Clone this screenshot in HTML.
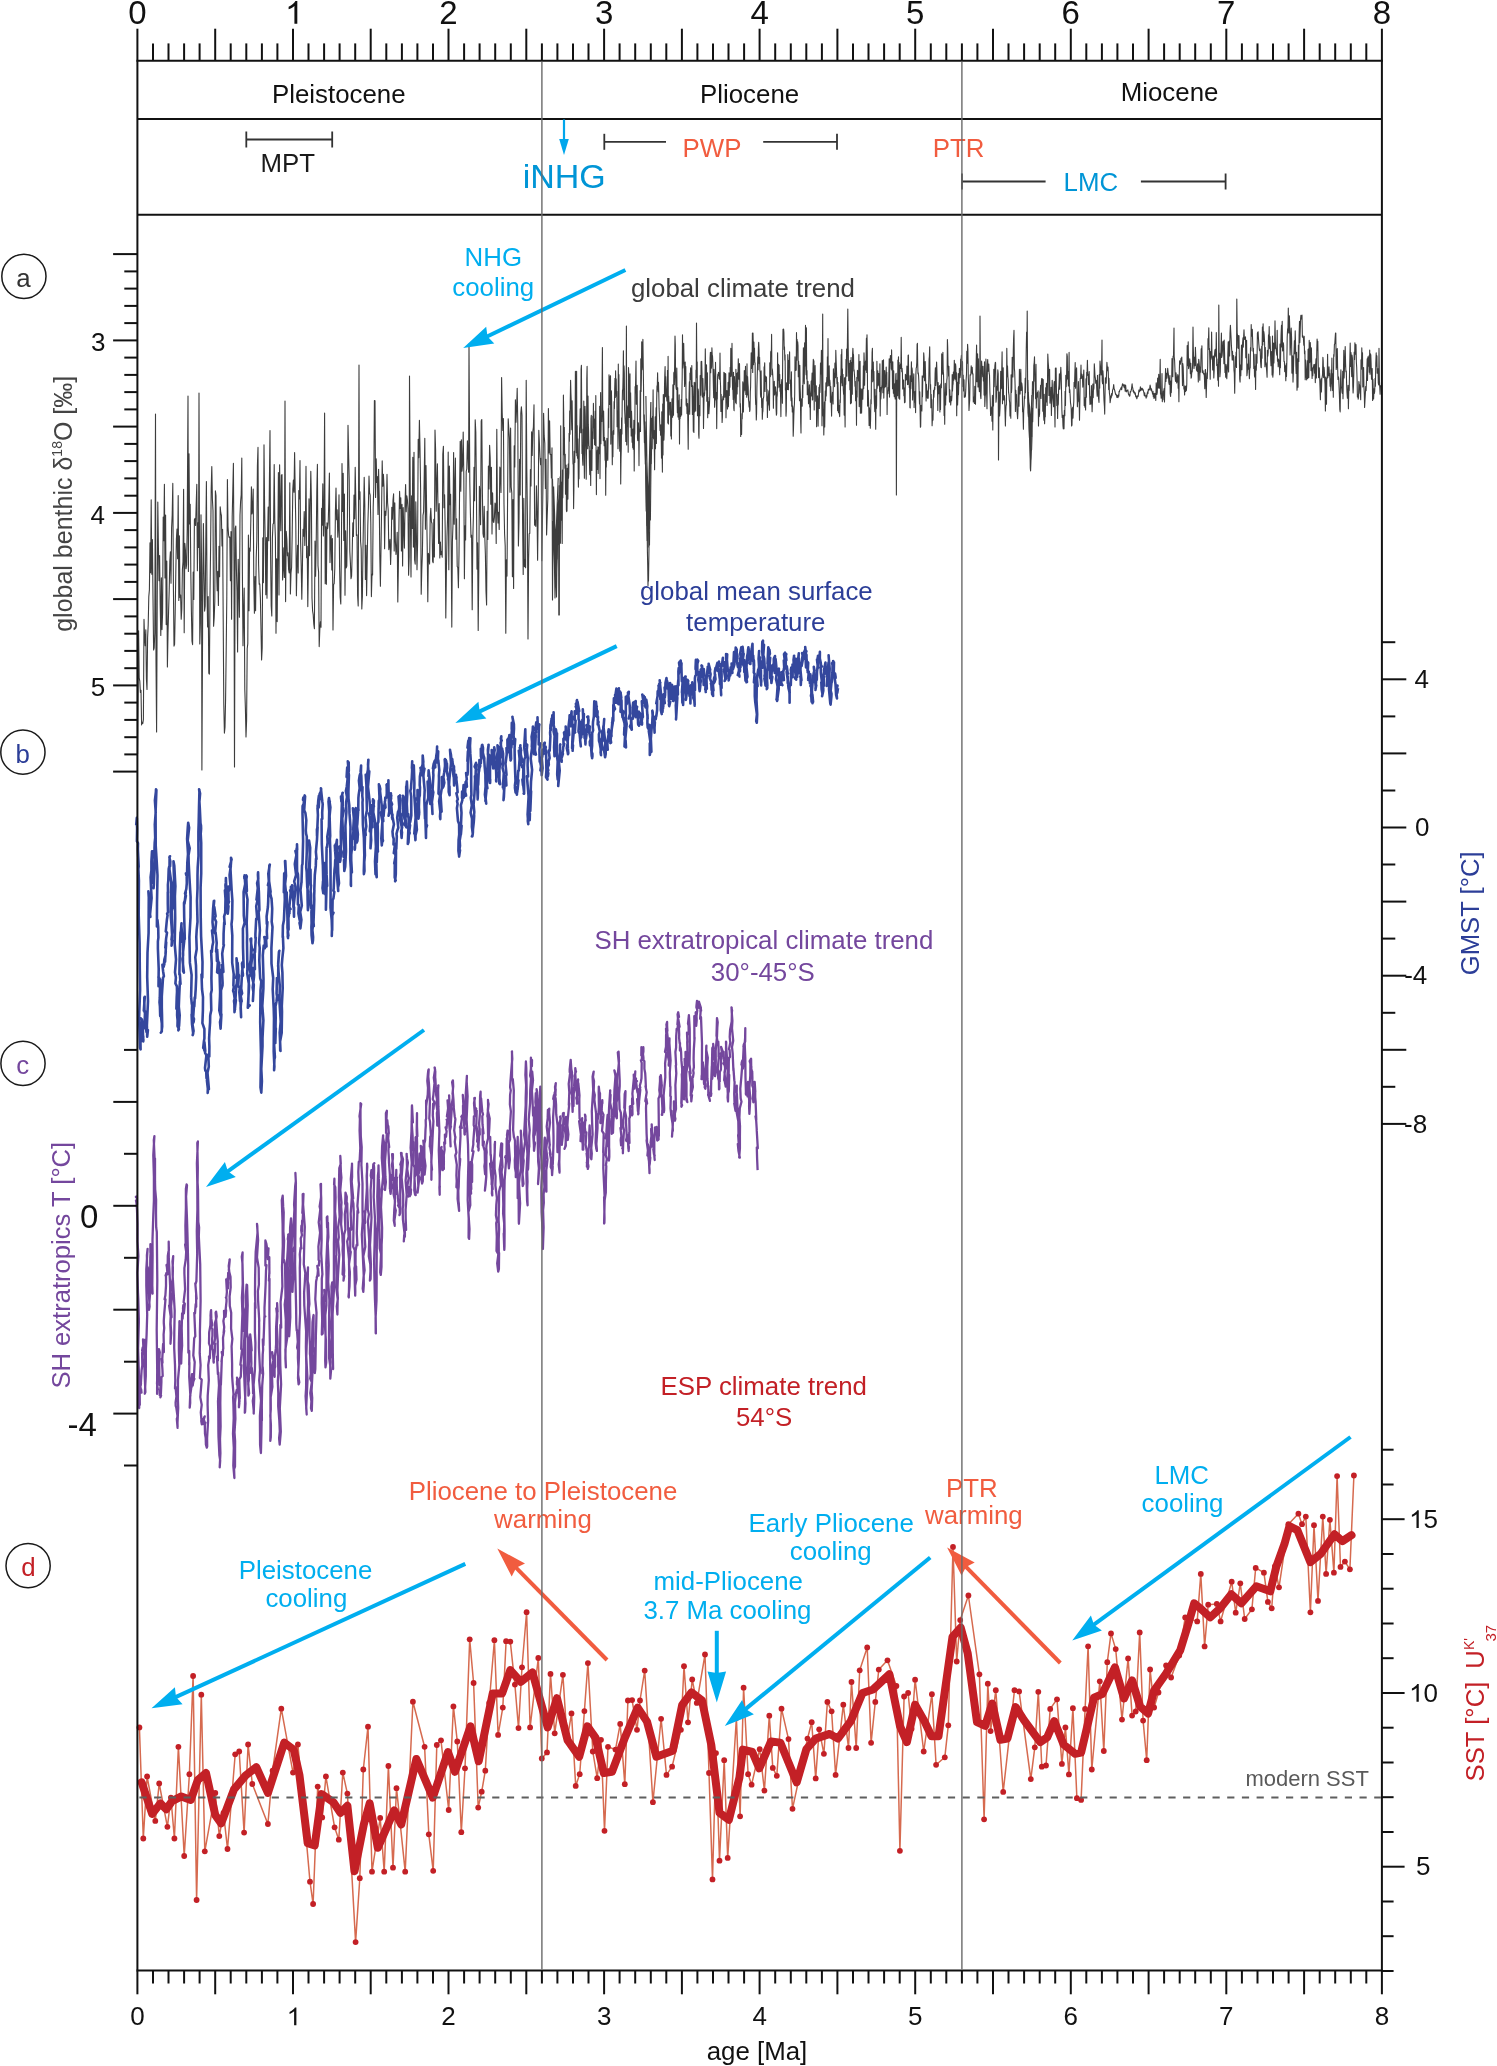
<!DOCTYPE html>
<html><head><meta charset="utf-8"><title>Climate trends</title>
<style>html,body{margin:0;padding:0;background:#fff;}svg{display:block;will-change:transform;}text{font-family:"Liberation Sans",sans-serif;}</style>
</head><body>
<svg xmlns="http://www.w3.org/2000/svg" width="1497" height="2066" viewBox="0 0 1497 2066">
<rect width="1497" height="2066" fill="#fff"/>
<polyline points="137.6,754 138,701.1 138.6,630.7 139.2,677.8 139.8,681.2 140.4,692.5 141,690.3 141.6,724.9 142.2,722.4 142.8,723.5 143.4,719.3 144,619.4 144.6,637.3 145.2,645.7 145.8,629.7 146.4,678.5 147,689.5 147.6,638 148.2,625.1 148.8,596.6 149.4,589.9 150,542.8 150.6,572.8 151.2,499.8 151.8,574.3 152.4,539.5 153,598.4 153.6,650 154.2,647.8 154.8,632.8 155.5,414 156,661.1 156.6,732 157.2,604.5 157.8,502 158.4,546.3 159,580.6 159.6,555.6 160.2,605.2 160.8,635.5 161.4,577.9 162,629.6 162.6,612.8 163.2,517 163.8,540.6 164.4,484.2 165,578 165.6,515.1 166.2,624.6 166.8,561.1 167.4,666.9 168,633.4 168.6,610.7 169.2,590.7 169.8,561.4 170.4,551.9 171,583.3 171.6,528 172.2,515.1 172.8,483.4 173.4,585.2 174,646.1 174.6,644.4 175.2,612.1 175.8,572.5 176.4,539.1 177,529.1 177.6,558.8 178.2,495.6 178.8,600.4 179.4,535.9 180,597.6 180.6,595 181.2,619.3 181.8,609.3 182.4,569.7 183,561.9 183.6,489.4 184.2,632.8 184.8,543.3 185.4,549.7 186,568.8 186.6,565 187.2,529.5 188,396 188.4,571.4 189,453.7 189.6,523.9 190.2,504.2 190.8,572.2 191.4,611.6 192,641.2 192.6,644.7 193.2,572 193.8,599.5 194.4,519.8 195,518.4 195.6,525.5 196.2,504.4 196.8,484.3 197.4,570.7 198,522.8 198.6,547.4 199,393 199.8,644 200.4,622.9 201,514.8 201.6,567.8 201.9,770 202.8,587.3 203.4,523.6 204,571.3 204.6,611.1 205.2,605.9 205.8,541.3 206.4,481.6 207,591 207.6,627 208.2,596.5 208.8,673.1 209.4,674.1 210,595.8 210.6,546.9 211.2,488.5 211.8,466.6 212.4,499.2 213,510.7 213.6,626.2 214.2,617.8 214.8,601.6 215.4,490.9 216,495.9 216.6,570.6 217.2,590.8 217.8,571.3 218.4,605.4 219,546.3 219.6,576.7 220.2,506.8 220.8,513 221.4,515.3 222,545.9 222.6,529.4 223.2,619.1 223.8,704.3 224.4,733.1 225,727.3 225.6,698.8 226.2,650 226.8,597.5 227.4,479.5 228,526.5 228.6,535.4 229.2,537.5 229.8,537 230.4,580.8 231,531.6 231.6,619.2 232.2,516.8 232.8,490.9 233.4,463.3 234,562.7 234.5,767 235.2,528.4 235.8,526 236.4,568.8 237,591.5 237.6,651.9 238.2,559.3 238.8,583.9 239.4,617.3 240,515.2 240.6,501.5 241.2,494.7 241.8,458 242.4,574 243,645.7 243.6,612.1 244.2,588 244.8,689.6 245.4,708.5 246,736.9 246.6,720.4 247.2,648.7 247.8,643.6 248.4,535.1 249,610.7 249.6,548.1 250.2,551.2 250.8,521.2 251.4,486.9 252,513.9 252.6,509.9 253.2,489.1 253.8,580.9 254.4,613.2 255,576.5 255.6,610.8 256.2,558.3 256.8,540.6 257.4,466.1 258,447.4 258.6,564.6 259.2,584.2 259.8,583.9 260.4,598.4 261,629.2 261.6,659.9 262.2,647.7 262.8,537.9 263.4,582.6 264,444.9 264.6,506.9 265.2,541.1 265.8,594.7 266.4,537.6 267,598.3 267.6,538 268.2,507.1 268.8,540.8 269.4,482.5 270,430.5 270.6,554.7 271.2,605.6 271.8,616 272.4,538.3 273,524.1 273.6,523.4 274.2,464.5 274.8,521.1 275.4,538.1 276,633.3 276.6,558.8 277.2,621.6 277.8,549.5 278.4,472.6 279,595 279.6,464.7 280.2,504.8 280.8,530.7 281.4,475.2 282,474.7 282.6,580 283.2,569.5 283.8,547.8 284.4,577.4 285,401 285.6,601.6 286.2,531.3 286.8,539 287.4,555.8 288,552.9 288.6,569.5 289.2,572.9 289.8,482.8 290.4,593.9 291,572.9 291.6,567.5 292.2,533.6 292.8,489.4 293.4,480 294,492.2 294.6,452.6 295.2,491.3 295.8,524.3 296.4,595.7 297,564.2 297.6,545.2 298.2,573 298.8,490.6 299.4,498.9 300,460.5 300.6,541.2 301.2,565.6 301.8,599.3 302.4,567.9 303,529.3 303.6,536.3 304.2,511.6 304.8,545.5 305.4,522.4 306,466.2 306.6,557.7 307.2,546.4 307.8,606.6 308.4,562.7 309,498.7 309.6,555.8 310.2,506.7 310.8,471.2 311.4,499.5 312,598 312.6,611 313.2,614.7 313.8,624.1 314.4,628.8 315,541.1 315.6,576.2 316.2,544.2 316.8,492 317.4,464.4 318,565.7 318.6,572.1 319.2,646.6 319.8,629.7 320.4,621.7 321,627.2 321.6,508.3 322.2,525.3 322.8,483.9 323.4,536 324,516.1 324.6,413 325.2,583.8 325.8,526.7 326.4,584.2 327,522.9 327.6,528.8 328.2,523.3 328.8,501.5 329.4,473 330,562.6 330.6,539.1 331.2,535.4 331.8,570 332.4,538.5 333,630 333.6,584.5 334.2,583.6 334.8,568.2 335.4,511.5 336,488.1 336.6,519.8 337.2,509.7 337.8,537.1 338.4,526.6 339,494.8 339.6,567.8 340.2,597.2 340.8,604 341.4,548.4 342,463.6 342.6,511.4 343.2,473.2 343.8,540.5 344.4,494.1 345,595.3 345.6,530.9 346.2,567.9 346.8,566 347.4,522.2 348,425.3 348.6,454.6 349.2,479.1 349.8,551.1 350.4,562.8 351,578.7 351.6,576.2 352.2,552.8 352.8,522.9 353.4,536.5 354,495.1 354.6,518.7 355.2,467.3 355.8,499.8 356.4,535.4 357,534.8 357.6,595.5 358.2,605.9 359,365 359.4,499.3 360,491.8 360.6,541.5 361.2,548.8 361.8,609 362.4,596.1 363,548.1 363.6,512.2 364.2,477.2 364.8,504.3 365.4,579.4 366,545.2 366.6,595.6 367.2,560.7 367.8,525.5 368.4,506.6 369,476.1 369.6,493 370.2,495.2 370.8,522.8 371.4,596.6 372,574.4 372.6,574.9 373.2,507.6 373.8,486.7 374.4,400.5 375,400.8 375.6,497.4 376.2,458.7 376.8,482.5 377.4,476.5 378,514.4 378.6,469.3 379.2,497.4 379.8,555.7 380.4,586.2 381,548.8 381.6,508.8 382.2,460.9 382.8,486.1 383.4,474.4 384,487 384.6,548.8 385.2,511.2 385.8,515.4 386.4,505.9 387,474.4 387.6,502.8 388.2,510 388.8,549.6 389.4,544.7 390,539.4 390.6,564.5 391.2,546.3 391.8,507.3 392.4,519.2 393,500.2 393.6,493.8 394.2,550.9 394.8,502.9 395.4,541.2 396,554.4 396.6,547.5 397.2,532.3 397.8,602 398.4,565.1 399,519.1 399.6,491.4 400.2,508.5 400.8,497.8 401.4,551 402,504.4 402.6,566 403.2,507.6 403.8,529 404.4,548.1 405,504.8 405.6,484.6 406.2,511.7 406.8,495.9 407.4,499.8 408,508.5 408.6,575.2 409.2,557.4 409.5,376 410.4,516.8 411,576.9 411.6,495.9 412.2,528.5 412.8,457.2 413.4,547.1 414,452.3 414.6,559.6 415.2,564.1 415.8,501.8 416.4,534.6 417,569.7 417.6,543.1 418.2,439.3 418.8,457.6 419.4,420.2 420,447.9 420.6,488.3 421.2,594.2 421.8,569.4 422.4,553.5 423,515.4 423.6,511.9 424.2,478 424.8,438.3 425.4,529.3 426,465.5 426.6,507 427.2,546 427.8,601.8 428.4,553.3 429,557 429.6,563.9 430.2,517.4 430.8,508.2 431.4,521.8 432,523.5 432.6,561.4 433.2,562.8 433.8,519.3 434.4,557 435,430 435.6,450 436.2,511.2 436.8,485.5 437.4,463.8 438,508.6 438.6,543.4 439.2,503.5 439.8,558 440.4,542 441,554.6 441.6,551.5 442.2,557.2 442.8,454.3 443.4,446.3 444,507.7 444.6,494.8 445.2,530.2 445.8,617.9 446.4,570.7 447,536.8 447.6,516.9 448.2,452.1 448.8,569.8 449.4,466.1 450,504.8 450.6,494.2 451.2,547.5 451.8,627.1 452.4,542 453,523.9 453.6,452.6 454.2,524.2 454.8,487.3 455.4,458 456,539.2 456.6,518.7 457.2,566.4 457.8,567.5 458.4,587.7 459,554.4 459.6,490.6 460.2,441.2 460.8,491.2 461.4,439.8 462,471.3 462.6,464.8 463.2,432.1 463.8,474.1 464.4,578.7 465,525.7 465.6,540 466.2,471.5 466.8,468.9 467.4,440.8 468,454.5 468.6,472.3 469,344 469.8,482 470.4,513.3 471,537.3 471.6,535.2 472.2,609.8 472.8,539.1 473.4,515.9 474,467.3 474.6,500.7 475.2,419.7 475.8,432 476.4,484.9 477,569.1 477.6,542.9 478.2,630.5 478.8,570.6 479.4,486.2 480,493.5 480.6,524.8 481.2,420.9 481.8,419.6 482.4,493.4 483,533.3 483.6,537.3 484.2,506.3 484.8,537 485.4,555.1 486,591.2 486.6,605 487.2,511.2 487.8,539.4 488.4,466 489,488.9 489.6,445.2 490.2,457.8 490.8,504.2 491.4,467.3 492,534 492.6,492.9 493.2,520.9 493.8,522.5 494.4,517.5 495,503 495.6,504.8 496.2,543.5 496.8,429.2 497.4,509.1 498,523 498.6,512.2 499.2,529.5 499.8,467.1 500.4,471 501,492.4 501.6,377.5 502.2,412.8 502.8,430.4 503.4,418.5 504,504.3 504.6,534 505.2,545.9 505.8,633.3 506.4,559.7 507,576.1 507.6,496.6 508.2,418.8 508.8,429.1 509.4,437.9 510,492.3 510.6,428.1 511.2,487.1 511.8,492.8 512.4,576.7 513,499.5 513.6,588.5 514.2,445.9 514.8,467 515.4,399.8 516,422.3 516.6,408.2 517.2,388.2 517.8,424.9 518.4,545.9 519,521.2 519.6,459.2 520.2,494.9 520.8,413.4 521.4,406.8 522,415.3 522.6,522.6 523.2,574.5 523.8,498.4 524.4,566.6 525,559.7 525.6,567.7 526.2,380.3 526.8,468.4 527.4,514.9 528,639 528.6,559.5 529.2,533.7 529.8,533.5 530.4,469.6 531,485.9 531.6,431.9 532.2,455.5 532.8,431.8 533.4,427 534,404.7 534.6,525.3 535.2,520.4 535.8,526.4 536.4,485.7 537,507.7 537.6,560.2 538.2,507.5 538.8,430.2 539.4,443 540,456.5 540.6,464.8 541.2,458.2 541.8,560.8 542.4,524 543,479.9 543.6,413.2 544.2,435.9 544.8,443.4 545.4,488.5 546,459.2 546.6,535 547.2,515.8 547.8,499.5 548.4,408.6 549,452.9 549.6,420.9 550.2,454.5 550.8,454.4 551.4,477.9 552,447.9 552.5,600 553.2,521.4 553.8,539.4 554.4,562.6 555,598 555.3,558.4 555.6,572.4 555.9,583.3 556.2,586.4 556.5,596.9 556.8,572.4 557.1,560.8 557.4,546.1 557.7,543.5 558,537 558.3,531.9 558.6,510.7 558.8,615 559.3,615 559.5,498 559.8,489.3 560.1,476.9 560.4,543.3 560.7,425.8 561,479.6 561.3,520.3 561.6,482.2 561.9,522 562.2,543.4 562.5,470.1 562.8,497.8 563.1,474.5 563.4,395.1 563.7,414.3 564,454.7 564.3,427.2 564.6,453.7 564.9,468.2 565.2,454.2 565.5,494.3 565.8,488.4 566.1,465 566.4,510 566.7,511.7 567,510.5 567.3,468.2 567.6,485.9 567.9,499.1 568.2,464.1 568.5,478.2 568.8,472.6 569.1,433.2 569.4,441.2 569.7,410.9 570,434.2 570.3,399.1 570.6,380.3 570.9,392.8 571.2,400.3 571.5,419.3 571.8,429.7 572.1,400.7 572.4,421 572.7,452.8 573,464.1 573.3,463.5 573.6,508.6 573.9,489 574.2,451.2 574.5,459 574.8,462.4 575.1,429.7 575.4,371.3 575.7,402.6 576,397.4 576.3,452.7 576.6,371.2 576.9,455.7 577.2,425.5 577.5,458.2 577.8,438.8 578.1,457.5 578.4,487.1 578.7,465.7 579,478.7 579.3,444.6 579.6,428.5 579.9,424 580.2,409 580.5,408.7 580.8,432.8 581.1,369 581.4,365.4 581.7,408.8 582,453.5 582.3,446.6 582.6,459.7 582.9,465.3 583.2,429 583.5,454.7 583.8,401.1 584.1,453.1 584.4,478.2 584.7,424.1 585,406.3 585.3,415.9 585.6,441.9 585.9,455.6 586.2,479.3 586.5,447.3 586.8,378.8 587.1,366.4 587.4,424.4 587.7,448.7 588,396.1 588.3,424.4 588.6,430.8 588.9,446 589.2,446.2 589.5,465.9 589.8,474.6 590.1,450.7 590.4,462.1 590.7,485.5 591,418.7 591.3,415.2 591.6,445.1 591.9,470.4 592.2,431.9 592.5,448.4 592.8,416 593.1,438.6 593.4,403.4 593.7,427.6 594,418.8 594.3,420.8 594.6,444.8 594.9,442 595.2,411 595.5,445.4 595.8,395.6 596.1,454.7 596.4,494.6 596.7,452.5 597,455.6 597.3,450.1 597.6,469.5 597.9,446.9 598.2,473.4 598.5,455.3 598.8,447.4 599.1,453.7 599.4,445.1 599.7,406.2 600,478.6 600.3,434.5 600.6,392.5 600.9,443.7 601.2,416.4 601.5,416.2 601.8,421.5 602.1,384.3 602.4,347.5 602.7,406.9 603,419.5 603.3,440.6 603.6,411 603.9,426.6 604.2,445.8 604.5,437.2 604.8,444.3 605.1,460.2 605.4,440.9 605.7,495.3 606,454 606.3,467.1 606.6,452.8 606.9,438.3 607.2,456.1 607.5,458.6 607.8,460.4 608.1,436 608.4,408.5 608.7,427.6 609,374.8 609.3,397.4 609.6,399.8 609.9,404.4 610.2,376.4 610.5,375.7 610.8,444.1 611.1,407.2 611.4,390.9 611.7,405 612,435.7 612.3,464.7 612.6,439.2 612.9,456.8 613.2,431.6 613.5,430.3 613.8,434.3 614.1,401.5 614.4,408.6 614.7,389.2 615,378.2 615.3,397.4 615.6,370.7 615.9,392.1 616.2,378.8 616.5,396.2 616.8,391.4 617.1,426.8 617.4,410.7 617.7,414.4 618,448.7 618.3,364.1 618.6,402.3 618.9,374.5 619.2,431.3 619.5,443.6 619.8,451.3 620.1,447.8 620.4,429.4 620.7,483.9 621,459.6 621.3,447.7 621.6,417.7 621.9,433.9 622.2,402.9 622.5,390.2 622.8,389.3 623.1,376.1 623.4,350.8 623.7,399.8 624,365.8 624.3,372.9 624.6,409.5 624.9,415.2 625.2,423.4 625.5,423.5 625.8,441.4 626.1,432.5 626.4,326 626.7,445 627,405.5 627.3,414.3 627.6,426.4 627.9,406.8 628.2,452.3 628.5,367.5 628.8,373.7 629.1,388.9 629.4,417.5 629.7,391.7 630,373.9 630.3,427.2 630.6,392.8 630.9,411 631.2,435.9 631.5,411.3 631.8,420 632.1,442.2 632.4,433.8 632.7,447.6 633,429 633.3,449.2 633.6,435.5 633.9,420.2 634.2,471 634.5,435.5 634.8,433 635.1,386.6 635.4,392.9 635.7,378.5 636,361 636.3,404.2 636.6,387.1 636.9,403.3 637.2,385.4 637.5,438.5 637.8,440.6 638.1,440.3 638.4,422.7 638.7,436.1 639,465.6 639.3,430 639.6,432 639.9,421.8 640.2,390.6 640.5,431.4 640.8,358.8 641.1,391.5 641.4,377.8 641.7,341.8 642,369.6 642.3,365.2 642.6,348.6 642.9,339.4 643.2,362.8 643.5,384.1 643.8,415.5 644.1,426.3 644.4,442.6 644.7,430.4 645,445.3 645.3,464 645.6,454.8 645.9,485.1 646.2,511.1 646.5,501 646.8,525.6 647.1,524 647.4,551.2 647.7,565.3 648,585.5 648.3,572.4 648.5,581 648.9,554.5 649.2,532.5 649.5,545 649.8,509.5 650.1,507.2 650.4,520 650.7,491.9 651,464.2 651.3,463.7 651.6,445 651.9,437.5 652.2,448.7 652.5,416.4 652.8,419.4 653.1,389.8 653.4,437.6 653.7,439 654,430.6 654.3,446.5 654.6,469.7 654.9,434 655.2,416.8 655.5,448.7 655.8,422.7 656.1,407.7 656.4,443.5 656.7,398.9 657,385.7 657.3,386 657.6,372.7 657.9,388.1 658.2,391.6 658.5,382.4 658.8,393.9 659.1,408.4 659.4,414.3 659.7,422.4 660,430.5 660.3,426 660.6,435.3 660.9,424.7 661.2,431.4 661.5,458.1 661.8,411.7 662.1,452.7 662.4,472.1 662.7,404.1 663,455 663.3,394.6 663.6,424.6 663.9,440.1 664.2,432.1 664.5,386.5 664.8,374.4 665.1,366.5 665.4,396.8 665.7,376.5 666,385.3 666.3,391.8 666.6,396.6 666.9,400.9 667.2,396.4 667.5,370.3 667.8,422.9 668.1,356.4 668.4,423.9 668.7,396.1 669,405.1 669.3,402.1 669.6,406.9 669.9,414.9 670.2,413.1 670.5,402.2 670.8,436 671.1,411.5 671.4,438.9 671.7,411.3 672,398.9 672.3,413.6 672.6,417.3 672.9,384.9 673.2,391.5 673.5,415.2 673.8,373.2 674.1,372 674.4,384.6 674.7,359.2 675,336 675.3,345.1 675.6,377.9 675.9,386 676.2,388.8 676.5,389.5 676.8,368 677.1,401.5 677.4,412.7 677.7,387.7 678,417 678.3,400.5 678.6,412.9 678.9,419.4 679.2,394.7 679.5,443.9 679.8,412.1 680.1,418.6 680.4,407.3 680.7,416.5 681,410.8 681.3,399.2 681.6,415 681.9,392.5 682.2,376.9 682.5,334.8 682.8,368 683.1,362.6 683.4,348.6 683.7,343.4 684,359.8 684.3,366.7 684.6,386.4 684.9,382.3 685.2,362 685.5,383.4 685.8,366.5 686.1,404.6 686.4,406.2 686.7,399 687,413.6 687.3,413.4 687.6,403.5 687.9,427.7 688.2,449.3 688.5,411.8 688.8,410.9 689.1,393.5 689.4,381.8 689.7,414.2 690,373 690.3,379.6 690.6,367.9 690.9,375.2 691.2,371.7 691.5,386.5 691.8,365.6 692.1,387.9 692.4,414.4 692.7,385.9 693,396.8 693.3,431.2 693.6,423.2 693.9,432.5 694.2,382.3 694.5,411.9 694.8,388.3 695.1,382.9 695.4,404.2 695.7,411.1 696,370.1 696.3,371.7 696.5,323 696.9,377.6 697.2,361.9 697.5,415.8 697.8,397.4 698.1,389 698.4,391.4 698.7,434.8 699,438.2 699.3,405.6 699.6,410.7 699.9,415.8 700.2,375.5 700.5,376.4 700.8,395.3 701.1,361.6 701.4,369.3 701.7,361.2 702,373.3 702.3,397 702.6,380.9 702.9,378.5 703.2,391.9 703.5,428.4 703.8,409.9 704.1,393.1 704.4,395.9 704.7,392.9 705,381.7 705.3,348.9 705.6,374.1 705.9,371.5 706.2,390 706.5,364.7 706.8,401.2 707.1,384.8 707.4,372.8 707.7,417.8 708,397.3 708.3,413.5 708.6,401.6 708.9,413.6 709.2,408.9 709.5,404.3 709.8,394.1 710.1,358.1 710.4,352.4 710.7,372.8 711,352.6 711.3,368.4 711.6,366.6 711.9,347.8 712.2,355 712.5,356 712.8,361.5 713.1,372.7 713.4,386.8 713.7,397.8 714,369.3 714.3,376.9 714.6,407.3 714.9,400.7 715.2,394.2 715.5,362.2 715.8,382.2 716.1,399.9 716.4,392.2 716.7,428.6 717,399.9 717.3,398.9 717.6,376.9 717.9,374.1 718.2,375.5 718.5,372.4 718.8,374 719.1,378.4 719.4,372.9 719.7,379.4 720,353 720.3,380.2 720.6,387.2 720.9,411.5 721.2,394.3 721.5,408.1 721.8,399.7 722.1,422.4 722.4,417.1 722.7,398.7 723,396.3 723.3,396.7 723.6,399.8 723.9,372.2 724.2,393.9 724.5,373 724.8,397.3 725.1,394.4 725.4,373.5 725.7,374 726,417.7 726.3,397.3 726.6,399.9 726.9,390.5 727.2,397.8 727.5,408.9 727.8,403.8 728.1,382.4 728.4,406.6 728.7,391.8 729,372.8 729.3,395.4 729.6,377.6 729.9,387.3 730.2,367.3 730.5,376.5 730.8,348.2 731.1,374.9 731.4,352.4 731.7,376.2 732,343.4 732.3,377.3 732.6,389.4 732.9,388.3 733.2,399.5 733.5,372.3 733.8,408.2 734.1,410.7 734.4,376.6 734.7,383.8 735,388.7 735.3,397.8 735.6,402.4 735.9,369.4 736.2,403.8 736.5,388.2 736.8,373.6 737.1,394 737.4,372.7 737.7,386.8 738,374.4 738.3,358.7 738.6,376.4 738.9,379.2 739.2,370 739.5,363.5 739.8,384.5 740.1,406.9 740.4,403.5 740.7,436.4 741,424.9 741.3,431.5 741.6,434.4 741.9,413.6 742.2,418.8 742.5,407.6 742.8,381.8 743.1,384.6 743.4,411.9 743.7,392.5 744,392.1 744.3,370.6 744.6,377.4 744.9,390.2 745.2,377.1 745.5,366.2 745.8,394.5 746.1,377 746.4,375.9 746.7,397.2 747,363.7 747.3,394.9 747.6,376.5 747.9,383.2 748.2,387 748.5,399.7 748.8,402 749.1,407 749.4,402 749.7,411.4 750,409.6 750.3,391.8 750.6,387 750.9,367.4 751.2,352.9 751.5,368.5 751.8,356.1 752.1,360.8 752.4,333 752.7,372.5 753,333 753.3,345.8 753.6,364.6 753.9,342.1 754.2,359.3 754.5,348.1 754.8,362.3 755.1,363 755.4,395.2 755.7,404.4 756,403.8 756.3,420 756.6,413.1 756.9,387.5 757.2,376.4 757.5,367.3 757.8,356.7 758.1,369.8 758.4,348.3 758.7,342.3 759,348.9 759.3,363.6 759.6,357.2 759.9,371.2 760.2,372.1 760.5,394.4 760.8,397.3 761.1,370.9 761.4,391.6 761.7,407.5 762,398.5 762.3,419.2 762.6,412.6 762.9,411.1 763.2,398.3 763.5,398.1 763.8,396 764.1,366.8 764.4,368.9 764.7,362.9 765,391.4 765.3,375.7 765.6,380.3 765.9,381.5 766.2,376.7 766.5,377.6 766.8,401 767.1,389.6 767.4,417.4 767.7,404.1 768,405.2 768.3,396.9 768.6,394.1 768.9,390.9 769.2,404.7 769.5,410.2 769.8,362.7 770.1,375.6 770.4,376.6 770.7,352.2 771,351 771.3,355.8 771.6,334.4 771.9,374.7 772.2,368.7 772.5,370.8 772.8,375.5 773.1,380.2 773.4,408.3 773.7,384.6 774,395.3 774.3,381.2 774.6,394.6 774.9,388.9 775.2,393.6 775.5,386.9 775.8,390.6 776.1,408.9 776.4,415.1 776.7,413.7 777,391.7 777.3,395.9 777.6,352.7 777.9,387.7 778.2,367.6 778.5,364.4 778.8,380.2 779.1,365.2 779.4,387 779.7,374.4 780,391.3 780.3,384.2 780.6,397.7 780.9,416.6 781.2,389.9 781.5,383.2 781.8,379.5 782.1,380 782.4,403.2 782.7,354.7 783,329.3 783.3,339.3 783.6,329.1 783.9,332.6 784.2,349.4 784.5,346.9 784.8,360 785.1,354.8 785.4,390 785.7,388 786,416.1 786.3,411.1 786.6,382.7 786.9,384.4 787.2,385.2 787.5,389.4 787.8,354.6 788.1,370.1 788.4,389.7 788.7,360.8 789,360.2 789.3,362 789.6,351.9 789.9,383.4 790.2,379.7 790.5,383.2 790.8,395 791.1,400.6 791.4,371.8 791.7,406.3 792,397.8 792.3,411.9 792.6,405.8 792.9,408.6 793.2,436.2 793.5,428.5 793.8,416.6 794.1,408.1 794.4,404.3 794.7,394.6 795,356.8 795.3,367.1 795.6,366.6 795.9,370.5 796.2,369.8 796.5,332.6 796.8,360.2 797.1,339.4 797.4,349.5 797.7,341.7 798,345.9 798.3,376.7 798.6,361 798.9,367.6 799.2,388.5 799.5,400.7 799.8,365.3 800.1,386.8 800.4,394.2 800.7,422.2 801,433 801.3,398.8 801.6,401.6 801.9,405.2 802.2,406.3 802.5,385.2 802.8,397.5 803.1,375.3 803.4,347.8 803.7,361.6 804,379.2 804.3,383.8 804.6,342.9 804.9,346 805.2,365.9 805.5,325.4 805.8,368.3 806.1,374.8 806.4,327.8 806.7,379 807,370.6 807.3,394.7 807.6,384.1 807.9,381.3 808.2,389.6 808.5,403.8 808.8,398 809.1,399.9 809.4,384.9 809.7,407.1 810,399 810.3,419.5 810.6,393.7 810.9,390.3 811.2,381.1 811.5,395.9 811.8,381.7 812.1,373 812.4,399.9 812.7,399.8 813,369 813.3,359.3 813.6,384.3 813.9,360.7 814.2,409.9 814.5,374.9 814.8,391.6 815.1,365.5 815.4,384.3 815.7,401.3 816,395.7 816.3,385.9 816.6,426.8 816.9,407.6 817.2,397.9 817.5,395.8 817.8,402.7 818.1,426.1 818.4,398.8 818.7,403.7 819,387.3 819.3,408.4 819.6,384.8 819.9,392.4 820.2,383.2 820.5,363 820.8,374 821.1,371.6 821.4,350.4 821.7,381.6 822,425.8 822.3,383.8 822.7,314 822.9,385.4 823.2,415.9 823.5,409.9 823.8,434.9 824.1,420.9 824.4,402 824.7,427 825,405.6 825.3,390.9 825.6,400.5 825.9,382.7 826.2,395.9 826.5,385.6 826.8,377.2 827.1,386.2 827.4,356.7 827.7,381.4 828,338.5 828.3,385.8 828.6,370.8 828.9,368.4 829.2,365.7 829.5,385.8 829.8,380 830.1,383.2 830.4,402.3 830.7,386.6 831,392.6 831.3,404.7 831.6,416.1 831.9,396.7 832.2,397.2 832.5,392.2 832.8,397.8 833.1,404 833.4,368.9 833.7,375.8 834,373.4 834.3,378.2 834.6,386.6 834.9,363.3 835.2,362.8 835.5,377.8 835.8,350.3 836.1,360.1 836.4,367.8 836.7,377.1 837,383.8 837.3,377.6 837.6,410.8 837.9,382.2 838.2,392.4 838.5,412.8 838.8,412.3 839.1,405.5 839.4,414.2 839.7,416.6 840,399.7 840.3,402.5 840.6,376 840.9,383 841.2,354.6 841.5,358.5 841.8,349.3 842.1,385.8 842.4,368.9 842.7,384.6 843,374.2 843.3,389.4 843.6,394.1 843.9,392.2 844.2,415.1 844.5,377.9 844.8,404.1 845.1,426.9 845.4,377.1 845.7,384.3 846,359.4 846.3,375.6 846.6,349 846.9,376.3 847.2,357.5 847.5,335.6 847.8,309 848.1,339.1 848.4,361 848.7,380.8 849,368.9 849.3,363.2 849.6,372.4 849.9,389.7 850.2,360.5 850.5,403.7 850.8,398.4 851.1,357.5 851.4,402.9 851.7,362.6 852,378.6 852.3,394.2 852.6,354 852.9,348.3 853.2,355.1 853.5,354.5 853.8,371 854.1,369.8 854.4,374.1 854.7,378.2 855,386.2 855.3,381.2 855.6,400.8 855.9,400.4 856.2,390.9 856.5,425.2 856.8,377.4 857.1,396.9 857.4,370.4 857.7,378.1 858,373.3 858.3,370.8 858.6,381 858.9,354.5 859.2,406.6 859.5,377.6 859.8,365 860.1,361.2 860.4,413.2 860.7,407.4 861,388.9 861.3,402.5 861.6,413.1 861.9,399 862.2,389 862.5,390.9 862.8,399.2 863.1,385.3 863.4,365.7 863.7,388.6 864,352.9 864.3,362.5 864.6,385.3 864.9,369.1 865.2,365.8 865.5,361 865.8,369.9 866.1,357.9 866.4,338.4 866.7,372.5 867,334.7 867.3,353.3 867.6,406.1 867.9,404.4 868.2,390.2 868.5,400.6 868.8,408.1 869.1,425.4 869.4,407.7 869.7,411.7 870,420.4 870.3,428.3 870.6,419 870.9,399.6 871.2,403.8 871.5,369.7 871.8,371.2 872.1,352.3 872.4,348.2 872.7,381.8 873,366.3 873.3,362.1 873.6,380.3 873.9,371.4 874.2,396.8 874.5,404.7 874.8,411.6 875.1,389.3 875.4,405.7 875.7,429.3 876,396.1 876.3,408.6 876.6,405.4 876.9,361.3 877.2,388.2 877.5,375.7 877.8,370.9 878.1,385.7 878.4,374.1 878.7,373.5 879,384.6 879.3,376.6 879.6,391.6 879.9,363.7 880.2,416 880.5,387.4 880.8,399 881.1,394 881.4,389.2 881.7,387.2 882,384.5 882.3,360.6 882.6,372.5 882.9,392.7 883.2,362.2 883.5,359.7 883.8,398.1 884.1,384.4 884.4,387.7 884.7,370.6 885,377.1 885.3,386.4 885.6,386.8 885.9,381.5 886.2,367 886.5,379.3 886.8,372.4 887.1,414.5 887.4,391.3 887.7,391 888,393.8 888.3,387.4 888.6,390.8 888.9,373.1 889.2,358.7 889.5,397.1 889.8,362.8 890.1,362.7 890.4,355.6 890.7,355.7 891,359.8 891.3,369.1 891.6,349.9 891.9,370.3 892.2,361.7 892.5,388.8 892.8,361.8 893.1,382 893.4,393.2 893.7,370.7 894,392.7 894.3,396.6 894.6,383.7 894.9,387.4 895.2,399 895.5,386.1 895.8,374.3 896.1,373.3 896.4,495 896.7,384.6 897,380.3 897.3,382.4 897.6,395.7 897.9,360 898.2,364.2 898.5,356.8 898.8,398.2 899.1,362.5 899.4,393.2 899.7,399.3 900,365.1 900.3,366.6 900.6,363.8 900.9,368.4 901.2,337.4 901.5,363.6 901.8,371.7 902.1,368.4 902.4,372.1 902.7,389 903,379.9 903.3,380.4 903.6,380.1 903.9,395.7 904.2,387.7 904.5,402.7 904.8,394.2 905.1,402.3 905.4,374.3 905.7,380.3 906,379.2 906.3,375.4 906.6,379.6 906.9,366.1 907.2,367.8 907.5,384.6 907.8,374.8 908.1,355.6 908.4,355 908.7,384.4 909,375.5 909.3,387.5 909.6,385.8 909.9,407.6 910.2,407.9 910.5,375.8 910.8,388.7 911.1,377.9 911.4,361.7 911.7,381.4 912,367.9 912.3,371 912.6,400 912.9,390.7 913.2,392.4 913.5,378.7 913.8,373.9 914.1,407.6 914.4,393.5 914.7,402.1 915,391.7 915.3,391.2 915.6,412.6 915.9,373.7 916.2,367.9 916.5,367.5 916.8,362.2 917.1,344.3 917.4,343.3 917.7,363.4 918,373.7 918.3,372.7 918.6,376 918.9,382.6 919.2,394.9 919.5,404 919.8,391.9 920.1,410.6 920.4,427.2 920.7,426.6 921,405.3 921.3,410.6 921.6,408.1 921.9,410.9 922.2,375.9 922.5,396.7 922.8,376.5 923.1,377.9 923.4,377 923.7,352.9 924,356.7 924.3,367.9 924.6,380.8 924.9,368.8 925.2,361.6 925.5,373 925.8,388.8 926.1,400.9 926.4,384.3 926.7,389.4 927,394.1 927.3,397.6 927.6,391.1 927.9,398.4 928.2,398 928.5,388.5 928.8,379.4 929.1,359.1 929.4,356.3 929.7,346.8 930,375.9 930.3,389.1 930.6,384.6 930.9,407.7 931.2,394.2 931.5,402.7 931.8,399.5 932.1,425.8 932.4,419.5 932.7,420.5 933,419.7 933.3,405.8 933.6,390.2 933.9,397.3 934.2,391.6 934.5,387.4 934.8,389.5 935.1,373.8 935.4,367.8 935.7,385.5 936,380.3 936.3,369.3 936.6,362.1 936.9,370.2 937.2,382.2 937.5,390 937.8,410.5 938.1,382.5 938.4,389.5 938.7,386.2 939,393.7 939.3,390.9 939.6,385.5 939.9,411.9 940.2,401 940.5,409.4 940.8,384 941.1,388 941.4,387.6 941.7,353.8 942,355.3 942.3,374.1 942.6,368.1 942.9,352.2 943.2,370.9 943.5,373.6 943.8,386.3 944.1,415.6 944.4,397.7 944.7,424.2 945,393.6 945.3,383.4 945.6,404.9 945.9,393.2 946.2,393.4 946.5,395.1 946.8,380.4 947.1,377.6 947.4,339.6 947.7,347.3 948,365.4 948.3,366.5 948.6,376.1 948.9,366.4 949.2,388.1 949.5,402.1 949.8,389.7 950.1,396.4 950.4,396.4 950.7,405 951,400.7 951.3,396.2 951.6,400.7 951.9,396.4 952.2,374.6 952.5,391 952.8,385.3 953.1,384 953.4,372.1 953.7,380.3 954,378.5 954.3,360.2 954.6,368.4 954.9,376.2 955.2,379.2 955.5,363.9 955.8,366.2 956.1,381.3 956.4,372.6 956.7,415.7 957,382 957.3,385.5 957.6,405 957.9,395.9 958.2,373.5 958.5,394.7 958.8,381.9 959.1,383.7 959.4,368.2 959.7,372.8 960,377.6 960.4,374.6 960.7,359 961.1,359.3 961.4,355.2 961.8,369.9 962.2,370.3 962.5,361.5 962.9,386.5 963.2,375 963.6,390.9 964,379.8 964.3,397.2 964.7,396.1 965,397.1 965.4,396.2 965.8,389.4 966.1,380.2 966.5,374.1 966.8,351.4 967.2,363.1 967.6,344.3 967.9,349.5 968.3,377.7 968.6,384.6 969,410.5 969.4,403.7 969.7,400.2 970.1,374.9 970.4,375.1 970.8,375 971.2,365.8 971.5,370 971.9,373.3 972.2,367.4 972.6,373.9 973,373.7 973.3,401.9 973.7,400 974,397 974.4,403.4 974.8,386.2 975.1,399.8 975.5,404.3 975.8,380.7 976.2,360.9 976.6,345.1 976.9,381.8 977.3,368.2 977.6,353.9 978,387 978.4,358.9 978.7,379.5 979.1,387.5 979.4,391.6 979.8,387.5 980,316 980.5,395.4 980.9,398.7 981.2,388 981.6,361.1 982,367.8 982.3,370.9 982.7,376.8 983,366.3 983.4,381 983.8,377.7 984.1,395.1 984.5,361.8 984.8,406.5 985.2,396.6 985.6,393.5 985.9,359 986.3,376.3 986.6,392.4 987,408.7 987.4,364.4 987.7,359.5 988.1,369.8 988.4,371.3 988.8,364.1 989.2,373.7 989.5,375 989.9,392.2 990.2,398.7 990.6,415.5 991,408.6 991.3,409.5 991.7,406.9 992,421.3 992.4,395.4 992.8,430 993.1,398 993.5,406 993.8,369.4 994.2,386.7 994.6,371.2 994.9,365.6 995.3,362.4 995.6,362.9 996,402.2 996.4,397.7 996.7,386.2 997.1,390.6 997.4,381.5 997.8,369.9 998.2,373.8 998.5,460 998.9,402.4 999.2,392 999.6,416 1000,408.8 1000.3,400.6 1000.7,371.3 1001,388.7 1001.4,387.7 1001.8,367.7 1002.1,351.9 1002.5,403.7 1002.8,382.8 1003.2,367.7 1003.6,400 1003.9,399 1004.3,395.6 1004.6,398.2 1005,411.2 1005.4,425.9 1005.7,412.7 1006.1,404.9 1006.4,405 1006.8,348.4 1007.2,376.8 1007.5,365.9 1007.9,376.7 1008.2,379.9 1008.6,392.4 1009,394.8 1009.3,399.8 1009.7,402.6 1010,416 1010.4,405.9 1010.8,418.3 1011.1,374.7 1011.5,392.5 1011.8,388.2 1012.2,357.3 1012.6,361 1012.9,377 1013.3,349.7 1013.6,338.7 1014,330.4 1014.4,368.5 1014.7,371.9 1015.1,385.4 1015.4,411.5 1015.8,390.4 1016.2,398.9 1016.5,394.5 1016.9,409.6 1017.2,413.3 1017.6,418.7 1018,410.8 1018.3,387.8 1018.7,386.4 1019,406.2 1019.4,369.4 1019.8,387.3 1020.1,393.9 1020.5,375.6 1020.8,369.3 1021.2,390.4 1021.6,382.8 1021.9,384 1022.3,387.5 1022.6,411.8 1023,411.7 1023.4,429.3 1023.7,409.9 1024.1,405.1 1024.4,396.2 1024.8,398.6 1025.2,378.2 1025.5,392.8 1025.9,377.7 1026.2,352.6 1026.6,332 1027,345.5 1027.2,311 1027.7,398 1028,412.6 1028.4,416.6 1028.8,409.6 1029.1,413.9 1029.5,438.1 1029.8,432.7 1030.3,468 1030.6,471 1030.9,462.6 1031.3,450.8 1031.6,449.9 1032,436.7 1032.4,408.3 1032.7,421.8 1033.1,403.9 1033.4,396.1 1033.8,365.5 1034.2,362.6 1034.5,356.7 1034.9,381.2 1035.2,379.1 1035.6,398.7 1036,364.4 1036.3,408 1036.7,395 1037,397.4 1037.4,392.5 1037.8,396.1 1038.1,390.8 1038.5,425.9 1038.8,409.1 1039.2,416.8 1039.6,413.8 1039.9,392.1 1040.3,391.1 1040.6,385.3 1041,398.4 1041.4,382.5 1041.7,378.5 1042.1,383 1042.4,378.7 1042.8,411.2 1043.2,379.5 1043.5,412.7 1043.9,420.3 1044.2,394.3 1044.6,423.8 1045,413 1045.3,416.7 1045.7,387.7 1046,401.9 1046.4,383.4 1046.8,387.8 1047.1,405.5 1047.5,383.1 1047.8,354 1048.2,362.2 1048.6,367.5 1048.9,395.5 1049.3,377.3 1049.6,369.3 1050,403.1 1050.4,395.1 1050.7,398.4 1051.1,387.2 1051.4,415.4 1051.8,399.5 1052.2,380.3 1052.5,392.2 1052.9,397.8 1053.2,400.9 1053.6,406.7 1054,384.9 1054.3,381.6 1054.7,408.5 1055,427 1055.4,368.1 1055.8,376 1056.1,368 1056.5,394.3 1056.8,405.5 1057.2,394.4 1057.6,418.5 1057.9,402.2 1058.3,404.9 1058.6,389.7 1059,385.3 1059.4,373.8 1059.7,389.2 1060.1,379.9 1060.4,376.5 1060.8,367.2 1061.2,375.4 1061.5,389.9 1061.9,410.7 1062.2,417.5 1062.6,415.3 1063,426 1063.3,429 1063.7,415.3 1064,428.7 1064.4,410.3 1064.8,415.8 1065.1,391.2 1065.5,405.5 1065.8,375.4 1066.2,386.7 1066.6,376.1 1066.9,353.7 1067.3,356.3 1067.6,379.1 1068,371.3 1068.4,386 1068.7,380 1069.1,352.4 1069.4,392.4 1069.8,389.5 1070.2,396.2 1070.5,402.7 1070.9,405.3 1071.2,409.1 1071.6,426 1072,425 1072.3,409 1072.7,407.4 1073,418.1 1073.4,407.7 1073.8,401.5 1074.1,382.3 1074.5,386.5 1074.8,375 1075.2,362.5 1075.6,388.2 1075.9,371.1 1076.3,370.4 1076.6,367.9 1077,389.4 1077.4,406.8 1077.7,394.2 1078.1,401.2 1078.4,381.6 1078.8,399.9 1079.2,403.7 1079.5,420.3 1079.9,397.8 1080.2,378.4 1080.6,378.2 1081,365 1081.3,378.5 1081.7,374.1 1082,374.5 1082.4,376.5 1082.8,387.1 1083.1,377 1083.5,376.2 1083.8,370 1084.2,405.4 1084.6,402.1 1084.9,407.2 1085.3,397.3 1085.6,410 1086,378.8 1086.4,397.2 1086.7,372.2 1087.1,372.1 1087.4,360.3 1087.8,375.4 1088.2,374.4 1088.5,384.6 1088.9,377 1089.2,371.6 1089.6,394.4 1090,404.5 1090.3,401.7 1090.7,396.5 1091,404 1091.4,385.5 1091.8,400.4 1092.1,411.8 1092.5,401 1092.8,384.1 1093.2,397.6 1093.6,383.9 1093.9,388.9 1094.3,363.8 1094.6,368.9 1095,376.1 1095.4,378.3 1095.7,383.3 1096.1,380.2 1096.4,380.8 1096.8,389.9 1097.2,396.3 1097.5,375.2 1097.9,389.5 1098.2,393.1 1098.6,398.7 1099,402.4 1099.3,374.5 1099.7,388.1 1100,361 1100.4,365.9 1100.8,370.2 1101.1,374.9 1101.5,373.8 1102,340 1102.2,380.9 1102.6,383.8 1102.9,370.8 1103.3,377.3 1103.6,388.9 1104,400.4 1104.4,406.1 1104.7,414.1 1105.1,389.9 1105.4,377.9 1105.8,382.8 1106.2,383.1 1106.5,374.8 1106.9,362.4 1107.2,366 1107.6,370.7 1108,367.1 1108.3,373.1 1108.7,389.6 1109,378.3 1109.4,393 1109.8,395.8 1110.1,402.7 1110.5,400 1110.8,396.1 1111.2,397.9 1111.6,393.6 1111.9,396 1112.3,394 1112.6,389.7 1113,389.5 1113.4,387.1 1113.7,384.6 1114.1,388.9 1114.4,389.1 1114.8,391 1115.2,392.5 1115.5,394.2 1115.9,394.8 1116.2,394.3 1116.6,395.8 1117,397.5 1117.3,396.2 1117.7,395.2 1118,397.7 1118.4,394.8 1118.8,396.2 1119.1,391.3 1119.5,391.6 1119.8,390.2 1120.2,389.5 1120.6,388.9 1120.9,388.4 1121.3,387.1 1121.6,389.8 1122,387.3 1122.4,384.3 1122.7,383.8 1123.1,385.5 1123.4,385.8 1123.8,384.7 1124.2,387.8 1124.5,384.8 1124.9,386.9 1125.2,391.1 1125.6,385 1126,389.4 1126.3,391.9 1126.7,390.8 1127,390.5 1127.4,391 1127.8,389.8 1128.1,391.7 1128.5,394.5 1128.8,394.2 1129.2,395.7 1129.6,396.2 1129.9,395.9 1130.3,391.5 1130.6,392.2 1131,390.8 1131.4,389.5 1131.7,387.2 1132.1,383.8 1132.4,386.8 1132.8,388.1 1133.2,391.7 1133.5,390.3 1133.9,392.9 1134.2,392.4 1134.6,392 1135,394.5 1135.3,393.1 1135.7,396.4 1136,397 1136.4,396 1136.8,398.8 1137.1,397.8 1137.5,396 1137.8,395.8 1138.2,396.3 1138.6,392.8 1138.9,390.1 1139.3,390 1139.6,391.8 1140,390.3 1140.4,386.8 1140.7,390.4 1141.1,388 1141.4,390 1141.8,390 1142.2,388.3 1142.5,389.9 1142.9,389.3 1143.2,389.9 1143.6,391.5 1144,393.5 1144.3,395.6 1144.7,392.8 1145,396 1145.4,395.7 1145.8,396.1 1146.1,398.1 1146.5,395 1146.8,397 1147.2,393.5 1147.6,391.9 1147.9,393.8 1148.3,389.6 1148.6,389.2 1149,390.1 1149.4,389.6 1149.7,388.4 1150.1,385 1150.4,386.3 1150.8,389.9 1151.2,390.5 1151.5,388.8 1151.9,391.4 1152.2,392 1152.6,394.1 1153,391.4 1153.3,396.7 1153.7,393.5 1154,398.4 1154.4,397.9 1154.8,393.2 1155.1,394.6 1155.5,396.9 1155.8,400.4 1156.2,382.9 1156.6,387.5 1156.9,394.4 1157.3,392.1 1157.6,378.4 1158,378 1158.4,388 1158.7,374.2 1159.1,383.6 1159.4,388.1 1159.8,381.5 1160.2,359.4 1160.5,393.8 1160.9,394.7 1161.2,398.2 1161.6,394.5 1162,373.5 1162.3,401.6 1162.7,393.4 1163,399.7 1163.4,391.3 1163.8,391.1 1164.1,388.5 1164.5,401.9 1164.8,387.7 1165.2,380.8 1165.6,368.6 1165.9,381.5 1166.3,374.8 1166.6,373.4 1167,378.2 1167.4,373.2 1167.7,368.2 1168.1,372.6 1168.4,374 1168.8,382.2 1169.2,384.4 1169.5,382 1169.9,375.5 1170.2,393.4 1170.6,396.4 1171,381 1171.3,392.6 1171.7,380.3 1172,358.6 1172.4,372.8 1172.8,376.7 1173.1,356 1173.5,356.1 1174,328 1174.2,356.8 1174.6,360.4 1174.9,368.3 1175.3,379.2 1175.6,381.5 1176,372.9 1176.4,377.1 1176.7,383 1177.1,380.7 1177.4,378.4 1177.8,374.6 1178.2,388.2 1178.5,376 1178.9,401.7 1179.2,377.1 1179.6,360.7 1180,364.4 1180.3,364.2 1180.7,361.3 1181,358.4 1181.4,359.7 1181.8,357.1 1182.1,367.8 1182.5,385.6 1182.8,363.5 1183.2,367.2 1183.6,380.8 1183.9,389.1 1184.3,388.1 1184.6,395 1185,385.9 1185.4,387.2 1185.7,391.4 1186.1,386.2 1186.4,390.5 1186.8,384 1187.2,345.5 1187.5,365.7 1187.9,353.8 1188.2,341.8 1188.6,368.6 1189,365.3 1189.3,365.8 1189.7,358.8 1190,363.6 1190.4,373.8 1190.8,363.3 1191.1,378.2 1191.5,377 1191.8,370.8 1192.2,371.9 1192.6,364.7 1193,327 1193.3,348.1 1193.6,358.4 1194,368.5 1194.4,362 1194.7,357.1 1195.1,365.6 1195.4,347.3 1195.8,357.3 1196.2,365.3 1196.5,370.2 1196.9,369.2 1197.2,371.5 1197.6,363.8 1198,371.8 1198.3,382 1198.7,359.2 1199,361.3 1199.4,365.7 1199.8,380.2 1200.1,367.4 1200.5,372.2 1200.8,365.5 1201.2,348.7 1201.6,354.9 1201.9,345.7 1202.3,372.5 1202.6,370.1 1203,370.9 1203.4,373.9 1203.7,374.1 1204.1,373.7 1204.4,376.7 1204.8,388.8 1205.2,370 1205.5,369.5 1205.9,382.9 1206.2,397.5 1206.6,382.8 1207,372.7 1207.3,378.5 1207.7,365.5 1208,338.6 1208.4,342.9 1208.8,327.9 1209.1,349.5 1209.5,348.6 1209.8,359.6 1210.2,379.2 1210.6,351.5 1210.9,359.5 1211.3,356.8 1211.6,332 1212,355.7 1212.4,357.7 1212.7,370 1213.1,359.4 1213.4,356 1213.8,378 1214.2,370.1 1214.5,354.9 1214.9,350.3 1215.2,349.3 1215.6,355.5 1216,357 1216.3,332.5 1216.7,365.4 1217,358.8 1217.4,367.8 1217.8,380.2 1218.1,364.4 1218.5,386.3 1218.8,305 1219.2,362.1 1219.6,353.1 1219.9,376.8 1220.3,371.6 1220.6,357 1221,349.5 1221.4,333.1 1221.7,357.5 1222.1,355.4 1222.4,351.7 1222.8,342.2 1223.2,341.3 1223.5,346.1 1223.9,363.7 1224.2,340.1 1224.6,353.8 1225,372.5 1225.3,366 1225.7,377.3 1226,364.3 1226.4,366.3 1226.8,378.7 1227.1,372.4 1227.5,368.2 1227.8,355.7 1228.2,341.9 1228.6,371.9 1228.9,347.7 1229.3,341 1229.6,355.9 1230,333.4 1230.4,325.2 1230.7,330.9 1231.1,338.3 1231.4,345.4 1231.8,351.4 1232.2,359.9 1232.5,351.2 1232.9,359.9 1233.2,358 1233.6,355.6 1234,370.5 1234.3,373.3 1234.7,393.3 1235,376 1235.4,356.8 1235.8,366.3 1236.1,352.1 1236.5,367.4 1236.8,299 1237.2,333 1237.6,335.9 1237.9,347.8 1238.3,348.3 1238.6,335.5 1239,335.7 1239.4,361.6 1239.7,379 1240.1,382.1 1240.4,365 1240.8,375.7 1241.2,356.3 1241.5,345.1 1241.9,369.7 1242.2,358.8 1242.6,342.9 1243,337.7 1243.3,347.1 1243.7,335.7 1244,329.8 1244.4,339.4 1244.8,339 1245.1,337.5 1245.5,336.9 1245.8,357.7 1246.2,345.2 1246.6,340.3 1246.9,375.8 1247.3,372.4 1247.6,367.3 1248,363.7 1248.4,369.3 1248.7,354.1 1249.1,372.6 1249.4,378.6 1249.8,368.2 1250.2,368 1250.5,347.6 1250.9,350.8 1251.2,324.5 1251.6,336.2 1252,333.5 1252.3,329.3 1252.7,343.1 1253,351.3 1253.4,348.3 1253.8,368.5 1254.1,354.4 1254.5,375.8 1254.8,377.2 1255.2,366.4 1255.6,389.4 1255.9,354.3 1256.3,370.2 1256.6,360.4 1257,363.2 1257.4,333.2 1257.7,332.6 1258.1,331.7 1258.4,337.6 1258.8,343.6 1259.2,348.1 1259.5,350.4 1259.9,350.9 1260.2,349 1260.6,362.1 1261,367.4 1261.3,367.7 1261.7,346.2 1262,358.3 1262.4,327.1 1262.8,345 1263.1,323.8 1263.5,341.4 1263.8,331.6 1264.2,334.7 1264.6,342.5 1264.9,366.8 1265.3,347.6 1265.6,364.6 1266,362.8 1266.4,367.6 1266.7,370.9 1267.1,377.2 1267.4,350.2 1267.8,356.2 1268.2,352.1 1268.5,334.8 1268.9,337.9 1269.2,326.5 1269.6,348.6 1270,336.6 1270.3,344.5 1270.7,359.4 1271,365.8 1271.4,351.5 1271.8,354.1 1272.1,374.9 1272.5,336.1 1272.8,377.1 1273.2,372.4 1273.6,343 1273.9,363 1274.3,350 1274.6,348 1275,320.9 1275.4,342.9 1275.7,348.7 1276.1,348.9 1276.4,351.7 1276.8,355.3 1277.2,330.3 1277.5,361.3 1277.9,358.6 1278.2,366.8 1278.6,359.5 1279,361.7 1279.3,361.8 1279.7,374.7 1280,344 1280.4,367.8 1280.8,344.2 1281.1,334.2 1281.5,325.3 1281.8,347 1282.2,321.3 1282.6,350.9 1282.9,348.7 1283.3,342.7 1283.6,345.4 1284,361.4 1284.4,361.6 1284.7,371.6 1285.1,367.5 1285.4,365.8 1285.8,380.7 1286.2,363.8 1286.5,376.5 1286.9,358.9 1287.2,337.3 1287.6,329.3 1288,327.6 1288.3,308 1288.7,332.9 1289,333 1289.4,315.8 1289.8,330.9 1290.1,354.9 1290.5,345.9 1290.8,335.5 1291.2,328 1291.6,338.2 1291.9,373.1 1292.3,368.5 1292.6,355.8 1293,382.1 1293.4,371.4 1293.7,358.2 1294.1,349.9 1294.4,340.7 1294.8,353.6 1295.2,330.8 1295.5,342.1 1295.9,366.1 1296.2,373.4 1296.6,352.3 1297,390.3 1297.3,385.5 1297.7,358.9 1298,387.2 1298.4,345.2 1298.8,361.4 1299.1,334.9 1299.5,321.3 1299.8,342.6 1300.2,331.1 1300.6,318.9 1300.9,315.3 1301.3,316.6 1301.6,319.3 1302,315 1302.4,337.1 1302.7,335.4 1303.1,337 1303.4,337.9 1303.8,345.3 1304.2,336.4 1304.5,353.8 1304.9,350.9 1305.2,379.8 1305.6,360 1306,369.8 1306.3,377 1306.7,380 1307,371 1307.4,360.7 1307.8,378.5 1308.1,349.4 1308.5,349 1308.8,377.5 1309.2,340.4 1309.6,362.8 1309.9,359.5 1310.3,342.6 1310.6,352.4 1311,370.6 1311.4,347.9 1311.7,364 1312.1,378.5 1312.4,368 1312.8,375.8 1313.2,367.9 1313.5,367.1 1313.9,364.6 1314.2,364.9 1314.6,373.1 1315,364.4 1315.3,382.6 1315.7,364.4 1316,358.8 1316.4,377.9 1316.8,349.4 1317.1,339.1 1317.5,350.1 1317.8,341.2 1318.2,363.7 1318.6,377.8 1318.9,374.6 1319.3,367.7 1319.6,375.4 1320,387.2 1320.4,399.7 1320.7,382.5 1321.1,378.9 1321.4,392 1321.8,378.9 1322.2,376.8 1322.5,374.8 1322.9,357.3 1323.2,360.8 1323.6,377.6 1324,367.4 1324.3,370.3 1324.7,379.2 1325,383.6 1325.4,411 1325.8,377 1326.1,387 1326.5,404.2 1326.8,378.3 1327.2,378.4 1327.6,354.2 1327.9,377.5 1328.3,373.4 1328.6,375.5 1329,366.9 1329.4,375.7 1329.7,373.4 1330.1,386.3 1330.4,379.3 1330.8,390.8 1331.2,369.8 1331.5,383.6 1331.9,358.1 1332.2,385.7 1332.6,390.5 1333,373.6 1333.3,397.3 1333.7,354.6 1334,356.5 1334.4,344.5 1334.8,343.8 1335.1,338.7 1335.5,333 1335.8,333 1336.2,369.5 1336.6,349.2 1336.9,367.6 1337.3,348.6 1337.6,366.8 1338,379.5 1338.4,376.9 1338.7,378.4 1339.1,387.4 1339.4,395.2 1339.8,409.5 1340.2,411.9 1340.5,380.9 1340.9,369.8 1341.2,387.8 1341.6,387.2 1342,392.3 1342.3,393.4 1342.7,371.2 1343,398.8 1343.4,375.8 1343.8,350.4 1344.1,378 1344.5,367.6 1344.8,364.8 1345.2,346.5 1345.6,363.7 1345.9,371.7 1346.3,371 1346.6,383.2 1347,392.4 1347.4,398.2 1347.7,398 1348.1,385.2 1348.4,408.7 1348.8,388.2 1349.2,390.6 1349.5,374.2 1349.9,357.1 1350.2,343.1 1350.6,366.4 1351,352.5 1351.3,361 1351.7,376.6 1352,355.1 1352.4,358.1 1352.8,386.3 1353.1,393 1353.5,385.6 1353.8,373.4 1354.2,352.1 1354.6,359.5 1354.9,342.8 1355.3,346.6 1355.6,354.1 1356,344.5 1356.4,362.7 1356.7,367.4 1357.1,380.4 1357.4,397 1357.8,394.5 1358.2,399.1 1358.5,397.7 1358.9,381.6 1359.2,383.9 1359.6,385.5 1360,393.1 1360.3,391.3 1360.7,399.8 1361,359.8 1361.4,369.2 1361.8,347.9 1362.1,362.3 1362.5,352.8 1362.8,387 1363.2,385.2 1363.6,367.5 1363.9,386.1 1364.3,393.4 1364.6,407.4 1365,400 1365.4,392.7 1365.7,386.5 1366.1,390.7 1366.4,383.4 1366.8,370.9 1367.2,358.8 1367.5,380.5 1367.9,356.9 1368.2,358.1 1368.6,366.3 1369,355.9 1369.3,372.3 1369.7,350.1 1370,374.2 1370.4,353.9 1370.8,355 1371.1,363.2 1371.5,379.2 1371.8,373.4 1372.2,368.6 1372.6,400.5 1372.9,379.3 1373.3,391.9 1373.6,399 1374,388.9 1374.4,393.4 1374.7,391.3 1375.1,378.4 1375.4,386.2 1375.8,363.1 1376.2,352.9 1376.5,366.3 1376.9,355.7 1377.2,373.2 1377.6,370.3 1378,368.7 1378.3,382.9 1378.7,384.9 1379,348.2 1379.4,380.3 1379.8,387.9 1380.1,394.3 1380.5,385.2" fill="none" stroke="#3d3d3d" stroke-width="1.1" stroke-linejoin="round"/>
<path d="M645.9 395.9L647.2 482.1L648.3 540.2L649.1 470.6L650.8 402.6M644.2 414.6L646.3 486.4L648.1 547.6L649.7 479.5L651.9 417.8M644.9 421.5L645.8 475.2L647.2 541.0L649.0 480.1L651.7 421.9M644.8 421.9L646.9 461.7L649.2 528.9L650.5 462.4L650.9 402.0M552.5 478.7L554.2 537.1L555.8 587.7L557.2 537.1L558.9 495.3M553.0 494.0L555.2 530.6L557.0 559.5L557.8 529.4L559.3 485.2M553.0 493.8L553.9 539.7L555.3 576.5L556.8 521.6L559.3 492.2M553.6 486.6L554.7 516.8L555.2 568.6L556.2 530.2L558.2 478.1M1028.0 397.4L1029.6 406.4L1031.7 437.1L1031.6 409.7L1032.5 391.7M1028.4 406.3L1028.8 414.8L1029.7 440.1L1031.2 416.5L1031.8 395.0M1028.3 392.4L1030.0 424.5L1030.7 445.8L1031.6 414.9L1032.5 388.5M1027.8 380.0L1029.1 429.4L1030.6 459.7L1031.6 429.7L1032.5 381.2" fill="none" stroke="#3d3d3d" stroke-width="1.1"/>
<polyline points="136.2,825.4 136.8,817.9 137.1,828.8 136.9,841.3 138,843.1 137.9,849.3 138.2,856 138.7,866.3 138.4,869 138.9,880.5 138.7,915 139.6,942.7 139.8,968.7 140.1,989.6 139.1,1017.6 140,1047.8 140.6,1049.4 140.4,1038.4 140.5,1043.5 141.3,1030.9 141.7,1031 141.9,1019.5 140.7,1018.3 141.6,1019.1 142.5,1022.3 141.5,1029.1 142.4,1037.1 143.3,1037.3 142.3,1030.8 143.4,1039.8 143.2,1041.5 143,1037.5 142.9,1029 144.4,1027.7 144.6,1025.4 145,1011.1 143.8,1010.8 144.8,996.7 144.3,1004.4 144.3,997.5 144.5,1011.8 145.5,1014.3 146.4,1012.9 146.6,1023.1 145.4,1021.7 146.2,1029.8 146.5,1032 147.9,1030 147.2,1036.7 146.9,1025.5 148,1001.1 147.2,977.1 147.5,952.8 148.6,932.7 148.7,909.2 148.8,893 148.9,899.6 148.4,891.3 149.9,903.2 150.2,904.2 149.3,905.4 150.2,916.9 150,913.7 150.4,916.9 150,914.8 151.6,898.1 151.1,889.1 150.6,877.1 151.4,870.4 151.4,861.7 152,851.4 152.9,851.4 151.9,859 152.5,871.6 152.5,867.8 152.3,882.8 154,879.5 153.9,884.2 153.6,888.2 154.5,870 154.7,862.6 154.5,848.3 154.7,842.6 155.2,837.6 154.8,824.5 155.7,812.2 154.9,800.5 155.9,792 156,789.2 156.4,790.1 155.6,811.8 155.7,845.7 156.6,859.6 157.5,875.5 157,902.5 156.9,926.4 157.5,920.1 158.2,927.1 158.4,937.6 157.9,941.4 157.9,948.5 158.7,968.8 158.5,986.3 159.1,977.6 158.4,977.1 160.1,979.5 159.8,997.7 159.5,1002.3 159.9,1006 160.2,1016 160.7,1014.8 161.8,1023.3 161.8,1031.2 160.8,1032.7 161.5,1031.9 162.2,1026.7 162,1014.6 161.8,1007.5 161.8,996.4 163,977.9 163.9,976.2 163.1,971.2 162.4,964.8 164.3,964.7 164.4,959.1 163.7,966.7 164.7,959.8 164.9,957.3 165.1,961.7 165.3,957.4 165.8,951.5 165.5,953.6 166.2,942.4 165.3,947.8 166.1,938.6 167,932.7 165.8,931.4 166.9,919.5 167.6,915.3 167.1,913.7 168,912.3 167.8,903.9 167.8,892 168,893.1 167.9,884.8 168.3,880.6 168.7,869 169.1,866.9 169.7,865.4 170.1,866.2 170.3,861.2 169.4,857.5 170,856.2 169.6,856.5 169.5,869.8 171.3,882.4 170.9,896.5 170.7,914.9 171.6,926.4 172.1,936.3 171.6,945.6 172.2,940.3 171.5,939.7 172.4,931.3 171.7,910.8 172.4,908.3 173.2,907.7 173.5,897 173,889 174.1,880.1 173.8,872.9 173.5,861.3 174.3,865.8 175.4,886.3 174.9,896.1 175.2,918.4 174.7,943.9 176,959.4 175,972.3 175.9,977.6 175.4,983.4 176.9,986.4 177,991.8 176.7,997.6 176.4,1008.6 177.3,1006.3 177.1,1015.2 177.6,1020.4 177.5,1026.1 179,1029.1 178.3,1030.3 179.1,1025.6 179.7,1015.1 178.8,1006.6 179.2,996.1 179.9,981.3 180.5,983.9 179.9,974.4 179.4,974.5 179.6,960.4 179.8,952.6 180,945.4 180.5,932.5 180.9,931.4 181.5,923.3 181.4,925.9 182.1,934.1 182.5,942 183,938.3 183.1,955.4 182.4,959.1 183.9,972.7 183.1,971.2 183,965.6 182.9,953.4 184.5,938.7 184.8,939 184.2,917.2 184,903 184.7,900.9 184.5,903.9 185.8,892.1 184.6,902.8 185.9,895.7 185,893.6 186.3,889 186.8,883.1 186.7,873.4 185.9,873.4 186.3,875.2 187.1,872.2 187.3,862.8 188,854 187.1,838.8 187.8,827.3 188.2,822.7 189.1,827.8 187.7,840.5 189.7,848.4 188.5,855.3 188.7,863.4 189.5,878.6 190.2,890.5 190.6,897 190.5,917.3 189.4,937.2 189.9,962.9 191.6,975 191.1,997.9 191.1,996.7 191.8,1004.2 192.1,1003.7 191.9,1014.1 191.6,1014.4 192,1024.2 193.2,1033.5 192.7,1035.1 193.6,1030.9 192.5,1024.1 193.6,1022 194,1018.9 193.2,1016.9 194.2,1002.5 194.6,1000.7 194.3,1006.5 194.6,1000.5 194.7,997.5 195.1,998.3 195.7,988.8 196.2,977 196,965.5 195.3,957.3 196.7,949 196.3,937 196.7,929.7 197.5,921.9 197,900.7 197.5,888.8 197.5,875.4 197.7,867.3 198.5,855.8 198.4,845.6 198.4,832 198.7,822.2 199,807.5 199.4,792.2 199.1,789.2 200.1,793.5 199.4,801.6 199.8,808.1 200.5,823.3 201,825.6 201.1,828.6 200.7,833.9 201.2,842.9 201.2,873.6 200.6,887.8 200.7,915.2 201.1,936.6 202.5,961.9 202.3,977.6 201.5,974.4 202,989 203,997.2 202.9,1010.3 202.4,1023.2 204.4,1029 204.4,1038.4 203.9,1041.5 203.2,1047.9 204.4,1041.9 205.3,1051.2 204.1,1049.6 205,1051.6 205.1,1052.9 206.4,1055.3 205,1067.8 205.3,1070.6 206.2,1071 206.5,1078.3 206.6,1078 207.2,1079.5 206.9,1080.4 208,1090.2 207.7,1092.9 207.8,1089.4 208.9,1089.1 207.5,1072.8 208.8,1066.8 208.3,1054.5 209.3,1056.4 209.4,1046.6 209.1,1038.5 209.6,1029.5 210.1,1022.1 210.2,1015.9 210.5,1013.9 211.3,1010.3 210.9,993.9 211.7,990.3 211.4,978.3 211.7,963.5 211.1,950.8 211.8,952 212.4,945.9 213.2,942.2 212,930.6 213.3,932.2 213.2,929.4 212.5,922.2 213.1,908.5 213.8,901.1 213.4,908.9 214.2,900.9 213.5,908.7 214.3,906.9 215.6,916.1 214.6,918.2 216.1,921.8 215,933.3 215.6,932.3 216.7,942.9 216.1,951.7 217.2,949.8 216.6,950.4 216.9,961 217.2,950.6 217.9,961.5 218,960.1 217.1,972.3 218.1,964.5 219.1,962.7 218.2,972.9 218.2,961 219,969.6 219.8,969.8 219.6,972.9 220.1,991.8 220,996.2 219.3,1010.4 221,1017.2 220,1022.1 220.6,1028.7 221.4,1014.3 221,1020.6 221.1,1005 221,990.4 222.5,985.7 222.6,982.9 221.7,965 223.4,971.9 222.2,953.6 223,948.8 223.9,944.9 223.5,944.7 223.6,933.7 224.2,922.4 224.7,924.1 224.1,916.3 225.2,913 225.5,898.9 224.9,890.4 225.7,889.8 225.4,885 225.8,882.9 225.9,878 226.2,887.4 225.7,896 227.2,894.4 227.1,906.2 226.3,902.6 227.3,906.4 227,902.6 227.7,908.2 227.8,913.7 228.5,906.1 227.5,905.8 229,901.5 228.6,902.2 228.3,886.5 228.6,891.4 230.4,885.2 229.6,876.1 229.6,874.6 230.8,866.2 229.6,866.8 231.6,859.5 231,857.8 231.1,861.5 230.5,869.4 231.7,891.2 232.4,900.6 232.1,918.9 231.5,924.1 232.3,935.6 232.2,951.7 232.2,962.9 233.7,974.2 233.4,985.6 233.9,986.6 233.1,990.7 233.9,993 234.7,998.7 234,1000.9 234.9,1009.4 235,1009.5 234.4,1005.2 234.5,1012.2 235.9,1000.4 235.5,998.9 236.3,985 236.5,985.9 237.2,978.7 236.1,977.9 237,972.7 236.5,958.2 237.4,964.8 238.1,969.9 237.7,963 238.4,978 239,975.9 238.8,974.9 238.2,986 238.7,986.9 239.8,986.9 239.3,992.1 240,1001.2 240,998 240.6,1003.6 241.1,1017.1 240.6,1007.9 241.1,1002.3 241.7,1001.2 240.7,995.8 242.1,993.3 241.2,988.4 242.2,970.1 242.9,973.7 242.9,975.8 242,963.4 243,961.6 243.6,967.1 243,947.6 242.9,928.5 244.6,922.8 243.8,915.5 243.6,892.1 245.2,884.1 244.6,875.4 245.1,875.9 244.3,876.4 244.4,878.4 246.3,879.2 246.6,877.8 246.8,876.4 246.2,875.4 246.9,891 245.7,889.8 247.5,899.6 246.7,923 247.1,935.2 247,942.4 247.4,968.8 247.2,973.5 249.1,985.5 247.8,1007.8 248.6,1006.3 249.7,1005.4 248.2,1006.5 248.8,983.5 248.8,977.3 250.6,974.1 249.4,966.2 250.7,960 251,949.8 251.2,938.6 251,942.5 250.5,939.1 251.9,948.5 251.2,954.7 252.5,954.6 251.2,965.3 251.5,970.6 251.8,972.1 252.2,977.9 253.8,984.7 252.9,1000.9 253.4,992 252.7,987.6 253.9,977.7 254.1,975.1 253.8,967.8 254.9,969.2 254.6,950.6 254.1,949.7 255,952.2 255.3,945.4 255.8,937.7 255.4,938 255.4,934 256.2,918.9 257.2,918.9 256.2,906.2 257.8,899.1 256.5,899.7 257.8,888 257.1,883.2 258.3,878.9 258.1,872.2 257.9,874.8 258.9,892.3 259.4,909.8 258.6,912.3 259.9,930.3 259.1,942.9 259.7,947.9 259.3,960.6 260.2,978.3 261.3,981.7 260.5,990.4 260.2,1022.1 261,1054.8 260.5,1087.3 261.3,1092.6 261.9,1081.1 261.3,1069 262.5,1046.5 262.5,1038.1 263.4,1020.3 262.3,1005.8 263.4,988.6 263.5,978.6 262.8,955.4 263.7,945.6 263.8,948.2 264.9,948.2 264.9,939.3 264.3,937.1 265,937.2 264.7,939.4 265.8,940.3 266,942 265.2,946.8 266.5,946.4 266.1,939.3 267.1,938.4 266.8,931.3 267.4,922.1 266.8,924 266.6,916.5 267.9,907 268.2,901.4 268.3,896 269,880.5 267.9,885.2 268.8,881.2 268.3,873.8 269.8,864.5 269.3,865.8 269,873.4 269.1,881.2 270.6,891.8 270.3,893.4 270.8,896.2 271.4,898.3 271.5,898.2 272.2,908.7 272.1,912.1 271.7,921.7 272.5,927 271.4,948.4 271.5,963.6 273.2,978 272.7,989.3 273.7,1008.2 274,1018.3 273.9,1027.2 273.7,1051.4 274.4,1066.6 274.1,1070.2 274.4,1059.3 274.9,1057.2 274,1042.4 274.7,1043.3 275.3,1043.1 275.8,1028.4 275.5,1029.1 275.7,1017.4 275.5,1006.3 276.5,1001.5 277.2,995 277.5,999.6 276.6,993.6 276.9,979.3 276.9,978 278.1,979 278.3,966.5 278.1,966.2 279.1,951.7 279.4,950.8 278.9,952 278.2,963.5 278.5,971.3 279.8,985.9 279.5,1001.6 280.7,1021.6 279.7,1032.7 280.5,1051 280.2,1050.4 280.1,1041.5 281.7,1032.8 282,1011.4 281.8,1006.1 282.7,988.4 282.4,972.3 281.8,965 282.3,958.7 283.4,948.2 282.9,936.1 282.7,937.3 282.9,925.5 283.9,920.3 284.4,908.9 284.8,899.8 284.6,892.3 283.8,892.2 284.2,873.5 285.6,871.7 285,861.1 285.3,861 286,875.9 285.1,884 285.9,892.1 286.7,892.2 286.9,901.7 287.3,913 287.5,919.1 287.5,927.9 288.4,935.7 287.7,936.1 288,938.1 287.7,931.8 288.6,929.3 288.4,916.8 288.5,917.6 289.5,911 289.6,913 288.7,907.4 290.6,909 289.3,907.4 290.7,892.8 290.1,890.2 291,890.2 290.9,886.9 291.2,893.6 291.1,890.7 292,889.2 292.5,887 292.1,885.3 291.6,888.5 292.5,885.9 292.6,890.6 293.6,894.1 292.8,895.6 292.4,895 293.4,901.5 293.4,907 294.1,907.3 294,916.7 293.7,905.4 295.4,890.2 295.4,886.7 294.2,881.3 296.1,875 294.8,864.1 295.6,862.4 294.9,863.2 296.6,853.8 295.4,851 296.9,857.3 296.7,848.2 296.6,849.9 297.2,849.7 297,844.3 297,864.7 297.1,871.6 297.9,874.2 298.2,878.7 297.9,895.4 297.9,904.6 298.8,905 298.4,913.4 299.7,920.3 300.3,917.9 300.7,919.7 299.5,923 300.2,926.2 300.4,928.4 301.4,919.8 300.2,911.9 301.8,905.7 300.5,890 301.5,881.9 301.5,882.7 302,865.6 302.5,863.9 303.1,841 302.5,813.3 302.6,806 303.5,804 303.8,806 303.8,801.1 303.3,797.6 303,799.9 304.5,799.7 303.7,798.2 304.5,796.4 304.7,795.4 305.1,796.5 304.2,810.2 305.4,813.1 306.3,820.1 305.8,830.5 306.1,833.8 306.8,836.5 306.8,851 306.2,867.4 306.7,872.2 306.8,876.3 307.2,885.7 307.2,886.7 308.3,894.5 308.6,904.6 307.9,910.3 307.6,899.5 307.5,888.8 308.9,876.2 309.1,868.6 309.7,854.3 309.3,842.2 309.1,840.6 310.2,847.8 309.6,873.4 310.5,869.5 310.7,885.7 311,885.1 310.6,891.2 311,893.6 311.2,908.2 311.9,905.4 311.4,912.2 311.6,922.9 311.4,926.9 311.6,935.4 312.5,943.3 313,940.2 313.1,937 312.4,930 312.9,926.2 313.8,926.1 313.5,922.2 314,909 314.3,899.7 314.2,895.6 314.4,890.3 314.3,889.8 314.8,875 315.8,865.9 316,858.9 316.5,858.9 315.9,851.8 316.4,846.2 317,839.5 317.3,833.4 317.6,827.1 316.9,829.4 317,836.1 317.9,815 317.5,808.1 317.8,808.4 317.6,805.6 317.7,810.2 318.2,801 318.9,795.7 319.3,799.4 318.7,801.4 318.7,807.4 319.4,797.4 319.6,799.6 319.6,793.9 319.8,796 321,793.2 321.2,792.3 320,793.2 320.8,791.5 321.2,789 320.9,788.3 322.3,801.5 322.7,804.1 322.2,812.5 322.3,818.8 321.6,819.2 321.8,843.9 322.8,864.8 322.8,862.4 323.2,880 322.5,888.1 323.3,893.3 323.8,891.7 322.9,881.9 324.6,879.9 323.5,877.9 325,876.3 325.3,863.7 324.9,864.6 324.6,863.1 324.8,877.3 325.6,890.7 325,893.6 326,895.4 325.9,909.8 326.7,882.3 327.2,885.9 326.6,874.4 326.4,864.1 326.6,847.3 327,847.3 327.6,842.2 327.3,836.7 328.9,826.8 329.2,811.1 328.5,801.7 328.6,800.7 329.5,804.4 329.8,801.5 328.7,799.6 329,798 329.7,802.8 330.4,807.3 329.6,816 330.2,835.8 329.9,839.1 330.4,853.6 330.5,863.3 330.6,888 330.5,907.7 331.7,920.2 332,929.2 331.8,935.9 331.9,930.5 332.2,930.2 332.3,915.5 333.5,912.7 332.4,912.2 332.6,899.9 333.4,898.6 334.3,891.8 333.4,890.7 333.7,888.5 334.1,878.3 334.5,869.9 335,866 335.2,860.2 335.7,858.8 334.8,845.6 336.1,845.6 335.6,844.3 335,851.3 336.9,839.9 336.8,853 337.2,858.2 336.6,857.9 336.6,865.2 337.2,867.8 336.9,870.8 337.2,878.6 338.2,890.9 338,886.9 338.2,886.9 339,883.2 338.2,873 337.9,862.4 338.2,860.6 339.9,849.2 339.3,846.5 339.7,851.9 340.5,853.3 339.5,861.4 340,861.9 340.4,860.3 341,852.5 340.8,831.9 341.4,819.5 341.9,801.7 341.4,801.7 341,796.6 341.1,798.8 342.7,792.7 342.2,794.3 342.5,796.4 343,806.9 343.7,810.8 342.3,818.3 342.9,832.1 344.4,849.5 343.6,851.8 343.5,856.6 344.8,855.7 344.5,862.5 344.8,863.1 344,860 344.3,870.9 345.2,866.7 345.7,857.3 346,851.3 345.4,826 346.4,811.9 346.2,801.7 347,797 345.9,791.1 346.7,787 347.7,777.8 346.6,777.1 347.2,767.7 348.2,766.1 347.8,761.3 348.7,762.5 348.8,771.1 347.7,774.4 348.6,772.6 348.9,775.1 348.4,791.6 348.5,798.4 349.3,805.4 349.5,813.4 349.9,818.8 350.5,827 350.3,842.5 350.2,859.2 350.8,868.3 351,885.9 350.8,884.6 351,871.8 351.9,872.3 351.2,860 351.2,854.9 352.1,846.5 351.4,852.3 352.2,838.8 352.7,838.8 353.9,825.9 354.1,820.7 352.9,808.3 353.7,810.3 354.1,814.6 353.2,829.8 354.6,835.8 355.4,842 354.7,849.7 355,848.2 355.4,834.9 355.5,825 354.7,811.7 355.4,812.1 355.8,808.1 355.9,817.3 356.3,818 356.6,818.7 357.1,828.8 356.9,842.4 356.9,833.5 357.4,841.1 357.9,834.1 357,826.4 357.3,824.1 358.3,808.5 358.5,810.3 358.3,808.1 358.4,798.1 358.7,794.6 359.9,786.7 359.8,789.3 358.9,780.7 359.6,775.9 360.1,774.1 360.2,780.4 360.1,774.9 360.6,780.5 361,770.2 361.1,765.6 360.6,771.2 361.3,775.7 361.8,790.6 362,788.9 362.5,787.1 362.3,795.9 362.7,799.6 362.5,802.4 362.9,825 363.9,838.1 364.3,854.7 363.8,870.9 363.9,874.1 364.5,871 364.3,862.2 364.9,855.3 364.7,847 365.1,831.6 365.7,835.2 365.4,831.6 366.3,826.4 365.5,817.6 366.9,810.2 366.5,794 366.4,784.7 365.7,774.7 366.7,778.1 367.9,774.5 366.8,775.7 367.9,770 368.4,759.9 368.3,760.7 368,764.5 368.4,770.7 369.3,771.4 368,786.8 368.8,793.9 370.2,807 370.4,809.9 369.6,814.5 369,813.3 370,819.1 370.3,823.5 369.8,831.1 370.1,827.1 370.4,825.7 371.2,840.1 370.5,848.3 370.9,833.7 371.4,824.2 372.6,827.2 371.7,805.3 372.3,806 372.9,804.8 373.3,804.5 373.9,806.5 372.8,800.9 373.8,804.9 373,799.4 373.9,800.7 373.3,812.2 374.8,820.2 375.2,822.7 375.6,840.1 375.9,846.5 375,861.5 375.5,874.1 375.6,870.4 376.7,877.3 376.4,865 375.8,857.2 376,862 376.8,853.6 376.8,862.2 377.1,851.8 377.9,851.6 377.7,848.5 377.9,833.6 377.6,823.7 378.4,821.8 378.6,807.8 378.7,809.2 378.7,803.6 378.8,800.8 379.4,799.5 379.5,790.2 378.9,784.3 379.4,795.6 380.3,789 379.5,785.6 380.4,794.2 381.6,804.5 381.8,810.8 381.1,812.3 381.3,815.6 382.4,821.2 381.3,838.3 381.8,845.5 382.1,842.2 383,840.8 382.6,838.9 382.3,818.8 383.3,821.3 382.7,814.9 383.5,814.5 383.7,805.7 383.5,814.9 383.6,816.1 383.7,814.5 384.6,803.8 385.2,808 385.5,807.4 385.1,803.9 384.8,802.1 385.2,800.5 385.3,797.6 386.4,797.6 387.2,789 386.8,795.2 386.7,784.7 387.2,784.1 386.5,784.9 387.2,787.5 387.4,784.6 388.2,784.7 387.2,792.3 388.3,787.9 388.4,780.3 388.5,788.3 389.2,810.2 389.4,810.7 388.6,815.8 389.3,812.4 389.4,813.6 390.3,810.7 389.8,802.4 389.4,801.8 391.3,795.5 390.3,801.1 390.9,793.2 391.1,798.7 390.6,800.4 392.1,804.3 391.4,805.5 391.2,804.5 392.4,819.1 392.5,814.5 392,817.8 392.7,817.7 393.9,824.2 392.5,831.6 392.9,836.1 393.7,838.8 393.5,844.4 395,844.1 393.8,853.2 394.7,846.5 395.5,856.5 394.2,863.4 394.8,861.2 394.7,877.3 395.7,880.5 395.1,881.3 395.8,874.2 396,852.7 395.9,848 396.3,849 396.8,836.2 396.5,833.9 397.3,830.5 398.3,827.7 398.3,827.6 397.2,817.7 398,811.6 398.4,814.5 398.1,814.5 399.1,808.5 399.5,802.3 398.5,796.5 399.8,815 398.9,798.1 400,795.4 399.3,798.3 400.3,798.2 399.9,809.1 400.1,819.7 401.7,826.6 401.7,833.4 402,832 401.6,837.9 401.1,831.1 402.1,827.7 401.4,815.8 403.2,812.6 402.9,800.4 403,799.3 403.2,799.6 402.9,795.9 403.8,808 403,808.2 404.5,819.1 405.1,816.6 405,822.2 403.9,824.1 405.6,825.8 406.1,823.3 405.3,825.2 406.4,827.3 404.9,812.4 405.4,797.5 406.2,795 406.2,786.5 406.2,789.6 406.9,781.5 407.4,792 406.8,804 407.5,816.3 408.2,813.9 408.6,818.1 409.1,831.3 408.5,842.2 407.8,843.9 408.4,827.7 409.7,833 408.7,835.6 410.1,825.2 409.5,824.6 410.7,817.7 410.1,820.9 410.2,822.1 411.3,815.6 411.2,796.4 410.3,790.9 411,788.7 411.2,784.8 411.8,777.5 412.1,771.5 412.2,761.3 411.9,768.1 412.7,769.8 412.1,773.4 413.8,767.3 413.7,765.4 413.1,768 413.2,778.4 413.8,765.6 414.4,783.1 414.2,793.6 415.1,807.3 415.6,817.9 414.3,833.7 414.8,832 415.4,840.1 415.5,839.1 415.5,835.5 416.9,829.8 416.1,819.1 416.8,808.5 415.9,808.7 417.8,801.5 416.6,798.5 417.9,798.7 417.5,790 417.5,801.7 417.6,798.8 418.8,805.3 419.2,812.5 418.5,818.6 418.7,815.8 419.1,814.5 418.7,812.9 419.2,797.7 419.8,795.4 420,787.5 419.7,785 419.9,776.4 420.7,771.9 421,769 420.4,767.8 422,772.9 422.2,769 421.9,775.2 421.5,768.6 422.6,764.3 422.6,766.7 422.7,755.5 423.4,762.4 423.1,761.2 422.9,759.7 423.7,770.1 424.5,768.6 423.6,773.2 423.4,776.1 424.7,790.5 424.6,791.7 424.3,799.8 424.3,799.3 425,818.7 425.4,817.4 425.4,819 426,838 426.1,828.3 427,825.3 426.3,827.3 426.3,803.8 426.3,818.7 426.4,804.8 428.2,798.1 428.2,793.6 427.6,781.6 428.1,784.4 429.4,776.7 428.6,770.3 428.5,776.1 428.4,775.9 429.5,777 430.4,786.3 429.6,790.9 430.6,790.8 430.2,791.7 430.7,791.1 430.8,790.9 430.3,798.4 430.3,803.9 431.7,799.7 431.8,799.2 432.5,814 431.5,798 432.2,804.9 431.8,802.7 433.3,792.3 432.6,789.5 433.4,775.2 433.2,772.4 434,762.8 433.6,764.1 432.9,768.4 434.6,767.8 435.1,765.2 434.9,765.6 434.4,761.4 434.9,761.1 435.3,767.3 435,763.3 435,760.4 435.8,760 436.7,753.1 436.4,762.4 437.1,746.6 436.8,754.1 436.8,755.5 436.3,755.3 436.6,760.8 436.8,761.2 438.2,751.2 437.9,759.4 438,762.2 438.3,760.2 439.3,770.1 438.9,775.7 439,778.6 438.5,793.6 440.1,795.3 439.1,801.3 440.3,811.6 440,816.5 440.3,819.1 440.4,811.5 441.2,808.1 441.6,811.7 440.6,795.5 441.8,788 441.9,779.8 441.9,781.5 442.1,782.2 441.9,777 443,784.8 443.5,785 443.1,785.3 442.5,787.9 443.4,786.6 444.3,782.8 444.2,782.1 443.4,777.2 444.1,772.9 445,766.3 445,765.5 444.9,759.1 444.7,759.4 445.2,766.1 446.3,761 446.1,767.4 446.3,763.8 446.2,763.3 445.7,759.9 446.3,767.3 446.9,763.2 447.1,768.1 446.7,770.6 447.7,775.8 448.6,778.4 448,779.5 448.3,776.9 448.4,777.1 448.7,785.8 448.7,785.2 448.7,792 449.6,795.2 449.5,786.6 449.4,790.2 449.1,784.4 449.4,779 450.1,772 451,763.5 450,749.9 451,755.1 451.3,759.1 451.9,759 450.8,757.7 452.3,759.2 452.3,763.7 452.7,764.6 452.5,761.2 451.7,762.6 452.5,762.3 453.5,767.3 452.8,769.6 453.6,776.9 454,766.4 453.9,774.7 454.1,773.4 454.3,770.2 453.7,773 454.1,785.4 454.9,774.9 454.9,777 455.5,776 456.1,782.7 456.5,777.2 456.1,777.4 455.9,774.9 457.1,785.9 457.6,792.2 456.4,793.3 457.8,799.3 457,801 457.6,803.9 456.9,808.2 458,821.1 459.1,824.1 459.2,834.6 458.6,840 458.4,850.7 459.1,855.7 459.1,856.6 460,850.2 459.1,851.9 460,845.8 459.7,840.5 460.8,833.8 460.9,834.5 461.6,825.8 461.2,825.2 460.8,828.9 461.5,812.8 460.9,805.2 462.4,800 462.2,797.8 462.1,791.6 462,797.9 462.5,793.4 463.8,793.8 462.7,797.3 463.6,785 463.2,792.8 464.9,795.1 463.6,797.6 463.7,793.7 464.7,791.7 464.1,789.4 465.9,794.1 465,792.2 466.1,795.6 465.1,793.5 465.6,782.1 466.9,786.8 466.4,780.3 466.8,779.5 466.1,773.1 467.5,774.7 467.8,771.8 467.9,751.3 467.4,761 468.7,745.3 467.5,747.6 468.3,740.8 469,740.8 469,739.2 469,743.7 469.2,738 469.8,749.4 470.4,738.4 469.8,741.9 470.3,753.4 471.1,764.8 471.2,784.5 471.4,795 470.8,797.8 471.8,805.4 470.6,812.8 472,818.6 471.9,826.9 472.8,834.1 471.9,836.4 472.4,836.4 472.9,832.4 473,827.6 472.8,830.9 473.8,821.8 474.1,817.2 474.2,815.6 473.9,817.1 474.3,811.8 473.6,804.7 474.5,793.3 475.1,779.1 474.9,776.4 475.5,778.4 476,762.9 474.6,766.6 475.6,768.4 475.9,764.2 476.7,764.5 476.3,770.9 475.9,769 476,774.8 477.3,778.3 476.7,782.1 477.4,791.2 477.7,799.4 478,791.7 477.8,786.2 478.2,784.4 478.7,772.5 479.2,770.7 479,770.3 479.7,764.6 479.3,766.5 480.3,765.9 479,769.7 479.3,769.6 479.4,760 480.1,760.1 480.8,763.4 481,760.2 481.9,757 480.9,756.4 480.8,748.8 481.2,757.7 481.3,754.2 481.7,747.7 482,745 482.3,744.8 483,748 483,749.9 482.5,748.6 483,747.4 482.9,752.8 484.4,759.4 484.1,757.1 484.7,767 485.4,774.7 485.4,777.8 485.6,786.4 484.9,794.5 486.2,803.6 485.6,797.8 485.4,800.9 486.4,790.9 486.2,788.1 486.6,785.9 487.4,788.3 486.4,781.6 487.1,783.5 488,775.8 487.7,777.4 487.1,773.3 488,757.7 489.1,754.8 487.9,754.1 488.6,744.9 487.9,749.6 488.2,759.9 489.8,755.4 489.1,765.2 489.6,773.7 490.1,783 490.2,779.5 490,780.9 490,766.1 490.8,762.1 491.3,760.2 490.9,761.7 492.1,755.8 491.7,750 491.9,755.4 491.4,756.1 492.6,753.6 492.3,757.2 493,757.9 493.6,767.7 493.2,768.3 492.4,759.9 493.4,762.4 493.6,760.3 493.5,761.4 493.8,750.3 494.2,752.9 494.7,750 494.2,747.2 494.3,761.5 494.9,761.9 495.2,767.6 496.1,770.2 496.3,776.7 496.3,781.5 496.1,780.1 496.8,775 496.4,776.3 497,761.7 497,760.8 496.8,757.3 497.8,751 497.5,745.4 498.7,747.5 498.6,764.4 498,762 499.5,771.1 499.4,778.3 500.1,784.2 499.3,783.5 499,774.3 499.9,764.3 500.4,764.4 499.4,754.4 500.4,754.5 501.3,736.2 500.8,738.8 501.7,740.4 500.6,742.7 501.2,747.1 501.2,747.9 502.2,748.8 501.7,757.3 502.4,750 503.1,753.7 503,762.5 502.5,767.9 503.8,773 502.9,787.4 504.4,785.7 503.9,796.8 503.5,800.1 504.3,787.3 503.7,789.4 504.4,788.1 504.6,782.8 506.1,779.8 505.9,783.7 506.4,785.5 505.9,776.4 506.5,774.7 505.5,763.9 506.7,754.3 506.5,748 506.9,749 506.8,752.7 506.6,751.1 508,752.2 507.4,749.3 507.5,749.1 507.4,739.7 509,737.4 509.5,735.1 509,737.8 508.3,739.4 508.9,742.4 509.6,747.3 510.2,745.6 510,754.5 510.7,760.5 510.5,760.2 511.1,758.9 510.7,742.2 511.4,747.7 511.8,741 510.9,740.8 511.8,731.1 512,728.6 511.7,729.3 511.8,722.8 513.3,723.4 513.5,723.7 513,720.5 512.4,716.9 513.9,724.3 514,728.7 513.6,735.5 513.8,737.6 514,744.3 515.2,739.1 514.6,748 514.7,755.9 515.1,770.8 515.5,781 514.9,785.7 515.6,792.7 514.9,787.5 516.5,792.2 516.1,792 517.1,792.4 517.4,790.8 516.3,791 516.9,794.8 517.3,786.7 517.6,789.6 518.5,780.3 517.6,784 518.2,770.8 518.8,770.6 519.6,758.8 518.8,750.7 519.1,752 520.1,758.7 520,751.3 520.4,745.2 520,749.2 520.7,748.7 519.7,747.8 520.7,748 521.1,750.6 520.8,748.3 520.8,754.6 522.2,760.5 521,764.1 521.9,765.7 522.2,767.3 522.3,766.4 523.4,766.6 523,785.3 522.4,779.5 523.4,786.6 524.1,792.9 523.7,793.7 524.1,793.8 524.1,781.6 523.9,767.3 524.4,759.3 525.5,756.7 524.2,747.3 525.2,730.7 525.3,729.4 525.1,736.1 525.3,729.7 525.5,740.7 525.8,745.8 527.2,744.7 526.8,750 527.7,757.5 527.6,765.7 528.1,776.5 526.9,776.1 528.6,796.6 527.6,814.4 528.3,824.2 527.8,821.1 528.2,813.1 528.7,814.8 529.7,820.2 529.9,813.7 528.9,811.7 530.3,807.1 530.3,810.9 531.1,791.3 530.3,799.8 530.8,790.6 530.6,794.4 531,782 532.1,769.8 530.7,758.5 532.6,743.3 531.8,746.9 532,741.9 531.6,736.8 533.3,727.4 533.4,730.4 532.9,726.6 532.7,730.7 533.2,728.9 533.2,737.2 533.5,736.9 533.9,736.8 534.4,740.8 534.9,740 534,754.1 534.2,740.3 534.5,747.9 535.9,754.6 535.4,753 534.9,752.1 535.7,736 535.4,733.2 536,732.3 535.8,725.6 536.3,722.2 536.9,723.6 537.6,722.5 537.6,723.7 537.8,728.7 537.5,717.4 537.7,728.4 537.5,723.2 538.3,727.3 539.4,724.4 539,726.6 538.6,737.8 538.8,726.9 538.7,744.5 540.2,743.4 539.4,749.7 539.7,761.7 540.5,759.1 539.8,759.8 541,766.2 540.4,770.4 541.6,764.1 541.5,769.3 541.7,775.2 542.6,768.1 541.8,758.4 542.3,756.4 542.5,750 543.3,749.4 543,753.1 543.4,754.1 542.7,753.4 544.3,749 543.7,744.7 544,745.9 544.3,743.1 544.8,742.7 544.2,746.3 545.7,750.6 545,746.7 545.8,747.2 545.5,746.5 545.8,753.9 546.2,751.9 546.1,756.1 546.1,752.8 546.4,770.5 546,777.1 547.5,779.7 547.1,776.4 547.9,776.3 548.3,773.6 546.9,766.2 548.3,770 547.4,768.4 548.8,764.8 548.6,761.2 549.6,758 549.1,753.7 548.6,750.6 549.7,750.8 550.4,736.2 550.2,734.7 550.1,732.7 550.5,728.9 550.5,724.7 550.3,728.8 551,730 551.6,719.2 550.7,725 551.7,718.5 551.1,722 552.6,720.7 551.9,723.9 552.3,715.4 552.1,724.5 552.4,716.8 553.4,720.5 553.6,712.2 553.7,723.6 553.6,724.9 554.2,727.5 553.6,731.4 554.6,735.9 554.1,747.2 554.5,756.1 555.2,755.1 555,754.8 555.1,747.3 555.5,741.5 556,737.1 556.6,737.2 555.9,729.3 556.7,734.7 557,733.3 556.8,746.1 556.8,748.9 556.9,755.9 557.7,761.5 557.2,774.2 557.7,779.4 558.5,779.3 558.2,786 559.7,770.6 558.9,762.1 559.2,757.9 560.2,750.3 559.9,750 560,745.2 560.3,744.4 560,745.7 559.9,750.6 560.3,756.5 560.3,757.1 561.4,753.3 561.5,760.2 560.8,758.8 561.7,760.2 561.6,761.8 561.4,758 562.9,753.8 561.9,757.1 563,750.2 563.1,748.5 563.2,747.1 564.2,743.7 563.6,746.2 563.4,738.8 564.1,739.4 564.5,736 564,732.5 565,732.2 564.5,736 564.7,731.7 565,736.6 566.3,736.9 565.7,729.5 566.6,731.4 566.5,740.2 565.7,726.6 567.7,742.5 567.7,745 567.2,745 566.8,748.1 567.7,752.1 568,754.2 568.3,753.2 567.9,748.9 567.6,742.3 568.4,732.3 569.2,735 568.5,726.9 569.5,718.1 569.6,715.2 570.3,725.4 570.3,726.3 570.8,721.5 571,721.6 571.5,714.8 570.9,716.2 571.6,711.4 571.5,719.1 572.4,716.4 572.1,726.4 572.9,725.3 573.1,724.7 572.3,742.3 572.1,748.3 573,745.2 572.6,750.8 572.6,735.7 572.8,742.2 573.7,732.5 574.8,732.1 575.1,732.4 574.8,732.6 575.6,720.5 575,720.1 574.7,718 574.7,711.4 576.3,713.6 576.5,706.9 575.7,706.5 576.7,709.1 575.9,703.7 577.6,701.9 576.7,701.2 577,700.1 576.7,705.8 578.4,710.6 577,702.9 577.6,702.3 579.2,711.1 578.5,712.1 578.5,708.1 578.6,719 579.2,721.2 578.5,731.1 578.7,732.2 579.6,733.7 580.8,746.4 580.1,740.2 581,736.9 581.1,735.2 581.4,737.1 581,731.9 581.8,734.7 581.8,728.1 581.6,730.2 581.2,735.2 581.3,721.9 582.7,727.1 582.4,719.8 583.5,724.7 583.9,714.1 583.1,717.1 583.3,722.2 582.8,709.3 583.5,721.9 584,734.4 583.8,731.4 584.4,734.1 584.6,738.2 585.1,738 585.5,744.4 585.7,730.7 584.9,735.1 586.6,733.9 586,738.9 586.1,736.2 585.4,731.8 587.1,726.8 586.4,725.1 587.9,731.8 586.7,728 588.2,728.5 588.2,716.5 587.3,717 588.1,718.1 588.6,720.2 587.8,728.1 588.1,728.7 588.7,728.1 589.7,726.3 589.5,732.7 589.6,732.2 589,731.8 590.8,739.3 590,745.5 589.8,741.6 590.6,739.4 591.7,756.1 591.4,751.4 592.2,753.3 592.4,753.8 592.4,756.2 592.1,758.2 591.6,750.8 592.1,745.8 592.2,733 593.1,730.4 592.8,727.2 593,722 593.9,716.1 594,710.9 594.1,707.1 594.3,701.3 594.9,704.8 595.4,705.8 594.4,708.9 595.3,707.4 595.1,716 596.6,706.2 596.8,706.4 596.1,708.1 596,701.9 597.4,716.4 597.5,711.1 597.6,712.3 596.6,712.1 597.1,716.9 598,716.8 597.7,724.4 597.9,717.5 597.7,720.3 598.6,722.1 598.1,723.1 599.8,731.5 598.9,734.4 599,740.9 599.7,743.1 600.3,746.8 600.6,748.2 601,755.1 600.6,752.2 600.6,751.9 601.9,748.5 601.7,738.4 601,740.7 602.2,737.5 602.4,730.6 602.1,737.2 602.6,741 602.2,739.5 602.6,735.9 603.1,731.8 603.1,733.5 604.2,719.1 603.6,727.2 603,734.4 603.4,726 605,739.8 605.3,743.8 603.9,749.6 604.7,754.4 605.1,757.2 605.7,753.9 605.8,747.2 605.2,747 606.4,746.2 606.5,749.8 605.9,747.4 607.2,740.9 607.7,749.6 607.1,745.2 608,739.8 607.9,741.2 607.9,738.5 608.9,736.7 607.7,740.2 608.7,733.4 608.7,729.3 608.2,732.3 609.1,735.2 608.7,731.4 609.7,730.3 609.1,741.1 610.2,741.6 609.4,730.8 611.1,742.5 610.4,743.2 611.5,730.1 611.1,733.2 611.5,736.2 611.2,731.8 611.3,734.6 612.7,717.7 611.7,729.3 612.8,722.6 612.6,722.1 612.1,722.8 613.3,720.9 613.3,705 613.5,711.5 614.7,709 613.4,708.7 614.1,706.1 615,708.9 613.7,705.9 613.9,698.3 615.7,702.7 615.1,695.4 615.5,700 615.1,694.8 616.4,693.3 616.1,692.1 615.5,694.6 616.4,688.6 616.3,694.6 617.9,692 618.1,701.4 617.7,703.4 617.7,692 618.9,688.3 618.1,697.1 619,697.2 618.6,692.7 617.9,691.2 618.6,704.3 619.6,693.7 620.1,691.5 620.4,694.3 620.9,695.6 620.1,696.1 619.8,701.3 621.3,697.7 620.6,692.9 621.1,699.1 620.5,711.6 621.5,700.4 621.6,710.1 621.9,709.4 622.3,715.8 622.2,713.5 621.9,712.9 623.5,711.5 622.4,717 624.1,719.1 623.2,718.6 624.3,722.5 623.6,719.9 624.1,718.1 624.8,727.4 624.4,727.3 624.1,734.8 625.1,734.3 624.5,746.4 626,747.3 625.6,740.2 625.2,740.4 626.7,723.9 625.8,718.9 625.8,696.8 626.6,704.1 627.1,701.9 626.6,701.9 627.4,695.6 628.3,697.7 627.7,697.9 628.9,700.7 628.1,694.1 628.6,694.7 628.8,691.8 627.9,692.6 629.7,705.4 630,713.6 628.7,718.5 629.6,715.1 630.1,717.5 629.3,717 631,719.3 631,724 629.9,726.6 631.6,729.2 631.2,726.2 631.4,725.6 631.8,729.8 631.2,719.1 632.9,718.6 632.4,718.9 633,716.7 632.7,714.1 632.7,708.4 633.2,702.8 633.2,702.6 632.6,707.8 633.5,707.2 634.9,704.5 634.2,702.1 634.6,705.7 633.7,708.5 635.7,701.1 635.4,715.2 635.6,717.1 634.9,711 636.5,708.8 635.5,712.1 636.2,710.1 637.1,706.7 635.7,713.1 637.1,710.3 636.6,713.8 637.6,713.5 638.2,724.6 637.8,714.4 638.4,720.5 638.2,720.1 637.8,718.2 639.1,725.7 638,722.9 639,711.9 638.7,713.4 639,717.8 639.1,713.7 639.6,717.5 640.2,715.1 639.7,716.4 639.8,713 641.4,717.7 641,722.5 642,722 642,724.6 641.7,722.1 641.2,724 642.5,716.6 642.9,717.1 641.8,701.2 643.6,702.8 642.3,694.5 643.2,697.1 643.8,696 644.1,698.2 644,697.8 644.3,698.5 644.6,699.6 645.2,699.4 644.7,697.1 644.7,701.8 645.2,702.1 645,704.3 644.8,705.8 645,705.4 645.6,707.3 646.3,699.8 647.3,706.1 647,710.1 647.5,716.5 647.2,713.1 647.7,719.2 647.6,717.2 647.5,714.5 647.4,723.3 647.7,727.6 648.4,728.7 649.1,724.9 649.9,725.4 649.2,730.2 649.5,728.6 648.8,731.1 650.5,742.7 649.8,743.2 649.8,753.8 649.8,754.9 650.7,750.2 651.4,751.7 650.9,739.5 650.8,739.5 651.2,733.3 652.3,721.5 652.6,718.1 653,716.3 652.3,720.3 652.7,714.1 652.7,712.1 652.3,710.7 652.9,719.1 654.3,723.6 654.4,718.9 654.6,732.6 654.2,726.2 654.9,722 654.6,727.3 654.5,723.9 654.2,716.9 655.7,718.6 655.9,718.3 655.7,719.1 656.3,715.1 656.3,716.4 657.1,710.1 657.2,699.4 656.3,703.3 657.8,694.8 657.6,695.3 657.6,694.1 657.7,691.1 658.5,690.7 658.6,695.2 658.5,690.3 658.7,687.4 659.1,695 659.2,690.1 658.5,685.5 659.5,685.2 660.3,682.7 659.2,683.8 660.2,686.1 659.7,680.3 661.2,696.2 660.3,699.3 660.2,690.6 661,701 660.8,709.9 661.7,714.1 661,710.2 662.8,702.4 662.5,712 663.1,702.6 662,708.7 663.3,706.5 663.2,703.1 662.5,709.6 662.7,699 663,708.6 663.6,694.3 664.8,703.2 664.2,699.5 665.1,694.9 664.6,687.5 665.2,692.1 664.8,697.4 665.1,693.4 665.5,682.7 666.5,678 666.9,684.8 666,682.9 667.4,688.3 666.5,684.9 668.1,684.8 666.9,680.6 667.7,683.1 668.4,686.8 668.8,684.5 667.7,685.5 668.5,686.9 669.1,703.7 668.9,704.2 669.2,706.1 670.2,701.9 668.7,701 669.7,698.7 670.8,698.7 670.1,683 670.9,689.3 670.7,693.1 669.9,693.5 671,692.9 670.6,694.7 671.4,698.6 671.1,685.5 672,684.9 672.2,687.1 671.7,690.8 673,694.7 672.8,692.1 673.4,692.1 673.7,691.3 673.4,701 673.7,700.1 672.9,700.7 674.5,692 674,691.3 674.5,686.6 674.9,690.6 675.9,686.3 675.2,687.1 675.8,692.5 676.2,701.2 675.8,705.4 676.2,715.9 676.2,717.1 676,719.5 676.4,713.7 677.3,698 677,695.4 677.2,688.1 677.9,694.4 677.7,687 678.3,679.9 678.3,679.9 678.5,685.2 678.4,671.4 678.7,668 679.3,668.1 678.5,674.7 679.9,668.8 679,662.9 679.7,661.7 680.2,667 679.8,663.7 681.3,672.1 679.9,663.7 680.7,660.5 681.3,669 681.5,663.4 681.4,666.5 681.8,681.1 682.9,678.1 681.9,692.3 682.1,692.8 682.4,702.8 682.6,698.1 683.3,698.1 683.1,705 683.4,689.7 684.2,691.9 684.4,686.4 683.9,689.7 685.4,680.1 684.8,677.1 684.4,679.7 685.6,676.5 685.3,676.5 686.3,683.8 685.3,692.3 685.8,690.3 686.3,697.1 685.9,699.9 687.1,690.4 687.5,688.5 686.5,687.7 687.4,687.3 686.7,684.7 688.3,685.7 687.6,682.1 688.3,681.1 687.6,679.9 689.4,692.5 689.2,692.1 688.6,689.4 689.9,689.1 688.7,686.2 689.5,696 689.5,691.9 690.3,696.1 690.4,703.4 690.7,686.3 691.3,692.6 691.8,693.9 691,685.3 690.7,695.3 691.7,690.7 692.4,690.1 692.3,683.1 692.2,682.4 692.1,691 693,691.9 693.1,689.3 693.4,697 694.3,693 694.4,684.9 693.3,697.9 694.3,700.1 694.7,705.7 694.3,690.3 695,689.9 694.9,678.3 695.3,676.1 696.1,675 696.1,662.6 696.1,664.7 695.6,669.3 695.6,666.7 695.9,659.9 696.9,669.1 696.8,666.7 697.3,664 698.2,660.9 697.4,659.7 697.3,674.1 698.9,672.2 698.3,679.6 699.1,683.6 698.3,680 699.1,683.6 699.3,689.1 699.7,691.2 700.4,685.1 699,676.1 700.2,684.6 700.8,681.3 700.2,675.6 700.6,678 700.6,672.2 700.7,669.7 701.3,669 701.2,674.8 702.2,666.2 701.5,665.4 702.9,671.7 702,667.3 702.7,676.6 702.9,670.7 703.8,671.2 703.8,669.1 704.3,675.6 703,669.2 703.7,684.9 703.8,680.2 705.1,684.3 704,684.8 704.6,684.7 705.9,680.9 705.3,689.8 705.4,688 705.8,692 705.7,684.5 706.1,677.2 706.8,688.6 706.5,679.6 706.8,675.9 707.8,666.9 707.5,675.4 707.7,668.7 708.5,668.7 707.7,673.6 707.7,669.6 709.1,666.6 708.5,672.6 708.7,663.9 708.6,663.9 710.2,669.8 709.7,670.7 710.6,674 710.1,678 709.5,675.9 709.9,678.6 711.6,682.7 710.9,683.6 711.3,684.1 711.6,689.9 712.1,687.5 712,690.4 712.1,693.9 713.1,695.9 712.9,690.8 712.4,686.6 713.5,690.4 713,685.7 712.7,687.4 713.9,679.6 714.1,678.4 714,678.4 715.2,674.8 713.7,683.1 714.5,682.1 715.5,679.1 714.8,673.5 714.9,671.2 715.5,668 716,667.8 716.8,670.2 716.4,666.6 717.4,662.9 717.7,670.9 717.1,670.3 717.8,668.7 717.5,666.2 717.9,664.5 718.8,666 718.9,666 718.4,663.9 719,661.6 718.3,667 718.4,667.1 719.7,678.3 718.9,670.9 719.3,674 719.9,677.6 719.9,684.1 720.4,682.1 721.2,695.2 720.8,688.1 721.6,687.9 721.5,671.2 721.6,677.7 721.1,674.1 721.3,663.7 721.4,665.4 722.2,663.1 722.8,658.1 722.9,657.8 722.6,662.9 723.7,666 723.3,663.4 724,666.1 724.6,662.3 724.5,671.5 723.9,669.6 724.7,674.6 725.4,678.7 724.7,681 726.1,678.4 725.8,666.8 726.6,667.3 726.5,661.5 726.2,661.4 726.1,654.1 726.6,658.1 727.2,654.3 726.9,660.8 727,660.4 727.8,670.9 726.9,670.2 728,670 728.5,669.4 729.1,670.7 728.5,676.9 729.4,675 729.1,677.5 729,674 728.7,680.4 730,672.6 729.8,670.5 730.3,670.1 730.2,675.7 731.2,668 730.6,667.4 731.7,673 731.6,672.5 732.4,672.8 732,668.7 731.6,663.6 731.8,669.2 731.7,665.5 732.2,669.8 733.7,661.8 734.1,665.7 732.9,669.3 733.4,664.2 734,652.1 734.4,664.8 734.4,662 735,661.4 734.8,657.9 734.2,658.1 735.4,655.8 734.9,660.7 735.5,654.9 735.7,647.6 736.7,649.6 736.7,659.1 737.2,656.6 736.8,653.2 737.6,658 737.3,654.5 737.1,662.6 737.9,667.1 738.9,665.8 738.9,670.9 737.8,675.1 738.7,672.6 739.5,676.6 738.8,672.6 740,671 739.9,662.6 739.1,664 740.3,666.1 740.5,667.1 740.2,658.4 741.1,659.7 740.2,653.3 741.3,647.2 741.8,650.7 741.7,650.3 741.1,650.4 742.6,646.8 742.8,648.7 743.3,654.2 743.7,653.8 742.7,659.7 742.5,653.9 742.8,664.4 743,660.4 743.6,665.9 744.1,662.9 744.2,660.1 744.3,672 745.6,671 745.5,680.6 744.6,666.8 744.7,667.3 745.9,678.8 746.6,680.7 745.6,671.5 746.5,682.3 747,681.9 746.5,679.2 747.5,676.8 746.5,667.4 747.1,656.6 748.2,650.9 747.3,663 749.1,652.1 748.4,647.4 747.8,652.7 748.1,649.2 748.9,651.2 750,653 749.3,651.8 749.1,656.1 749.3,654.6 750.4,659.1 750.4,663.9 749.8,663.7 751.4,657.2 751.6,652.4 751.9,660.2 751.2,656.6 751.6,649.2 751.8,648.4 752.5,643.7 752.7,658.3 752.4,660.7 753.2,655.5 753.8,666.5 753.9,660.3 754.1,665.5 753.8,668.7 754,667.6 753.8,672.6 754.6,673.8 753.9,682.5 755.5,677.8 755.3,683.2 755.2,681.3 754.8,685.7 754.8,696.2 755.2,701.5 756.9,714.3 756.2,721 756.8,722.7 757.2,714.2 756.5,699.8 756.6,696.6 756.7,688.1 757.3,683.4 757.6,686.2 756.9,677.9 758.2,669.7 758.1,670.7 759.1,667.2 758.6,658.9 759.1,651 759.1,651.3 758.9,656.7 759.9,657.3 759.5,668.5 760,677.7 760.9,661.4 761,677.8 761.3,681 761,684.2 761.2,685.5 760.6,678.3 760.8,668 762.4,667.8 762.9,660.3 762.5,655.2 762.1,649.5 762.3,641.9 763,640.7 762.6,651.9 764,644.7 763.3,655.1 764.2,658.6 764.8,669 765,681.8 764.4,678.4 765.2,678.6 764.5,675.9 764.7,674.8 765.7,683.3 764.8,679.3 765.5,685.7 765.7,681.5 766.9,683.6 767.4,686.8 767.2,681.9 766.8,689.1 767.3,687.9 766.8,671.3 767.4,669.3 767.9,663.3 767.5,663.7 768.3,647.4 768.8,649 768.6,652.9 769.5,649.8 769.9,653.7 768.7,656.6 769.7,663.4 770.2,657.7 769.5,665.9 770.2,678.3 770.9,665.7 770.1,665 770.3,673.1 771.2,675.5 771.2,676.3 771.4,683 772.3,676.8 771.4,678 771.8,669.1 772.5,670.4 773.3,670.4 773,664.7 773.6,668 773.1,664.6 773.6,668.7 773.8,665.6 773.8,658.8 775,656 774.7,669.4 774.8,663.9 775.8,662.8 774.7,672.9 775.3,666.1 775.6,659.1 776.6,669.5 776.9,670.3 776,679.3 777.1,683.7 777.6,686.6 776.8,698.1 776.5,699.6 777.5,699.7 777.1,700.9 778.7,689 778.6,683.1 777.6,685.4 779.2,677.3 778.4,669.6 778.9,668.7 778.7,671.2 779.6,672.2 779.1,672.1 779.7,675 779.4,680.5 779.8,680.6 780.2,677.2 781.5,679.1 780.5,684.7 780.4,680.7 781.4,683.3 782.4,685.1 781.3,683.1 781.8,677.5 782.1,672.1 782.8,677.2 783.5,678.7 783.1,676.9 783.9,680.1 783.3,672.6 783.1,672.8 783.9,669.1 784.2,667.3 783.8,660.5 785.4,665.5 784,654.1 785,652.6 785.3,653.6 786.4,660.1 785.7,654.2 786.3,654.1 785.7,656.2 785.8,664.5 786.6,669.7 786.8,666.2 787.8,673.9 786.6,671.9 788.3,683.5 787.7,681.3 787.8,676.4 787.7,681.7 787.7,683 788,682.9 788.5,688.2 789.7,693 789.6,689.4 789.6,702.7 789.6,698.8 789.6,694.3 789.4,691.6 789.7,684.2 789.8,684.2 790.8,685.2 791.1,674.8 790.7,673.2 791.5,673.6 790.8,670.1 791.3,667.6 792.1,674.8 792.7,668.5 792.6,677.3 792.5,664.5 792.8,666.9 793.8,667.2 793.6,661.8 794.1,655.7 793.5,660.2 793.9,661.2 794.4,659.1 794.1,657.5 794.3,664.7 795.9,658.8 795,669.9 796.2,679.6 795.1,677.2 795.3,678.8 797,674.9 796.4,676.5 797.3,673.4 797.2,677 797.3,669 796.7,670.8 797.8,662.2 797.3,665.6 798.2,663.5 798.8,653.3 797.9,661.1 799,663.2 798.8,658.1 799.5,666.4 799,667.7 799.2,673.3 799.9,669.9 800.4,669.1 801.2,677.9 800.8,685 800.7,678.4 800.3,676.2 801.5,680.3 800.4,670.5 800.9,662.7 802,662.6 802.7,660.3 801.6,665.9 802.2,657.9 802.7,655.2 802.1,653 802.5,654.8 802.9,659.1 804.1,653.3 804.2,651.7 804.1,656.9 804.6,653 805,658.8 805.1,659.3 804.7,654.5 804.7,650.6 806.4,651.3 805.6,653.2 805.2,647 806.9,661.6 806,667.4 805.7,660.6 806.5,654.8 806.5,662.7 807.7,662.1 807.5,670.7 808.2,662.7 807.8,671.1 807.7,672.3 808.8,671.7 808.1,680 808.6,677 809.8,673.9 810,680.3 810.4,674.4 810.2,678.8 809.9,683.3 809.6,678.2 811.2,685.4 810.4,685.8 811.2,687.2 811.4,693.3 810.9,695.9 811.3,696.6 811.6,701.7 812.4,694.6 813.1,701.9 812.4,699.7 812.5,703.2 811.9,690.6 813.1,675.7 812.5,682.6 813.8,672.4 814.5,670.4 813.8,666.8 814.2,670.9 814.4,675.1 815.1,679.8 814.9,677.4 814.5,682.1 816.1,675.7 815,679.6 815.7,686.2 816.3,685.1 815.4,690 816.4,678.5 816,678.6 816.8,679.8 817,671.8 817.7,665.5 817,659.6 818.3,667.6 817.7,657.2 818.2,662 818.9,661.6 819,662 818,655.7 819.8,661.9 819.9,651.9 819.3,660.5 819.6,657.2 820.7,662.4 819.7,662.3 819.7,662.2 820.6,662 821.3,667.2 821.9,666.3 820.8,667.5 820.8,672.7 822.4,686 821.3,682.2 821.6,689.3 822.5,693.9 822.1,696.1 823.3,690.8 823.2,684.3 823.9,676.7 823.7,686 823.3,677 824.3,669.9 824.2,670.9 824.5,667.8 823.9,670.4 825.5,662.5 825.7,671.2 825.6,670.8 825.6,673.6 825.6,673.3 826,670.7 825.6,669.7 827.2,677.1 827.3,678.2 826.9,683.3 826.6,686 827.6,676.3 826.7,676.7 827.7,672.6 828.5,662.6 828.9,669.9 829.1,662.2 828.6,655.2 828.8,658.1 829.7,668.8 829.1,679.8 829.4,682.1 829,689.1 829.5,695 830.3,703.6 830.3,702.6 830.6,704.6 831.4,696.3 831.5,693.8 830.7,690.7 832.4,672.9 831.7,682.3 831,681.6 832,679.5 832.4,674.4 832.6,663.8 832.1,663 832.5,665.1 833.2,661 832.5,663.4 832.8,666.1 834,662.3 833.8,670.6 833.9,677.1 833.7,672.2 835.6,678.1 835.6,676.9 835.1,673.6 834.8,678.7 834.7,676.5 834.9,680.3 835.5,684 836.1,695 837,698.5 836.6,693.9 836.9,688.3 837.5,685.6 836.6,689.5 837.3,692.9 837.9,688.7 838,688.1" fill="none" stroke="#34479d" stroke-width="2.6" stroke-linejoin="round"/>
<polyline points="136.1,1195.9 135.9,1197 136.9,1196.5 137,1204.5 136,1200.5 136.4,1202.7 137,1209.5 137.5,1223.9 137.5,1241.3 138.4,1256 137.4,1272.8 138,1292.9 138.3,1299 138.9,1320.8 138.1,1349.4 139,1375.7 139.2,1408.2 138.5,1402.2 139.4,1404.9 139.8,1404.9 139.8,1404.3 139.7,1393.4 141.2,1389.6 141.5,1392.7 140.3,1386.1 141,1383.2 140.7,1385.5 141,1381.4 141.6,1370.3 142.3,1365.2 142.1,1353.5 142.7,1347.6 142.1,1350.4 142.7,1347.4 143.7,1354.2 143,1339.5 144.1,1340.2 144.2,1343.7 143.8,1348.9 144.7,1339.8 144.8,1347.7 144.5,1349.1 144.6,1360.8 144.2,1359.4 144.7,1375.9 145.4,1392.1 144.8,1393.7 145.8,1376 145.9,1348.9 146.6,1334.8 147.2,1314.5 146.3,1285.1 146.3,1269.5 147.6,1248.8 147.2,1252.5 146.9,1255.4 147.1,1266 148.6,1269.6 148,1275.1 148.4,1285.3 148.9,1294 149.6,1306.6 149,1309.8 149,1306.8 150.2,1292.4 149.7,1282.8 150,1274.7 150.2,1270.7 150.3,1257.5 150.9,1248.1 150.8,1245.3 150.4,1244.2 150.4,1252.3 151.3,1257.4 152.3,1270.8 152.3,1274.3 151.8,1286.3 151.8,1291 152.6,1293.6 152.3,1285.4 152.6,1255.9 152.5,1239.8 153.3,1215.1 153.9,1200.8 153.9,1176.7 153.3,1155.4 154.4,1136.1 153.8,1140.2 154.6,1159 155,1158.6 155,1181.4 155.2,1189.5 156.1,1199.5 156,1213.5 156.2,1227.4 156.8,1232 157.3,1280.2 156.7,1330.1 157.2,1370 157.1,1393.9 157.8,1389.4 157.9,1389.7 157,1383.6 157.7,1368.9 158.2,1363.2 158,1360.2 158.6,1351 158.9,1349.1 159.8,1352.2 159.6,1353.9 159.2,1362.4 159.5,1384.9 160.6,1385.6 159.7,1395.2 160.8,1396.1 160.6,1395.7 161.1,1395.6 160.4,1397.4 160.9,1393.5 161.4,1382.2 161.4,1377.3 162.7,1376 162.4,1369 161.7,1358.9 162.5,1362.8 162.3,1358.6 163.1,1344 163.3,1349.1 163.9,1352 163.6,1334.5 164.2,1328 163.8,1323.1 163.8,1320.5 164.3,1313.1 165.5,1299.2 165.1,1299 164.6,1299.2 165.4,1295.3 166,1285.9 166,1275.2 165.6,1275.6 166.4,1273 167.5,1274.3 166.9,1266.8 166.8,1265.1 166.5,1265 167.6,1270.7 167.8,1256 168.5,1251.5 168.6,1252.2 168.9,1249.9 168.8,1246.6 168.7,1241.7 168.8,1258.9 169.5,1271.7 170.2,1286.9 169.6,1308 169.1,1305.6 170.8,1317 170.6,1323.6 171.2,1333 170.5,1343.8 170.7,1332.9 170.3,1324.2 170.7,1315.5 171.6,1317.2 171.1,1306.1 172.7,1289.6 171.7,1290.7 172.3,1281.1 172.7,1278.5 172.9,1268.2 172.5,1261.4 173.2,1256.1 172.6,1268 172.6,1274.8 173.5,1289.8 174.7,1310.8 174.3,1332.4 174.2,1348.1 175,1365.1 175.3,1380.6 175,1388.5 175.6,1386.8 175.6,1387.6 176.4,1396.7 175.6,1402.3 175.7,1405.8 176.3,1407.5 177.6,1416.8 177.2,1417 177.4,1421.6 176.8,1418.9 177.6,1427.9 177.5,1422.7 178.2,1407.8 177.9,1399.2 178,1379.8 179.3,1365.1 178.9,1350.4 178.9,1343.4 179.5,1321.2 179.4,1322.3 179.5,1326.7 180.7,1337.2 179.7,1341.2 180.8,1352.3 180.4,1356.6 180.5,1358.6 180.8,1362.7 181.2,1363.5 181.5,1353.3 182.1,1345.3 181.7,1328.2 182.1,1313.3 182.6,1318.8 183.3,1305.2 183,1308.5 183.4,1310.8 183.8,1312.4 183.4,1312.7 183.2,1311.3 183.9,1313.3 184.8,1303.7 183.6,1302.2 185.1,1289.2 184.4,1273.5 184.4,1268.1 185.7,1259.8 186.2,1251.8 185.1,1244.5 185.7,1245.3 185.4,1225.6 185.9,1207.8 185.9,1188.6 186.6,1184.4 187,1185.2 186.1,1196.5 187,1219.4 187.4,1232.2 187.5,1236.4 188.2,1265.4 188,1295.1 188.2,1322.9 188.4,1352.7 189.2,1350.8 189.3,1357.1 189.2,1364.9 189.4,1362.5 189.2,1376.7 190.4,1396 190.1,1396.1 190.2,1402.8 189.7,1407.6 190.2,1395.4 191.4,1387 191.5,1387.4 191.6,1384.2 191.9,1379.4 192.4,1384.2 191.1,1382.2 192,1374.2 192.5,1374.2 192.7,1385.5 193.2,1382.2 192.7,1374.6 192.7,1384 193.6,1380.8 194.4,1378.8 193.8,1379.6 194.7,1362 193.3,1355.6 194.2,1338.2 195.3,1336.2 194.3,1312.8 195,1313.3 195.7,1304.2 196.2,1306.8 196.1,1294.4 196.6,1298.9 195.3,1283.4 195.6,1283.9 196.4,1281.1 197.2,1253.6 196.8,1231.4 197.4,1209.9 197.3,1182.4 196.9,1163.4 197.9,1141.5 197.3,1142.9 197.8,1168 197.6,1182.5 198,1189.5 198.3,1221.8 199.1,1227.4 198.8,1236.3 200.2,1264.1 200.6,1300.8 199.9,1331.8 200,1340.2 199.7,1353.2 200.6,1365 199.9,1378 201.7,1379.7 200.3,1397.1 201.7,1404.8 200.8,1412.3 201.8,1424.3 201.2,1420.9 202.3,1419.1 202.7,1424.2 202.3,1420.7 202.1,1422.6 203.2,1420.3 203.5,1420.8 203.2,1421.8 204.7,1416.4 203.5,1419 204.2,1420.5 204.5,1424.3 205.4,1422.5 204.8,1424.7 205,1433.9 205.7,1437.8 205.9,1444.8 206.7,1440.3 206.5,1442.7 206.9,1439.2 206.1,1445.1 206.8,1447.6 207.2,1446.4 207.1,1438 208.1,1420.7 207.9,1414.9 207.6,1404.6 207.7,1396 208.8,1380.2 208.2,1365.2 209.1,1359.4 209,1356.3 209.9,1358.3 210.2,1346.6 209,1343.4 209.2,1332.2 210.4,1325.3 210.7,1313.8 210.5,1316.3 210.8,1311.6 211.1,1310.2 211.3,1318.4 212.2,1325.2 211.1,1327.2 212.4,1329.1 212.4,1335.9 212.1,1339.1 212.2,1348.7 212.9,1350.7 213.7,1362.6 213.8,1361.7 213.5,1359.9 213.5,1361.7 214.8,1351.9 215,1343.6 215.2,1343.9 214.2,1343.7 215.1,1338.3 215,1334 214.9,1323.1 216.2,1318.9 216.7,1316.4 216.1,1311.6 215.6,1312.7 216.5,1324.4 217.1,1333.5 217.8,1341.9 217.7,1342.9 217.9,1360.6 217,1356.6 217.9,1374.2 218.3,1372.6 219,1385.5 218,1401.2 218.3,1413 218.4,1431.4 218.5,1436.6 219.4,1455.3 220.2,1460.5 219.7,1467.3 220.4,1453.1 220,1439.4 220.6,1426.6 220.3,1402.9 220.6,1384 220.9,1384.8 221.8,1359.5 221.5,1361.7 222.3,1354.9 221.7,1352.1 222.8,1355.3 223,1349.6 223.3,1348.5 223.2,1345.5 223,1337.9 224.2,1330.8 223.6,1332.8 224.2,1327.2 223.4,1321 224.2,1316.9 224,1310.8 224.5,1314.2 225.6,1316.7 226.1,1310.2 224.7,1312.1 225.1,1315.2 226.5,1301.3 226.5,1298.8 225.9,1297.6 226.3,1298.2 226.9,1291.9 226.2,1279.3 228.1,1282.2 227.9,1288.4 226.9,1281.6 228.8,1274 227.8,1282.1 228.2,1272.7 228.9,1278.2 229.6,1275 228.7,1266 229.7,1259.4 229.6,1261.4 228.8,1270 230.5,1276.8 230.7,1287.3 229.6,1296.3 229.8,1306 231.2,1312.7 231.1,1328.6 231.4,1331.2 232.3,1338.3 232.4,1338.6 231.6,1346.3 232.1,1363.9 232.1,1375.4 232.5,1381.8 233.5,1394.2 233.1,1397.5 233.4,1404.1 233.7,1418.2 233,1433.8 233.8,1448 233.3,1465.7 234.4,1478 234.1,1469.1 235,1466.6 235.1,1440.8 234.5,1432.3 235.4,1418.7 235,1402.8 235.8,1395.7 235.7,1394.4 236.8,1389.8 237.3,1389.6 236.9,1392.5 237.8,1390.6 237,1380.8 236.9,1384.6 237.6,1383.2 237,1377.7 238,1387.5 237.4,1391.4 237.8,1388.5 239.5,1402.5 239.4,1394.1 238.9,1407.3 239.4,1402.8 239.6,1397.1 239.8,1398.3 239.3,1379.4 240.8,1376.6 241.3,1365 240.4,1364.8 241.6,1353.6 242.1,1349.3 241.2,1349.1 241.6,1335.5 242.4,1313.7 241.9,1297.9 242.7,1283.8 242.4,1261.6 242.6,1252.5 241.8,1256.8 242.5,1263.9 243.2,1294.9 242.9,1306.9 244.3,1312.4 243.9,1331.2 244.7,1331 243.7,1348.9 244,1368.8 244.6,1385.7 245.5,1403.3 245.1,1411.8 244.8,1412.7 245.6,1381.8 245,1365.1 245.2,1342 245.9,1322.4 245.8,1296.7 246.6,1284.7 247.1,1285 247.7,1305.2 246.9,1332.6 248.1,1338.5 247.8,1359 247.3,1369.7 248.4,1384.4 248.4,1395.7 249.1,1393.4 248.2,1383.8 248.9,1379.6 248.8,1365.8 249.7,1351.7 249.3,1354.4 249.8,1344.7 250.2,1338.4 250.2,1334.4 250.8,1339.6 251.5,1347.6 251.7,1350.5 251,1349.4 251.4,1363.2 250.9,1372.9 251.7,1367.6 251.9,1368.8 252,1370.4 252.9,1385.6 253.1,1393.4 253.7,1390.4 253.8,1394.1 252.8,1400.9 253.7,1410.5 253.7,1413.6 254.2,1397.1 253.6,1384.9 254.9,1370.2 255.3,1350.7 255.4,1343.2 254.9,1331.9 255,1302.8 255.5,1308 255,1294.5 255.1,1278.6 255.4,1262.9 255.7,1251.8 257.5,1232.8 257.3,1225.9 257,1223.8 257.5,1231.1 258.1,1240 257,1257.4 258.7,1267.7 258.9,1284.6 257.9,1291.1 258.1,1300.5 259.3,1321.2 259.1,1320.5 259.2,1328.4 258.9,1347.4 260,1370.2 259.2,1380.5 261,1400.7 259.9,1416.2 260.1,1445.2 260.9,1453 261.1,1446.6 261.4,1433.2 261.6,1420.8 261.9,1420.4 261.8,1405.2 262.2,1386 263.1,1373.6 262.7,1367 262.3,1373.6 262.7,1354.5 263.1,1349.8 262.8,1339.4 263.4,1345.3 264.1,1326 264.4,1316.6 265.3,1316.5 264.5,1316.9 264.5,1307.7 265.1,1295.8 265.6,1284.7 266,1270.7 266.5,1265.1 265.4,1265.6 265.4,1240.5 266.3,1243.5 267.3,1249.8 266.5,1255 266.3,1252.5 267.5,1250.2 267.9,1255.6 267.4,1257.1 268.5,1248.3 268.1,1256.1 267.8,1259.2 268,1257.3 269.3,1257.2 269.4,1273.8 269.4,1271.3 268.9,1280.7 269.5,1278.7 269.4,1315.2 270.4,1379.4 270.5,1432 270.3,1440.9 270.8,1437.2 270.9,1424.8 270.3,1415.7 270.8,1409.2 270.7,1397 272.4,1386.8 272.3,1384.5 272,1374.9 271.7,1368.8 273.6,1359.5 272.7,1357.9 272.2,1352.1 273.2,1359.5 274.1,1357.6 273.5,1358 273.3,1366.4 273.6,1367.1 273.7,1372.2 274.6,1376.8 274.6,1368.6 275.2,1366.6 274.8,1356.9 275.4,1352.2 275.8,1348.9 276.1,1344.1 276.1,1328.1 276.9,1314 276.3,1308.3 277.6,1311.6 277.1,1303.2 277.4,1316.7 276.8,1325.9 277.6,1341.3 277.5,1347 278,1359.9 278.4,1373 277.8,1381.1 278.3,1393.1 278.2,1406.2 279.3,1420.2 279.8,1431.3 279.1,1438.4 279.7,1444.7 280.8,1431.6 279.8,1408.4 281.1,1384.4 280.3,1365.4 280.1,1350.8 280.4,1324.9 281.2,1327.7 280.6,1301.8 282.4,1286.5 282,1267 282.8,1245.9 282.6,1224 281.8,1200.3 282.7,1195.7 283.2,1206.9 283.7,1212.4 283.4,1231.3 284.1,1240.5 283.4,1260.6 284,1259.8 285,1264.3 285.3,1280.8 285.5,1297.6 284.7,1304.7 285.8,1319.5 285.7,1344.1 285.4,1358.4 285.9,1367.4 285.6,1359.5 285.4,1349.6 287.2,1337.8 286.2,1312.1 287.8,1297.6 286.9,1279.9 287.1,1260.2 288.3,1241.6 287.8,1239.1 288.4,1234.4 287.4,1258.9 288.5,1280.4 288.5,1301.1 288.3,1324.7 289.1,1325.8 289.2,1336.3 290.3,1317.2 290.1,1297.5 290.5,1277.5 290.2,1267.2 289.7,1258.5 289.9,1239.7 290.1,1227.5 291,1218.3 291.9,1234.4 292,1236.3 291.6,1247.8 291.4,1267.2 292.8,1274.5 292.5,1289 292.5,1291.9 292.8,1284.6 293.8,1269.6 292.9,1269.1 292.6,1252.3 294.6,1246 294.3,1236.4 293.6,1226.1 294.4,1209.2 294.1,1204.4 295.2,1186 295.8,1181.2 295.4,1173 295.9,1183.2 295.4,1232 295.1,1264.8 296.1,1307.8 296.3,1324 296.7,1330.7 297,1329.9 297.8,1341.8 297.1,1347.7 298,1350 297.9,1358 298.4,1366.9 298.1,1374.5 299.3,1382.3 298.6,1384.3 298,1378.2 298.9,1357.8 299.3,1331.4 300.1,1313 300,1290.8 299.8,1268.1 300.1,1259.8 299.8,1254.4 300.6,1247.7 301.5,1248.4 301.2,1247.1 300.7,1238.5 302,1235.2 301.2,1230.4 301.4,1225.7 302,1231.5 302.1,1220.9 302.7,1219.8 303.3,1206.3 302.3,1213.2 302.8,1203.7 302.7,1194 303.5,1193.8 303.1,1204.6 304.8,1226.9 304.4,1238.2 303.8,1264.2 305.3,1273 304.8,1282.5 304.1,1292.8 304.3,1305.5 306.1,1331.1 305.9,1346.9 306.3,1365.1 306.1,1388 305.6,1396.1 306.7,1414.5 306.2,1408 307.5,1379.6 306.3,1356.7 307.2,1330.2 308.1,1302.1 307.2,1277.5 308,1267.4 307.7,1281.3 308.6,1285.2 309.4,1304.1 308.8,1308.4 309.5,1318.1 309.5,1336.2 309.5,1335.3 310,1346 309.9,1353.9 310.2,1355.8 310.8,1373.9 310.2,1378.6 311.8,1382.2 310.3,1393.1 311.4,1401.3 311,1408.1 311.8,1410.8 312.2,1397.8 311.6,1390.8 312.8,1366.4 311.9,1353.9 312.2,1336.3 312.5,1322.1 313.3,1316.4 313.6,1315 313.4,1339 313.1,1346.8 314.2,1350.4 314.6,1364.5 314.7,1369.7 314.8,1373 315.3,1369.2 315.6,1353.1 315.9,1334.6 316.2,1325.5 316.5,1312.7 315.3,1299.3 316.1,1281.5 316.7,1278.7 316.9,1276.9 316.7,1278 317.5,1275.1 318.1,1268.4 318.6,1275.6 317.3,1265.8 318.8,1265.6 319.2,1260.8 318.6,1259.8 318.6,1252.5 318.4,1246.6 320.1,1232.7 318.7,1222.4 320.3,1209.5 319.6,1206.6 321,1197.4 321,1183.8 320.5,1184.3 321.2,1197.8 321.3,1217 321.6,1239.9 321.2,1253.6 322.4,1274.2 321.8,1278.7 321.8,1291.9 321.7,1303.8 322.2,1319.4 321.8,1334.5 322.7,1333.4 322.7,1327 322.6,1329.5 323.5,1313.3 324.1,1309.9 323.3,1304.8 324.9,1298.6 324.2,1290 324.6,1291.9 323.9,1298.9 324.3,1316.2 325.9,1340.2 326.2,1362.6 325.5,1367.4 325.2,1360.6 325.6,1337.3 325.3,1315.3 326.4,1305.3 326.5,1276.3 326.3,1263.6 327.6,1233.3 327.4,1216.4 326.8,1217.4 327.1,1227.6 328,1222.9 328,1226.6 328.4,1237.2 327.7,1243.1 328.7,1265.2 328.2,1281.9 329.4,1300.2 329.1,1316.1 329,1338.1 329.1,1358 331,1370.9 330.3,1378.7 330.2,1362 329.9,1359.2 331.6,1337.5 331.2,1324.1 331.8,1314.7 331.7,1308 331.5,1286.4 332.2,1282.5 332.3,1284.6 332.5,1315.2 332,1333 332.1,1354 333.1,1369.2 332.8,1353 332.6,1314.5 333.9,1290.3 333.9,1244.1 334.5,1213.4 334.4,1178.7 334.1,1184.4 335.3,1187.2 335.6,1197.7 335.1,1211.7 335.7,1217.6 335.9,1231.2 335.9,1235.3 336.2,1240.6 336.4,1255 336.1,1256.3 336.5,1275.7 336.2,1287.4 337.7,1299 337.4,1314.5 336.8,1306.4 337.9,1298.6 337.4,1290.4 338,1275.4 339.3,1254.5 338.1,1241.6 338.8,1237.2 338.1,1227.2 339.6,1216.8 338.8,1196.9 339,1184.1 339.3,1168.1 340.8,1163.7 340.3,1156 340.9,1171.8 341.4,1177.6 340.3,1190.1 341.5,1202.7 341.2,1206.9 341.6,1212.6 341.1,1224.3 342.4,1235.6 342.6,1241.5 342.8,1244.5 342.6,1250.1 343.2,1258.7 342.6,1274.3 344.3,1275.8 343.5,1280.6 344.2,1270.3 343.7,1260.1 343.8,1247.6 344.1,1234.8 345.4,1229.6 344.8,1214.5 345.9,1205.8 345.4,1203.2 345.7,1205.1 345.2,1203.7 345.5,1192.6 346.8,1196.8 346.5,1204.1 346.3,1197.6 346.8,1204.2 347.3,1205.3 347.2,1203.2 347.6,1218 348.6,1236.9 347.2,1241.3 349,1259.1 349.2,1276.8 348.9,1293 348.8,1297.5 348.5,1296.6 349.5,1286.4 349.9,1272.5 349,1264.4 350.8,1251.9 350.1,1250.4 350.3,1244.5 350,1228.5 351.3,1229.5 350.7,1213.7 351.8,1197.5 351.2,1186.6 350.8,1179 352,1164.8 352,1163.6 352.1,1176.8 351.7,1181.5 353.2,1198.5 352.9,1195.7 352.7,1200.3 353.4,1203.8 353.8,1214.4 353.5,1226.7 353.2,1246.8 354.7,1250 354.9,1266.1 354.4,1268.3 354.9,1287.4 355.2,1295.7 355.3,1291.2 355.2,1285.7 356.5,1279.6 356.1,1266.3 355.5,1272.6 355.6,1250.7 356.7,1244.7 356.7,1244.9 357.4,1245.1 356.8,1233.2 357.5,1210.8 358.3,1212.7 357.4,1206 358.6,1188.8 359,1184.3 358.6,1180.6 358.3,1172 358.8,1161.7 359.6,1161.2 360.3,1148 359.6,1130.6 359.9,1118.7 359.5,1116.2 361.2,1104 360.5,1103.2 360.5,1117.2 360.8,1136.3 361.7,1147.1 361.4,1165.5 361.5,1166.2 362.5,1183.5 362.5,1208.6 362.7,1221 361.8,1234.5 362.7,1252.1 363.7,1275.3 362.7,1288.6 363.3,1291.9 363.8,1285 363.7,1275.7 364.6,1270.2 363.3,1256.3 365.3,1246.7 364.6,1235.2 364.4,1219.8 365.2,1222.1 364.9,1223.5 365.1,1213.9 364.8,1211.1 365.3,1212.9 366.7,1191.6 366.9,1187.5 366.7,1176 367.3,1166.8 367.1,1163.6 367,1168.4 366.9,1180.4 367.4,1192.4 367.8,1209.5 368.9,1214.3 367.9,1220.8 369,1237.1 369.2,1239.9 368.8,1256.3 370.3,1264.2 370.5,1271 369.9,1280.6 370.6,1279 370.9,1264.2 370,1245.1 371.5,1218 370.8,1201.2 370.6,1190.5 371.4,1178.7 370.8,1175.6 371.4,1170.2 371.6,1177.8 371.9,1175.8 373.1,1177.8 372.2,1172.1 372.6,1175.7 373.3,1164.3 374.3,1163.2 373.7,1163.6 374.1,1167.9 374,1185.8 373.7,1197.2 375,1219 374.6,1243.5 374.1,1261 374.4,1276.9 374.9,1297.9 375.7,1317.8 375.9,1333.4 375.7,1333.3 375.6,1317.9 376.5,1300.7 376.7,1277.1 376.6,1271.8 376.8,1247.4 377.1,1229.2 378,1220.6 377.3,1196.8 377.9,1175.7 378.4,1171.1 378.5,1165.4 378.8,1178.9 379.5,1189.4 379.1,1195.9 379.3,1212.1 379.2,1221.2 379.6,1240.5 379.7,1248.2 381,1254 380.2,1272.2 380.8,1274.9 381.5,1267 381.6,1244.8 382,1237.3 382.1,1227.8 381,1207.3 381.9,1189.3 383.1,1176.5 381.8,1158 382.1,1146.7 383.1,1135.3 383.1,1138 384,1142.4 383.2,1155.1 384.1,1166.7 384.1,1169.5 384.5,1181.4 385,1186.9 384.4,1189.4 385,1190 385.9,1182.2 385.4,1176.7 385,1161.5 385.6,1153.7 386.8,1133.8 386.1,1132.9 385.9,1113.1 386.9,1110.8 386.3,1121.8 387.3,1120.3 388,1127.4 388.3,1126.2 388.8,1133.3 388.6,1133.5 388.2,1138.3 389.2,1147.1 388.8,1144.7 388.4,1150.7 388.8,1156.7 389,1163 389.9,1174.9 389.9,1179.3 389.9,1189.1 391.3,1187.3 390.6,1193.8 390.1,1190.6 391.1,1189.5 391.8,1187.4 390.9,1174.8 392.4,1178.7 392.6,1170.9 392.5,1169.9 392,1165 392.9,1158.5 392.9,1154.2 392.1,1154.1 392.9,1165.8 393.4,1180.3 394.2,1177.8 393.5,1193.8 395,1201.1 394.3,1209.5 393.8,1220.6 394.8,1225.8 394.4,1220.5 395.8,1210.4 394.8,1207.2 394.9,1192.6 395.6,1194.1 396.3,1169.9 396.3,1174.9 395.7,1181.9 397,1177.7 396.8,1178.3 396.7,1183.5 396.9,1189.1 397.8,1195.7 397.8,1197.8 398.8,1206.1 399.1,1203.2 398,1205.4 399.7,1208.1 399.8,1214.7 399.4,1215 400.1,1213.3 400.3,1203.5 400.2,1179.6 400,1176 400.9,1172.6 400.8,1169.6 400.9,1165.7 400.3,1164.5 401.6,1160.3 401.6,1153.1 401,1153 401.9,1160.9 401.2,1154.1 403,1159.1 401.6,1177.5 403.2,1194.7 403.2,1204.8 402.7,1208.7 402.9,1219.3 404.5,1233.1 403.8,1241.4 404.2,1235 404.9,1236.7 404.9,1231.9 404.6,1230.4 404.3,1226.3 406.1,1229 405.1,1224.1 406.1,1229.9 405.7,1218.8 405.6,1210 406.7,1194.9 405.6,1180.6 407,1167.1 406.6,1153.9 407,1158.4 407.9,1162.6 407.2,1169 408.6,1178 408.7,1177.9 407.5,1185.1 407.7,1187.5 408.5,1190.2 408.8,1192.3 409.3,1196 408.4,1196.5 410.1,1193.5 410.5,1193.7 409,1194.3 409.5,1186.8 409.8,1196.2 411,1189.4 410.7,1194.8 410.4,1189.1 411.7,1162.7 410.6,1147.7 411.5,1131.3 411.9,1106.2 412,1105.5 412.9,1122.4 411.6,1121.3 412.6,1135.6 412.8,1144.1 412.8,1150.2 413.2,1148.3 413.2,1141.9 413.4,1155.2 413.4,1164.4 414.6,1167.6 414.5,1178.3 415.3,1190.6 415.7,1195.1 415.1,1194.8 414.3,1190.6 414.6,1177 416,1174.3 416.1,1164 415.6,1149.7 415.6,1137.2 417.4,1136.2 417,1126.1 417,1113.1 416.7,1130.6 417.1,1143.3 417,1152.9 417.7,1170.2 418,1179.1 418.3,1186 417.6,1192.5 419.3,1177.7 418.3,1174.6 419.2,1172.1 418.8,1168.1 420.1,1170.3 419.5,1163.9 419.6,1153.7 421.2,1154.5 421.3,1150.7 420.8,1145.8 421.7,1158 421,1151.8 420.9,1162.8 422.3,1167.4 421.3,1179 422.1,1183.5 422.8,1181.1 422.9,1168.4 422.8,1169.9 422.3,1148.9 423.8,1145.3 423.3,1140.7 424.1,1141.7 424,1145.9 423.1,1157.1 423.6,1165.9 424.6,1168.3 424.6,1174.7 425.5,1166 424.4,1157.4 424.3,1143.8 425.1,1140.5 425.5,1129.8 425.8,1125.6 425.7,1119.9 426.2,1118.6 426.1,1100.5 426.2,1101.2 426.2,1105.9 428,1092.7 427.7,1095.8 428,1087.9 427.3,1080.9 427.9,1073.9 428.3,1070.3 428.7,1069.4 428.3,1076.7 429,1084.4 429.9,1101.8 429.7,1108.5 429.3,1118.6 430,1121.6 430.9,1135.2 430.2,1137 429.8,1146.6 430,1145.9 431.3,1154.3 431.4,1162.4 431.4,1179.8 431.5,1170.9 432,1169.6 431.3,1162.2 431.8,1153.6 432.9,1130.4 433.4,1121.2 432.8,1115.6 433.1,1103.7 433.4,1109 434.2,1101.7 432.8,1099.2 433.4,1094.8 434.7,1080.6 434.8,1085.8 433.8,1077.7 435.1,1069.5 434.6,1067.5 435.3,1071.5 435.2,1077.4 435.4,1079.1 436.2,1095.3 437,1099.4 436.3,1103.9 436.7,1106.4 437.7,1113.1 437.2,1124.4 437.3,1125.6 436.9,1113.1 438.3,1106.8 437.5,1099.6 437.3,1094.6 438.4,1085.4 438.1,1089.9 438.4,1106.9 439.4,1131.1 438.8,1150.6 439.6,1175 439.7,1194.8 439.4,1186.9 439.9,1186.8 439.5,1187.6 439.9,1171.8 440.6,1168.4 441.6,1164.7 440.7,1151.6 440.8,1149.6 441.6,1147 441,1147.9 442.5,1152.6 441.9,1153.2 442.2,1156.6 442,1156.6 442.9,1162.6 442.9,1166 442.7,1170.2 443.4,1167.2 443.9,1169 443.8,1166.7 443.9,1161.6 443.8,1155.1 444.6,1149.5 444.2,1142.4 444.9,1143.8 445.1,1143.8 444.9,1134.6 446,1136.8 446.6,1131.2 445.6,1127.4 446.6,1128.2 447.1,1120.3 446.6,1119.6 448.1,1119.4 447.8,1116.7 446.9,1116.4 448.1,1108.5 447.5,1100.5 448.4,1109.8 447.8,1102.9 449.4,1102.1 449.1,1095.4 449.6,1107 449.3,1112.6 449.1,1108.6 449.2,1124.2 450.1,1133.9 450.4,1142 450.6,1146.4 449.9,1130.6 451,1126.3 450.6,1126.1 451.8,1108.3 451.2,1107.3 452.8,1098.1 452.8,1093.5 452.5,1094 453.2,1086.4 452.9,1080.3 452.1,1082.1 453,1088 452.8,1092 453.4,1099 453.8,1106.9 453.7,1107 454.7,1116.2 455.4,1119.2 454.2,1130.4 455.3,1137.6 455.4,1137 454.8,1141.8 456.4,1152.5 455.3,1155.5 456.8,1164.9 456.4,1175.5 456.7,1181 456.7,1181.3 456.4,1187.3 456.6,1186.8 457.3,1185.7 457.8,1190.2 457.6,1198.8 459.1,1210.9 458.8,1203.3 458.5,1201.1 458.3,1190.7 458.7,1186.9 459.1,1172 460.2,1159 459.7,1165.9 459.5,1155.6 460.5,1136.3 460.4,1128.2 459.9,1127.2 461.1,1124.7 461.8,1127.8 460.4,1126.4 460.8,1125.9 462.4,1115.2 461.3,1116.6 462.9,1119 463.1,1114.4 463,1105.6 463.6,1109.1 463.7,1110.5 462.8,1095 463.6,1103 464.1,1111.1 464.3,1110.9 463.9,1124.8 465.2,1129.8 464.6,1134.5 464.8,1134.4 464.5,1134 464.3,1126.4 465.3,1117.1 465.1,1113.4 465.6,1107 465.8,1092.8 466,1089.8 466.9,1075.9 466.7,1081.6 467.6,1096.1 466.6,1119.6 468,1144.5 468.4,1162.3 467.9,1182.4 467.7,1200.1 468.7,1218.8 468.6,1237.6 469.1,1238.9 469.5,1229 468.4,1212.1 470.3,1205.2 470.1,1197.4 469.7,1180.8 469.8,1171.3 470,1166.2 470.5,1162.1 470.2,1172 470.7,1188.2 471.1,1193.6 470.3,1191.3 471.3,1189.1 471.1,1182.5 472.1,1182 472.2,1164.9 471.7,1161.7 473.5,1151.3 472.2,1151 473.3,1144.5 473.3,1141.6 474.4,1127.2 473.7,1125.2 473.9,1116.4 475,1116.2 474,1103.2 474.9,1098 474.3,1098.1 474.8,1107.3 476.2,1108.5 475.3,1111 476.7,1110.6 476.4,1122.6 476,1128.5 476.6,1126.6 476.8,1128.2 477.3,1132.1 476.6,1129.9 477.4,1137.9 477.1,1141.7 477.9,1139.9 478.4,1139.1 477.8,1146.7 478.7,1148.3 478.5,1150.5 478.5,1146.2 479.6,1128.2 479.8,1134.7 479.1,1123.7 480,1112.8 480,1102 480.1,1095.6 480.6,1091.7 480.6,1097.2 480.1,1100.3 481.1,1103.1 481.1,1098.4 481.8,1106.4 482.3,1111.7 483,1114.4 482.3,1116.2 482.5,1124.2 483.5,1133.4 483.1,1130.7 482.5,1128.8 482.8,1145.4 483.9,1141.7 483.4,1146.4 484.7,1150.8 484.9,1162.6 484.4,1166.2 485.1,1174.2 485.2,1172.3 486.3,1176.4 485.6,1184.8 484.9,1190.6 486.3,1175.7 486.4,1154.8 486.7,1152.1 486.3,1148 486.5,1145.1 488.1,1138.2 487.8,1117.7 487.4,1116.2 488.6,1104.1 488.1,1101.7 488,1100 488.1,1106.5 487.8,1110.2 489.7,1118.5 489.3,1127.6 488.7,1137.7 490.2,1137 490.6,1155.3 490.8,1154.5 491.3,1165.2 490.6,1168.4 490.1,1163.6 490.4,1167 491.7,1180.7 491.6,1184.5 492.5,1180.7 491.9,1193.6 492.3,1195.4 491.9,1184.2 492.7,1189.1 492.4,1185.6 492.9,1177.5 493,1171.3 493,1167 493.1,1164.3 494.4,1157.9 494.1,1159.8 494.7,1152.4 494.7,1143.9 494.8,1147.9 495,1142 494.5,1159.6 494.6,1169 495.6,1176.1 495.4,1185.5 496.9,1198.1 496.3,1204.9 495.9,1215.3 496.9,1220.9 496.2,1223.2 496.8,1236.8 496.5,1251 498.3,1254.3 497.2,1263.4 498.2,1271.6 498.9,1268.9 499.1,1253 498.8,1252 498.7,1239.7 499.1,1229.1 498.6,1220.3 499,1203.9 499.1,1191.6 500.1,1187.3 501,1185.1 499.6,1169.6 501.3,1158 500.2,1155.7 501,1146 501.3,1143.3 502.2,1143.7 501.9,1156 502.5,1166.9 501.8,1169.7 501.6,1172.4 502.7,1181.8 503,1193.3 503.3,1204.3 503.1,1213.3 504.2,1223.5 503.9,1237.8 503.7,1233.6 504.3,1249.9 504.5,1246.4 504.6,1230.5 504.3,1213.5 504.4,1193.1 504.6,1180.5 506,1161.2 505.7,1155.8 505.2,1157.4 506.6,1156.1 506.7,1138.4 507.2,1139.9 507,1141.5 507.4,1139.5 507,1135.2 507.6,1130.7 507.9,1130.6 507,1149.2 508.6,1144.5 507.8,1159.4 508.2,1161.1 508.9,1168.4 509.2,1165.1 509.9,1159.9 508.7,1142.9 510.1,1139.6 509.9,1126.9 510.9,1111.3 509.9,1104.3 510.1,1094.6 510.8,1090.4 510.1,1087.2 510.5,1081.2 511.8,1063.8 512.3,1058.8 511.9,1051.6 512,1051.4 512,1053.8 512,1078.2 512.8,1079.2 513.8,1090.6 513.6,1100.9 513.6,1110.7 513.1,1129.9 513.9,1137 514.4,1138.2 515,1140.8 515,1147.8 515.2,1155.8 514.8,1160.4 515,1167.7 516.1,1174.3 515.8,1172.8 515.8,1177.2 515.8,1170.6 516.3,1167.7 515.9,1165.1 516.1,1157.5 516.2,1156.9 516.8,1146.4 517.4,1146.8 517.7,1137 517.8,1143.7 517.9,1155.4 517.7,1178.2 517.7,1198.2 518.6,1195.6 518.8,1221.5 518.9,1223.8 519.6,1212.1 520.1,1203.2 519,1183.3 519.8,1175.5 520.9,1168.4 520.1,1151.7 521.2,1136.1 520.8,1130.7 520.8,1132.1 521.5,1142.7 522,1150.7 522.4,1157.6 522.6,1163.4 522.7,1161.9 522.6,1174.5 523.5,1183.9 522.7,1186 522.4,1179.8 522.6,1173.3 523.7,1160.6 523.2,1158 523.5,1153.6 525.1,1141.3 524.1,1134.5 524.6,1125.6 524.9,1120.1 525.7,1105 525.7,1098.1 526.1,1085 525.4,1074.9 525.9,1061.5 526.3,1068.1 526.7,1093 525.8,1120.8 527.4,1154.1 526.4,1173.3 527.1,1201.1 527.6,1205.3 527.2,1189.3 527.5,1181.7 527.2,1171.1 528.1,1169 529,1147.8 529.3,1146.6 529.2,1136.2 529.7,1130.2 528.7,1119.7 530.1,1102.9 530.2,1090.7 531,1078.4 530.1,1075.7 530.9,1068.8 530.9,1057.7 531.1,1059.5 532,1060 531.9,1066.3 530.8,1061.3 531.3,1074.9 532.2,1071.5 533,1080.3 531.9,1090.7 532.5,1100.1 533.1,1115.7 533.9,1112.6 533.9,1122.9 533.3,1135.9 533.9,1144.6 534,1150.8 535,1143 533.9,1141.1 534.1,1132.3 534.7,1134.9 536,1123.2 534.8,1107.4 536.1,1109.3 535.4,1102.1 535.8,1093.1 537.1,1096.9 536.6,1089.1 537.1,1091.9 537.4,1100.3 537.1,1118.1 537.7,1139.1 537.8,1143.1 538.2,1161.9 538.9,1168.1 538,1184.2 538.5,1178.5 539.2,1168.3 538.5,1155.9 539.5,1129.3 539.3,1123.6 539.2,1111.4 539.4,1103.2 539.9,1095.7 540.3,1086.6 540.8,1093.3 540.9,1108 540.8,1113.6 541.5,1133.5 541.1,1153 541.6,1165.9 542,1172.3 541.3,1187.4 541.4,1198.9 541.6,1212.4 543,1238.3 542.9,1249 543.6,1227.5 543.1,1210.2 543.8,1202.9 543.6,1194.4 544.4,1187 543.8,1172.8 543.9,1160.8 544.1,1154 544.5,1140.3 544.8,1137.6 545.1,1142 545.4,1145.5 545,1160.5 546.3,1167.3 546.4,1191.7 546,1189.6 545.4,1173.6 546.5,1168.7 547.5,1159.6 546.2,1148.7 547.8,1135.9 546.7,1126.7 547.7,1118.2 547.9,1109.8 547.7,1116.9 547.7,1116 548.9,1118 549.3,1108.7 548.2,1111.7 549.1,1112.2 550,1122.5 548.8,1132.5 549.7,1144.8 549.8,1144.4 549.4,1147.7 550.7,1154.6 549.8,1152.7 551.1,1159.8 551.2,1157.9 550.7,1167 551.5,1168.8 552.6,1169.1 552.7,1166.2 552.1,1175.1 551.8,1168.4 552.8,1163.9 553.5,1143.3 553.5,1135.8 553.1,1117.2 553.6,1109.9 554,1104.1 553.9,1095.2 553.2,1098.9 554.2,1098.4 554.7,1092.4 554.3,1102.5 555.8,1083.2 555,1086.9 555.6,1095.1 555,1093.7 555.7,1089.2 555,1101.3 555.6,1098.2 556.1,1105.2 556.2,1114.2 557.6,1125.5 557.4,1140.5 557.3,1146.3 557.5,1152.1 558,1143.2 557.6,1135.9 558.1,1123.1 558.3,1124.6 558.8,1135 559.6,1148.7 559.5,1148.1 559.3,1159.7 558.7,1164.5 559.6,1172.7 559.3,1162.2 560.4,1116.3 560,1117 560.8,1117.9 559.6,1128.6 559.9,1121.2 560.7,1140.3 562,1138.7 562.1,1138.7 560.9,1141.5 561.8,1144.8 562,1142.8 562.8,1136.6 562.5,1125.1 563.2,1124 563.8,1113 563,1113.4 562.8,1115.5 564.3,1120.3 563.6,1123.5 563.5,1124.9 563.9,1129.1 565.1,1131.1 565.6,1134.8 565.8,1145.9 564.5,1148.9 565.4,1146 565.8,1140.8 566.2,1123.8 565.2,1124.3 566,1117 566.7,1127.5 567.3,1121.8 565.9,1127.1 566.2,1128.6 566.6,1132.7 567.4,1132.4 568,1137.6 567.8,1140 568.4,1134.3 567.4,1125.5 567.8,1118.6 569.3,1103.5 568.8,1105 569.3,1092.1 568.7,1083.8 569.6,1077.1 570.1,1072.8 570.2,1065.9 569.7,1072.2 569.7,1069.2 570.7,1059.8 571.6,1073.2 570.6,1073.4 571.2,1068.6 572,1072.4 571.7,1082.5 571.6,1093.4 572.5,1096.7 572.6,1089.2 572.7,1109.8 572.6,1111.9 572,1096.9 572.8,1100.2 573.5,1106.2 573.7,1094.1 574.2,1088.1 573.7,1090.5 574.1,1086.4 574.7,1075.5 575.6,1086.6 574.4,1076.2 576,1071.4 575.7,1071 575.3,1068.2 575.3,1074.1 576.1,1086.6 575.8,1087.7 577,1093.5 576.9,1103.7 577.6,1103.3 576.3,1097.9 577.5,1094.8 576.9,1083.7 577.8,1084.4 578.1,1079.5 577.7,1083.8 578.3,1083.1 579.5,1095.3 579.3,1099 579.4,1110.8 579.6,1118.6 580.6,1120.1 579.1,1121.2 580.7,1132.7 581.2,1135.8 580.5,1141.2 580.8,1135.3 581.4,1139.5 582,1132.5 581.7,1124.7 582.2,1118.2 581.7,1123.1 582.3,1127.5 581.3,1137.9 582.2,1140.6 582.7,1144.5 582.7,1149.7 582.9,1149.7 583.3,1149.6 583.1,1142.9 583.8,1135.6 583.1,1122.7 583.8,1130.3 584.2,1124.5 585.2,1119.9 585.7,1120.5 585,1114.6 585.5,1116.3 584.8,1126.9 585.4,1132.3 586.4,1132.4 585.6,1144.6 587.1,1153.1 586.6,1153.3 587.6,1162.1 586.8,1162.7 587.4,1161.9 586.9,1166.6 587.2,1156.5 587.3,1164.8 588.2,1164.7 588.4,1166.6 587.8,1168.9 587.9,1164.7 588.3,1151.5 589.3,1143.5 589.2,1134.3 589.6,1125.5 590,1133.9 589.7,1127.4 590.1,1138.5 590.8,1137.8 590.9,1144 591.8,1153.5 591.4,1158.7 591.4,1159.3 590.7,1157.6 591,1150.8 592.6,1134.5 592.1,1122.3 591.8,1111.2 592.6,1098.5 593.2,1089.9 592.6,1076.6 593.2,1073.5 593.7,1071.6 593,1077 594,1081.1 593.7,1090.5 594.8,1095 594.3,1100.7 594.3,1099 595,1104.9 595.7,1110.4 596.1,1113.5 596.1,1118.4 596.2,1128.9 595.9,1133.5 595.6,1142.8 596.3,1148.8 596.9,1150.9 596.8,1148.5 596.4,1144 596.9,1136.4 597.5,1128.3 597.5,1118.6 597.7,1119.5 598.5,1112.9 598.9,1107.2 598.7,1092.8 598.8,1086.6 599.3,1091.6 600,1093.5 599.9,1102.4 599.6,1105.5 600.9,1116.5 601.2,1116.1 600.5,1123.1 600.3,1122.5 601.1,1111 600.5,1113.8 601.8,1109.6 600.8,1112.7 601.1,1104.3 602.4,1103.2 602.3,1100.1 601.6,1110.7 603.5,1114.8 602,1130.9 603.7,1133.5 603.2,1152.5 603.5,1147.3 603.3,1168.3 604.7,1198.3 604.1,1223.5 604.4,1223 604.5,1218.1 604.1,1197.1 604.7,1199.9 605.8,1192.5 605.9,1181 606.3,1165.9 605.9,1165.4 606.8,1158.8 605.7,1155.2 607.1,1134.8 605.8,1138.4 606.4,1132.4 607.1,1120.6 607.6,1115 608.1,1122 607.5,1135.8 608.6,1135.9 607.6,1146.1 609,1146.2 609.3,1150.7 609.3,1156.9 608.9,1160.6 609.1,1146.7 609.1,1132.3 608.8,1115.4 609.1,1107 610.2,1090.4 610,1096 610.3,1098.3 610.6,1094.8 610.2,1103 611.7,1110 611.5,1117.4 610.9,1125.1 611.1,1121.9 611.7,1133.9 612.2,1127.8 612.6,1132.7 613,1132.8 613.3,1122.7 613.8,1116.4 613.9,1115.9 613.9,1103.6 614.5,1099.8 614.1,1100.7 614.5,1089 615.5,1075.8 614.4,1070.5 615,1072.3 615.4,1075.9 616,1084.8 615,1091.3 616.6,1089.8 615.5,1098.6 616.2,1104.4 615.8,1115.8 616.8,1118.2 616.9,1115.1 616.5,1102.7 617.8,1095.6 617,1082.8 617.1,1075.2 618,1072.3 619,1061.1 618.6,1051.7 617.8,1052.3 618.9,1064 619.7,1080.5 619.7,1086.2 619.1,1094.1 619.6,1109.1 620.9,1112.8 621.2,1129.4 620.4,1127.9 620.6,1129.2 621.3,1135.3 621.1,1145.4 620.7,1140.2 621,1137.6 622.6,1137.6 623,1147.6 622.3,1148.4 623,1146.6 622.9,1153.3 623,1148.9 623.2,1142.8 624,1130.2 623.2,1126.2 623.2,1120.7 625,1108 624.3,1107.9 624.7,1094 625.5,1091.1 625.4,1096 624.8,1110.8 624.8,1110.6 626.1,1116.5 626,1122.6 626.7,1135.1 626.7,1137.7 626.5,1141.2 626.1,1140.1 627.3,1134.8 628,1136.5 628.1,1140.6 628.3,1136.7 628,1141.5 628.4,1148.9 628.5,1146.1 628.6,1151.1 628.9,1147.3 628.1,1142.6 629.5,1143 629.2,1132.9 629.5,1131.8 629.3,1118.4 629.8,1117.5 630.1,1115.1 629.9,1106.3 630.7,1106.1 631.4,1106.7 632.1,1105.7 632.1,1098.5 632.2,1105.8 632.4,1107.5 632.1,1115.4 632.3,1113.4 632.5,1114.6 632.3,1104.3 633.2,1103.9 632.4,1093.6 633.9,1077.8 634.1,1082 633.7,1074.7 633.9,1077.7 634.4,1088.7 634.5,1082 635.3,1071.5 634.6,1082.5 636,1078.8 634.8,1076.9 636,1081 636,1083.6 636.2,1081.9 637,1081 636.1,1081.9 637.2,1091 637.6,1092.8 638,1089.3 638.2,1102.2 637.1,1099 638,1111.3 638.6,1113.2 637.8,1110.1 638.6,1108.5 638.2,1114.4 639.1,1102.4 638.9,1102.8 640.3,1089.8 639.6,1088.4 640.3,1087.8 639.8,1085.7 640.9,1081.8 641.5,1078.1 641.6,1073.1 641.7,1062.9 640.9,1060.3 641.6,1060.2 642.3,1054.7 641.3,1055.6 641.4,1047.2 642.6,1050 642.5,1058 642.9,1051.8 643.3,1047.1 643.4,1048.1 643.4,1051.5 643,1054.2 643.4,1057.2 643.5,1060.2 644.4,1061.2 644.4,1068.9 645.2,1073.2 645.4,1076.5 645.9,1087.2 645.5,1086.1 646.7,1092.3 645.3,1101.1 647.1,1103.5 646.4,1098.9 646,1108.5 646.6,1133.6 647.1,1143.6 646.9,1138.3 646.6,1140.6 647.9,1150.3 647.4,1155.5 648.1,1153.2 648.2,1144.5 648.3,1155 648.6,1158.9 649,1161.4 649.5,1173.2 649.5,1169 649.3,1166.1 649.8,1163.5 650.3,1157.6 650,1157.6 650,1149.9 651.5,1141.5 650.6,1142.9 651.4,1136.2 651.1,1129 651.9,1130.3 651.7,1124.4 652.1,1132.3 652.5,1135.8 652.4,1146.6 652.1,1138.8 653.3,1141.7 653.9,1147.6 654,1154.4 653.3,1149.2 654.7,1155.9 654.3,1155.7 654.7,1160 654.3,1155.4 654.3,1139.4 655.2,1129.3 655.7,1129.7 655.5,1127.9 654.9,1127.4 655.1,1132.7 656.8,1132 656.8,1129.4 656.5,1126.8 657.1,1132.7 656.7,1128.9 658.1,1129.1 656.9,1132.5 657.2,1140.5 658.6,1139.5 658.4,1131.4 658.9,1136.1 658.7,1114.1 658.7,1113.7 658.5,1098.5 659.4,1096.5 659.5,1095.8 659.8,1093.9 659.3,1090 660,1081.3 660,1076.7 660.6,1080.3 660.8,1075.2 661.6,1083.2 661,1080.4 661.8,1085.3 661.1,1093.7 661.9,1098.6 662.6,1111.8 662.3,1110.1 662.2,1114.9 661.8,1114.8 663.3,1109.2 663.6,1107.3 662.8,1108.9 664.2,1110 663.8,1112.2 663.9,1109.7 664.2,1109.1 663.6,1095.5 664.3,1087.8 665.3,1077.3 665.2,1067.5 665.1,1063.5 666.3,1053 665,1051.8 666,1046.7 666.1,1034.5 666.6,1039.2 666,1028.6 667.4,1030.9 667.1,1025.9 667.1,1022 666.4,1024.5 667.1,1032 667.7,1037.5 667.4,1044 667.7,1055.1 669,1061.2 668.6,1065.5 669.2,1061.9 668.5,1050 669.3,1048.9 668.6,1047.7 669.5,1038.4 669.4,1043 670.6,1060.4 669.8,1072.7 670.2,1086.6 670.5,1086.8 670.3,1096 670.8,1096.5 670.5,1108.4 671.1,1113.5 671.5,1111 671.1,1114.5 672.5,1123.4 672.9,1130.9 672.4,1130.4 672,1136.6 672.8,1125.1 672.8,1124.7 673.2,1116.7 674.3,1109 674,1117.2 673.9,1101.4 674.6,1109 674.4,1112.3 673.8,1112.4 675.4,1118.7 674.9,1120.7 674.9,1113.6 676,1109.1 675.4,1085.1 676.3,1073.4 675.8,1065.5 676.1,1065 675.4,1052 676.1,1047.5 676.2,1036.2 676.8,1028.7 676.5,1030.2 677.7,1028.1 678.1,1016.2 677.4,1024.3 678,1019.1 677.6,1014.4 678.2,1012.3 679,1016.9 678,1017.2 679.6,1026.7 678.9,1027.9 679.2,1034.6 679.1,1037.8 679.7,1043.3 680,1043 679.9,1050.5 680.1,1050 680,1046.3 680.7,1048.4 681.1,1052 681.4,1060.4 682.2,1069.1 681.8,1087 681.3,1103.2 682.1,1105.2 681.4,1106.7 682.3,1088.5 681.8,1074.1 682.9,1080.9 683.1,1070.4 683.1,1067.2 682.8,1074.8 683.5,1086 684.1,1094.2 684.1,1099.4 683.9,1096.7 685.3,1083.2 684.6,1074 685.1,1073.1 684.6,1058.8 685.6,1066.6 685.5,1052 686.3,1058.3 686.2,1077.7 686,1094.4 687.3,1102.1 686.5,1100.4 686.5,1083.8 686,1075 687.7,1064.1 687.2,1041.5 687.4,1042.3 687,1032.7 688.7,1034 688.5,1020.7 689,1026.9 688,1023.6 688.9,1015.2 689.2,1020.4 689.7,1029 689.8,1050.7 689.5,1064.2 689.9,1067.5 690.6,1073.3 689.4,1071.7 690.4,1080.6 691,1081.9 690.7,1095.7 692,1095.1 691.3,1101.4 691.1,1093.2 691.2,1093.7 691.4,1093.2 692.9,1087.1 692.6,1083.3 692.4,1076.5 693,1077.2 693.6,1073 693.2,1070.4 693.9,1067.2 693.6,1058.6 693.8,1049.8 694.6,1037.6 694.4,1039.2 694.3,1016.1 694.7,1024.9 695.1,1022 696,1025 695.7,1012.4 696.4,1011.8 696.7,1020.3 696.2,1025.8 696.3,1017.8 697.3,1009.8 696.4,1007.3 696.5,1005.4 697,1000.9 697.6,1005.5 698.5,1002.4 697.5,1008.4 697.7,1003.5 698.9,1006.4 699.6,1008.2 698.3,1002.3 698.5,1003.4 699.4,1005 699.5,1004.5 698.9,1001.6 700.6,1006.9 701.1,1010.7 700.4,1011.2 700.9,1007.7 700.1,1018.8 701,1017.1 702,1043.2 701.9,1076.2 701.5,1079.1 701.9,1074.4 701.6,1076.4 703,1072.8 701.9,1068 702.6,1065.7 702.9,1067.5 703.2,1066.6 702.7,1062.2 704.3,1073.5 704,1072.4 703.6,1080.1 703.4,1070.1 705.2,1077.1 703.9,1081.9 704.1,1084.2 705.4,1083.7 705.4,1088.8 704.7,1087.3 705.9,1070.7 706,1063.3 706.2,1049.5 706.3,1046.2 706.4,1045.6 706.3,1050.1 707.8,1057.7 707.3,1066.7 707.4,1078.7 707.9,1083.5 707.8,1086.8 708.3,1085.9 708.3,1093.5 708.7,1092.7 708.2,1095.4 708.1,1094.6 710,1100.9 709,1096.5 709.1,1094.2 710.4,1094.2 711,1095.8 711.3,1093.1 710.7,1092.6 710.4,1095.8 711,1088.5 711,1091.8 711.2,1081.7 711.8,1066.4 712.2,1078.8 713,1071.8 712.2,1068.6 711.9,1067 712.3,1048.1 712.9,1047 713.7,1048.4 713.6,1048.1 713.2,1044 713.6,1056.9 714.9,1061.8 713.6,1063.3 715.3,1073.1 714.1,1066.4 715,1076.2 716,1070.7 715.6,1066.7 715.8,1060.9 715.7,1050.9 715.9,1047.8 717,1036.7 717.3,1027.7 717.7,1022.1 717,1018.1 716.5,1035.5 717.5,1041.6 718.3,1041.6 718.6,1049.4 718.6,1057.1 718.9,1056.7 717.8,1068.2 718.2,1078.4 719.3,1082 719.4,1088.8 719,1089.4 718.9,1081.1 719.8,1081.3 719.7,1080.7 719.8,1071.9 720.9,1069.7 721.1,1060.5 720.9,1053.1 721.3,1055.8 722.2,1054.5 721.1,1047 722.6,1051.1 723.1,1052.9 722.5,1052.1 722.1,1056.1 723.7,1051.8 723.6,1058.8 723.3,1054.9 724.3,1061.7 723.4,1063.6 724.7,1065.2 725.1,1068 724.2,1079.6 724.2,1080.3 724.7,1081 725.7,1086.5 724.5,1072.2 725.5,1067.4 726.2,1051.6 726,1048.6 726.2,1042.3 726,1041.6 726,1043.8 727.4,1064.1 727.7,1071.1 727.1,1081.1 727.8,1093.4 727.6,1097.5 728,1101.5 728.2,1093.3 728.8,1091.1 729.2,1074.9 728.7,1074.2 728.8,1061.5 729.1,1057.6 730,1057 729.6,1050 729,1049.1 730.3,1042.8 729.7,1037 729.9,1033.1 730.1,1029.8 731.7,1021.5 731.9,1011.6 732.1,1010.7 731.5,1007.4 731.7,1011.8 732.4,1020.8 732,1028.4 733.2,1040.7 732,1047 732.7,1053.7 732.9,1058.8 733.4,1070.4 733.4,1067.8 734.3,1080.2 734.6,1082.1 734.2,1094 734.3,1096.1 734.5,1101.6 734.9,1102.3 734.2,1103.4 735.5,1110.9 735.5,1101.9 736.4,1099.2 736.6,1098.8 736.8,1085.7 736.3,1091.7 736.9,1093.8 737.5,1108.2 737.4,1114.3 737.3,1112 736.7,1112.6 738.3,1121.3 738.5,1133.4 738.1,1135.4 738.3,1137.2 738.8,1145 737.8,1144 738.5,1151.1 739.8,1157.5 739.2,1157.5 739.9,1148.4 739.9,1137 740,1126.2 739.4,1117.6 739.8,1108.2 741.5,1101.8 740.7,1098.5 740.3,1088.7 741.3,1077.7 742.1,1067.1 741.7,1062.6 742.3,1060.5 742.4,1065.3 741.4,1064.1 742.9,1068.6 743.5,1062.5 742.4,1061 743.1,1059.7 742.7,1067 744.1,1061.8 743.1,1059.1 743.7,1045.9 743.4,1046.9 743.7,1044.8 745.2,1041.5 745.3,1028.2 745.1,1038.4 744.7,1043.6 745.3,1057.8 745.5,1077.5 745.8,1087.5 746,1094.6 745.8,1093.2 747,1091.4 746.2,1086.7 746.6,1092.5 747.6,1096.4 748.1,1084 747.7,1092.2 747.7,1090.9 748,1082 748.6,1083.2 749.1,1088.6 748.7,1095.7 749.2,1100.4 749.1,1106.6 749.4,1113.9 749.7,1108.8 750.3,1098.3 749.4,1087.8 750.3,1075.5 750.4,1063.6 749.7,1061.1 751.1,1058.7 751.2,1066.2 751.5,1069.1 750.8,1066 752.3,1073.3 751.8,1072.3 752.2,1071.3 752.4,1077.7 752.3,1085.6 753.5,1088.9 752.8,1099 753.1,1099.1 753.3,1102.3 754,1100.8 753.2,1100.9 753.2,1087 753.8,1092.3 755.2,1090.9 754.4,1082 754.7,1082 755.3,1091.9 755.2,1089.8 755.2,1097.2 755.6,1101.7 756.3,1119.8 755.5,1116.4 756.2,1120.7 756.8,1130.2 756.7,1129.7 757.8,1148.3 756.8,1147.5 757.1,1158.2 757.6,1170.1" fill="none" stroke="#74479d" stroke-width="2.3" stroke-linejoin="round"/>
<polyline points="139.4,1727.4 143.3,1838.5 147.1,1776.5 155.3,1820.9 159.2,1783.5 167.4,1826.8 170.9,1797.6 174.4,1838.5 178.4,1746.8 184.2,1856 189.4,1774.2 193.1,1676 196.6,1900 201.3,1694.7 204.8,1851.3 215.3,1792.9 219.3,1836.1 223.5,1812.8 227.5,1849 235.2,1754.3 239.2,1751.5 244.1,1832.6 248.1,1744.5 252.3,1784 267.9,1824 272.6,1770.7 281.3,1708.7 293,1772.6 297.9,1744.5 310,1881.7 313.1,1904 317.7,1786.6 322.2,1817.4 325.9,1776.5 334.6,1827.3 338.8,1839.7 342.8,1772.6 347.4,1793.6 355.6,1942.1 359.8,1878.2 363.3,1769.5 368,1726.7 372,1871.7 380.2,1817.9 384.2,1871.7 388.4,1766 393,1867.7 396.5,1788.2 405.2,1871.7 412.9,1701.7 424.6,1746.8 428.8,1834.3 433.2,1870.8 436.8,1745 441,1740.3 448.7,1810 453.4,1706.4 457.3,1741.5 461.3,1832.2 465,1768.3 469.7,1639.3 473.6,1683 478.2,1807.6 481.7,1791.7 485.3,1770.7 489.2,1702.9 494.4,1640.2 498.1,1734.9 502.8,1707.6 506.1,1641.2 510.3,1641.6 514.9,1684.6 518.5,1728.1 522,1667.3 526.6,1612.2 530.1,1727.4 538.3,1658 541.8,1758.5 547,1752.4 550.5,1673.9 554.7,1733.3 562.9,1674.8 567.1,1740.3 571.5,1713.4 575.7,1785.9 579.7,1774.2 584.4,1711.1 587.9,1663.1 592.8,1751.5 597.2,1778.2 601,1739.8 604.5,1830.8 608,1746.8 615.5,1749.6 620.2,1723.9 624.8,1784.2 627.9,1700.5 632.1,1700.1 637,1729.8 640,1700.5 644.7,1670.6 652.9,1802.2 661.1,1718.8 666.5,1774.9 672.1,1766.7 680.9,1729.8 684,1666.2 688,1722.3 692.2,1679.5 696.8,1702.9 705,1654.5 709,1773 712.5,1879.4 716,1753.1 719.5,1860.7 724.2,1760.2 727.7,1857.9 736.4,1718.1 740.1,1816.3 743.6,1687.7 748.1,1774.2 751.6,1784.7 759.7,1749.2 764.4,1790.6 769.3,1715.7 772.8,1767.9 776.8,1775.8 781.5,1708.7 788.5,1739.1 792.5,1808.8 807.5,1738.6 811.7,1722.2 815.7,1778.4 819.2,1729.3 823.9,1753.8 827.4,1701.9 831.6,1711.3 835.6,1774.9 843.3,1704.7 848.5,1748 851.5,1682 856.2,1748 859.7,1670.3 867.2,1647.4 871.1,1742.8 875.3,1701.9 878.8,1669.6 887.5,1660.3 896.4,1686 899.9,1850.8 904.1,1696.5 908.1,1693 911.6,1728.8 915.1,1679.7 923.7,1751.5 931.9,1694.2 936.1,1764.8 944.8,1757.3 948.3,1725.3 953,1546.9 956.7,1661.5 960.2,1620.1 968.4,1595.5 979.4,1674.3 984.1,1819.3 987.8,1683.7 990.6,1731.1 995.8,1690.2 1003.2,1791.9 1014.5,1690.2 1019.1,1691.4 1030.8,1779.1 1034.8,1747.3 1038.3,1691.8 1041.8,1766.7 1046,1765.5 1050.2,1708.9 1057,1699.3 1061.9,1763.9 1065.4,1727.4 1068.9,1774.4 1072.9,1708.2 1076.9,1798.2 1081.1,1799.9 1085.1,1708.9 1088.1,1646.3 1091.8,1769.5 1099.8,1681.3 1103.8,1751 1107.3,1662.2 1111,1633.4 1115.7,1649.1 1122,1719.6 1128.1,1658.4 1132.1,1715.6 1135.7,1711.5 1139.7,1632.4 1143.1,1720.6 1146.7,1760.2 1150.1,1669.5 1154.1,1707.5 1158.5,1692.5 1166.1,1665.5 1171.1,1677.5 1179.2,1655.4 1185.2,1617.4 1197.2,1621.4 1200.8,1573.9 1204.6,1646.4 1208.2,1604.7 1216.8,1603.9 1220.6,1621.4 1231.7,1581.7 1235.7,1612.7 1240.3,1583.3 1244.7,1619 1251.9,1609.3 1255.7,1567.9 1263.9,1572.7 1267.9,1601.9 1271.7,1608.3 1274.9,1566.3 1279,1587.3 1288.4,1524.2 1298.4,1513.7 1302,1524.2 1305.8,1516.6 1310.4,1612.3 1314,1525.2 1318,1600.9 1322.8,1516.6 1326.1,1573.9 1329.9,1519.8 1333.9,1572.7 1337.1,1476.1 1340.5,1566.9 1344.9,1561.6 1349.9,1569.3 1353.9,1475.5" fill="none" stroke="#d66a4f" stroke-width="1.5" stroke-linejoin="round"/>
<g fill="#c32026"><circle cx="139.4" cy="1727.4" r="2.9"/><circle cx="143.3" cy="1838.5" r="2.9"/><circle cx="147.1" cy="1776.5" r="2.9"/><circle cx="155.3" cy="1820.9" r="2.9"/><circle cx="159.2" cy="1783.5" r="2.9"/><circle cx="167.4" cy="1826.8" r="2.9"/><circle cx="170.9" cy="1797.6" r="2.9"/><circle cx="174.4" cy="1838.5" r="2.9"/><circle cx="178.4" cy="1746.8" r="2.9"/><circle cx="184.2" cy="1856" r="2.9"/><circle cx="189.4" cy="1774.2" r="2.9"/><circle cx="193.1" cy="1676" r="2.9"/><circle cx="196.6" cy="1900" r="2.9"/><circle cx="201.3" cy="1694.7" r="2.9"/><circle cx="204.8" cy="1851.3" r="2.9"/><circle cx="215.3" cy="1792.9" r="2.9"/><circle cx="219.3" cy="1836.1" r="2.9"/><circle cx="223.5" cy="1812.8" r="2.9"/><circle cx="227.5" cy="1849" r="2.9"/><circle cx="235.2" cy="1754.3" r="2.9"/><circle cx="239.2" cy="1751.5" r="2.9"/><circle cx="244.1" cy="1832.6" r="2.9"/><circle cx="248.1" cy="1744.5" r="2.9"/><circle cx="252.3" cy="1784" r="2.9"/><circle cx="267.9" cy="1824" r="2.9"/><circle cx="272.6" cy="1770.7" r="2.9"/><circle cx="281.3" cy="1708.7" r="2.9"/><circle cx="293" cy="1772.6" r="2.9"/><circle cx="297.9" cy="1744.5" r="2.9"/><circle cx="310" cy="1881.7" r="2.9"/><circle cx="313.1" cy="1904" r="2.9"/><circle cx="317.7" cy="1786.6" r="2.9"/><circle cx="322.2" cy="1817.4" r="2.9"/><circle cx="325.9" cy="1776.5" r="2.9"/><circle cx="334.6" cy="1827.3" r="2.9"/><circle cx="338.8" cy="1839.7" r="2.9"/><circle cx="342.8" cy="1772.6" r="2.9"/><circle cx="347.4" cy="1793.6" r="2.9"/><circle cx="355.6" cy="1942.1" r="2.9"/><circle cx="359.8" cy="1878.2" r="2.9"/><circle cx="363.3" cy="1769.5" r="2.9"/><circle cx="368" cy="1726.7" r="2.9"/><circle cx="372" cy="1871.7" r="2.9"/><circle cx="380.2" cy="1817.9" r="2.9"/><circle cx="384.2" cy="1871.7" r="2.9"/><circle cx="388.4" cy="1766" r="2.9"/><circle cx="393" cy="1867.7" r="2.9"/><circle cx="396.5" cy="1788.2" r="2.9"/><circle cx="405.2" cy="1871.7" r="2.9"/><circle cx="412.9" cy="1701.7" r="2.9"/><circle cx="424.6" cy="1746.8" r="2.9"/><circle cx="428.8" cy="1834.3" r="2.9"/><circle cx="433.2" cy="1870.8" r="2.9"/><circle cx="436.8" cy="1745" r="2.9"/><circle cx="441" cy="1740.3" r="2.9"/><circle cx="448.7" cy="1810" r="2.9"/><circle cx="453.4" cy="1706.4" r="2.9"/><circle cx="457.3" cy="1741.5" r="2.9"/><circle cx="461.3" cy="1832.2" r="2.9"/><circle cx="465" cy="1768.3" r="2.9"/><circle cx="469.7" cy="1639.3" r="2.9"/><circle cx="473.6" cy="1683" r="2.9"/><circle cx="478.2" cy="1807.6" r="2.9"/><circle cx="481.7" cy="1791.7" r="2.9"/><circle cx="485.3" cy="1770.7" r="2.9"/><circle cx="489.2" cy="1702.9" r="2.9"/><circle cx="494.4" cy="1640.2" r="2.9"/><circle cx="498.1" cy="1734.9" r="2.9"/><circle cx="502.8" cy="1707.6" r="2.9"/><circle cx="506.1" cy="1641.2" r="2.9"/><circle cx="510.3" cy="1641.6" r="2.9"/><circle cx="514.9" cy="1684.6" r="2.9"/><circle cx="518.5" cy="1728.1" r="2.9"/><circle cx="522" cy="1667.3" r="2.9"/><circle cx="526.6" cy="1612.2" r="2.9"/><circle cx="530.1" cy="1727.4" r="2.9"/><circle cx="538.3" cy="1658" r="2.9"/><circle cx="541.8" cy="1758.5" r="2.9"/><circle cx="547" cy="1752.4" r="2.9"/><circle cx="550.5" cy="1673.9" r="2.9"/><circle cx="554.7" cy="1733.3" r="2.9"/><circle cx="562.9" cy="1674.8" r="2.9"/><circle cx="567.1" cy="1740.3" r="2.9"/><circle cx="571.5" cy="1713.4" r="2.9"/><circle cx="575.7" cy="1785.9" r="2.9"/><circle cx="579.7" cy="1774.2" r="2.9"/><circle cx="584.4" cy="1711.1" r="2.9"/><circle cx="587.9" cy="1663.1" r="2.9"/><circle cx="592.8" cy="1751.5" r="2.9"/><circle cx="597.2" cy="1778.2" r="2.9"/><circle cx="601" cy="1739.8" r="2.9"/><circle cx="604.5" cy="1830.8" r="2.9"/><circle cx="608" cy="1746.8" r="2.9"/><circle cx="615.5" cy="1749.6" r="2.9"/><circle cx="620.2" cy="1723.9" r="2.9"/><circle cx="624.8" cy="1784.2" r="2.9"/><circle cx="627.9" cy="1700.5" r="2.9"/><circle cx="632.1" cy="1700.1" r="2.9"/><circle cx="637" cy="1729.8" r="2.9"/><circle cx="640" cy="1700.5" r="2.9"/><circle cx="644.7" cy="1670.6" r="2.9"/><circle cx="652.9" cy="1802.2" r="2.9"/><circle cx="661.1" cy="1718.8" r="2.9"/><circle cx="666.5" cy="1774.9" r="2.9"/><circle cx="672.1" cy="1766.7" r="2.9"/><circle cx="680.9" cy="1729.8" r="2.9"/><circle cx="684" cy="1666.2" r="2.9"/><circle cx="688" cy="1722.3" r="2.9"/><circle cx="692.2" cy="1679.5" r="2.9"/><circle cx="696.8" cy="1702.9" r="2.9"/><circle cx="705" cy="1654.5" r="2.9"/><circle cx="709" cy="1773" r="2.9"/><circle cx="712.5" cy="1879.4" r="2.9"/><circle cx="716" cy="1753.1" r="2.9"/><circle cx="719.5" cy="1860.7" r="2.9"/><circle cx="724.2" cy="1760.2" r="2.9"/><circle cx="727.7" cy="1857.9" r="2.9"/><circle cx="736.4" cy="1718.1" r="2.9"/><circle cx="740.1" cy="1816.3" r="2.9"/><circle cx="743.6" cy="1687.7" r="2.9"/><circle cx="748.1" cy="1774.2" r="2.9"/><circle cx="751.6" cy="1784.7" r="2.9"/><circle cx="759.7" cy="1749.2" r="2.9"/><circle cx="764.4" cy="1790.6" r="2.9"/><circle cx="769.3" cy="1715.7" r="2.9"/><circle cx="772.8" cy="1767.9" r="2.9"/><circle cx="776.8" cy="1775.8" r="2.9"/><circle cx="781.5" cy="1708.7" r="2.9"/><circle cx="788.5" cy="1739.1" r="2.9"/><circle cx="792.5" cy="1808.8" r="2.9"/><circle cx="807.5" cy="1738.6" r="2.9"/><circle cx="811.7" cy="1722.2" r="2.9"/><circle cx="815.7" cy="1778.4" r="2.9"/><circle cx="819.2" cy="1729.3" r="2.9"/><circle cx="823.9" cy="1753.8" r="2.9"/><circle cx="827.4" cy="1701.9" r="2.9"/><circle cx="831.6" cy="1711.3" r="2.9"/><circle cx="835.6" cy="1774.9" r="2.9"/><circle cx="843.3" cy="1704.7" r="2.9"/><circle cx="848.5" cy="1748" r="2.9"/><circle cx="851.5" cy="1682" r="2.9"/><circle cx="856.2" cy="1748" r="2.9"/><circle cx="859.7" cy="1670.3" r="2.9"/><circle cx="867.2" cy="1647.4" r="2.9"/><circle cx="871.1" cy="1742.8" r="2.9"/><circle cx="875.3" cy="1701.9" r="2.9"/><circle cx="878.8" cy="1669.6" r="2.9"/><circle cx="887.5" cy="1660.3" r="2.9"/><circle cx="896.4" cy="1686" r="2.9"/><circle cx="899.9" cy="1850.8" r="2.9"/><circle cx="904.1" cy="1696.5" r="2.9"/><circle cx="908.1" cy="1693" r="2.9"/><circle cx="911.6" cy="1728.8" r="2.9"/><circle cx="915.1" cy="1679.7" r="2.9"/><circle cx="923.7" cy="1751.5" r="2.9"/><circle cx="931.9" cy="1694.2" r="2.9"/><circle cx="936.1" cy="1764.8" r="2.9"/><circle cx="944.8" cy="1757.3" r="2.9"/><circle cx="948.3" cy="1725.3" r="2.9"/><circle cx="953" cy="1546.9" r="2.9"/><circle cx="956.7" cy="1661.5" r="2.9"/><circle cx="960.2" cy="1620.1" r="2.9"/><circle cx="968.4" cy="1595.5" r="2.9"/><circle cx="979.4" cy="1674.3" r="2.9"/><circle cx="984.1" cy="1819.3" r="2.9"/><circle cx="987.8" cy="1683.7" r="2.9"/><circle cx="990.6" cy="1731.1" r="2.9"/><circle cx="995.8" cy="1690.2" r="2.9"/><circle cx="1003.2" cy="1791.9" r="2.9"/><circle cx="1014.5" cy="1690.2" r="2.9"/><circle cx="1019.1" cy="1691.4" r="2.9"/><circle cx="1030.8" cy="1779.1" r="2.9"/><circle cx="1034.8" cy="1747.3" r="2.9"/><circle cx="1038.3" cy="1691.8" r="2.9"/><circle cx="1041.8" cy="1766.7" r="2.9"/><circle cx="1046" cy="1765.5" r="2.9"/><circle cx="1050.2" cy="1708.9" r="2.9"/><circle cx="1057" cy="1699.3" r="2.9"/><circle cx="1061.9" cy="1763.9" r="2.9"/><circle cx="1065.4" cy="1727.4" r="2.9"/><circle cx="1068.9" cy="1774.4" r="2.9"/><circle cx="1072.9" cy="1708.2" r="2.9"/><circle cx="1076.9" cy="1798.2" r="2.9"/><circle cx="1081.1" cy="1799.9" r="2.9"/><circle cx="1085.1" cy="1708.9" r="2.9"/><circle cx="1088.1" cy="1646.3" r="2.9"/><circle cx="1091.8" cy="1769.5" r="2.9"/><circle cx="1099.8" cy="1681.3" r="2.9"/><circle cx="1103.8" cy="1751" r="2.9"/><circle cx="1107.3" cy="1662.2" r="2.9"/><circle cx="1111" cy="1633.4" r="2.9"/><circle cx="1115.7" cy="1649.1" r="2.9"/><circle cx="1122" cy="1719.6" r="2.9"/><circle cx="1128.1" cy="1658.4" r="2.9"/><circle cx="1132.1" cy="1715.6" r="2.9"/><circle cx="1135.7" cy="1711.5" r="2.9"/><circle cx="1139.7" cy="1632.4" r="2.9"/><circle cx="1143.1" cy="1720.6" r="2.9"/><circle cx="1146.7" cy="1760.2" r="2.9"/><circle cx="1150.1" cy="1669.5" r="2.9"/><circle cx="1154.1" cy="1707.5" r="2.9"/><circle cx="1158.5" cy="1692.5" r="2.9"/><circle cx="1166.1" cy="1665.5" r="2.9"/><circle cx="1171.1" cy="1677.5" r="2.9"/><circle cx="1179.2" cy="1655.4" r="2.9"/><circle cx="1185.2" cy="1617.4" r="2.9"/><circle cx="1197.2" cy="1621.4" r="2.9"/><circle cx="1200.8" cy="1573.9" r="2.9"/><circle cx="1204.6" cy="1646.4" r="2.9"/><circle cx="1208.2" cy="1604.7" r="2.9"/><circle cx="1216.8" cy="1603.9" r="2.9"/><circle cx="1220.6" cy="1621.4" r="2.9"/><circle cx="1231.7" cy="1581.7" r="2.9"/><circle cx="1235.7" cy="1612.7" r="2.9"/><circle cx="1240.3" cy="1583.3" r="2.9"/><circle cx="1244.7" cy="1619" r="2.9"/><circle cx="1251.9" cy="1609.3" r="2.9"/><circle cx="1255.7" cy="1567.9" r="2.9"/><circle cx="1263.9" cy="1572.7" r="2.9"/><circle cx="1267.9" cy="1601.9" r="2.9"/><circle cx="1271.7" cy="1608.3" r="2.9"/><circle cx="1274.9" cy="1566.3" r="2.9"/><circle cx="1279" cy="1587.3" r="2.9"/><circle cx="1288.4" cy="1524.2" r="2.9"/><circle cx="1298.4" cy="1513.7" r="2.9"/><circle cx="1302" cy="1524.2" r="2.9"/><circle cx="1305.8" cy="1516.6" r="2.9"/><circle cx="1310.4" cy="1612.3" r="2.9"/><circle cx="1314" cy="1525.2" r="2.9"/><circle cx="1318" cy="1600.9" r="2.9"/><circle cx="1322.8" cy="1516.6" r="2.9"/><circle cx="1326.1" cy="1573.9" r="2.9"/><circle cx="1329.9" cy="1519.8" r="2.9"/><circle cx="1333.9" cy="1572.7" r="2.9"/><circle cx="1337.1" cy="1476.1" r="2.9"/><circle cx="1340.5" cy="1566.9" r="2.9"/><circle cx="1344.9" cy="1561.6" r="2.9"/><circle cx="1349.9" cy="1569.3" r="2.9"/><circle cx="1353.9" cy="1475.5" r="2.9"/></g>
<polyline points="141.7,1782.4 152.2,1813.9 160.4,1803.4 166.2,1809.3 172.1,1801.1 181.4,1796.4 190.8,1799.9 197.8,1780 206,1773 215.3,1815.1 221.2,1823.3 234,1789.4 245.7,1775.4 256.3,1767.2 267.9,1792.9 284.3,1742.6 293.7,1749.6 299.5,1775.4 307.7,1843.2 314.7,1845.5 321.7,1794.1 333.4,1802.2 340.4,1812.8 347.4,1805.8 354.5,1871.2 363.8,1824.5 369.7,1803.4 377.8,1847.8 394.2,1810.4 401.2,1824.5 416.4,1759 432.8,1797.6 448,1752 455,1771.8 470.5,1726.3 478.7,1761.3 492.7,1693.5 502.1,1693.5 510.3,1670.1 520.8,1681.8 532.5,1672.5 547.7,1727.4 557,1698.2 567.6,1740.3 579.2,1756.7 587.4,1726.3 595.6,1737.9 603.8,1773 612,1771.8 624.8,1737.9 637.7,1707.6 647,1721.6 656.4,1756.7 672.8,1750.8 682.1,1705.2 691.5,1692.4 702,1700.5 711.3,1745 719.5,1812.8 728.9,1819.8 739.4,1777.7 742.9,1749.6 752.3,1752 759.3,1768.3 771,1741.5 780.3,1742.6 796.7,1782.4 806.4,1749.1 815.7,1738.6 829.7,1733.9 837.9,1738.6 850.8,1721.1 862.5,1693 873,1689.5 889.4,1674.3 899.9,1725.8 906.9,1742.1 915.1,1704.7 924.4,1721.1 931.5,1736.3 938.5,1736.3 952.5,1636.9 960.7,1627.6 967.7,1653.3 977,1722.2 985.2,1725.8 992.2,1703.5 1000.4,1739.8 1007.4,1738.6 1015.6,1707 1023.8,1719.9 1040.2,1742.1 1047.2,1737.4 1054.2,1721.1 1063.6,1744.5 1075.2,1753.8 1081.1,1752.6 1094,1697.7 1102.1,1694.2 1115,1667.3 1124,1698.5 1132.1,1680.5 1140.1,1706.5 1148.1,1713.5 1154.1,1690.5 1166.1,1673.5 1180.2,1650.4 1188.2,1624.4 1194.2,1603.3 1200.2,1608.3 1210.2,1617.4 1220.2,1608.3 1231.3,1594.3 1241.3,1603.3 1256.3,1586.3 1270.3,1591.3 1276.4,1566.3 1284.4,1544.2 1289.4,1526.2 1297.4,1530.2 1310.4,1562.2 1320.4,1554.2 1334.5,1534.2 1342.5,1541.2 1351.5,1535.2" fill="none" stroke="#c32026" stroke-width="8" stroke-linejoin="round" stroke-linecap="round"/>
<g stroke="#111" stroke-width="2.0" fill="none">
<line x1="136.4" y1="60.8" x2="1382.9" y2="60.8"/>
<line x1="137.4" y1="60.8" x2="137.4" y2="28.7"/>
<line x1="153.0" y1="60.8" x2="153.0" y2="43.4"/>
<line x1="168.5" y1="60.8" x2="168.5" y2="43.4"/>
<line x1="184.1" y1="60.8" x2="184.1" y2="43.4"/>
<line x1="199.6" y1="60.8" x2="199.6" y2="43.4"/>
<line x1="215.2" y1="60.8" x2="215.2" y2="28.7"/>
<line x1="230.7" y1="60.8" x2="230.7" y2="43.4"/>
<line x1="246.3" y1="60.8" x2="246.3" y2="43.4"/>
<line x1="261.9" y1="60.8" x2="261.9" y2="43.4"/>
<line x1="277.4" y1="60.8" x2="277.4" y2="43.4"/>
<line x1="293.0" y1="60.8" x2="293.0" y2="28.7"/>
<line x1="308.5" y1="60.8" x2="308.5" y2="43.4"/>
<line x1="324.1" y1="60.8" x2="324.1" y2="43.4"/>
<line x1="339.6" y1="60.8" x2="339.6" y2="43.4"/>
<line x1="355.2" y1="60.8" x2="355.2" y2="43.4"/>
<line x1="370.7" y1="60.8" x2="370.7" y2="28.7"/>
<line x1="386.3" y1="60.8" x2="386.3" y2="43.4"/>
<line x1="401.9" y1="60.8" x2="401.9" y2="43.4"/>
<line x1="417.4" y1="60.8" x2="417.4" y2="43.4"/>
<line x1="433.0" y1="60.8" x2="433.0" y2="43.4"/>
<line x1="448.5" y1="60.8" x2="448.5" y2="28.7"/>
<line x1="464.1" y1="60.8" x2="464.1" y2="43.4"/>
<line x1="479.6" y1="60.8" x2="479.6" y2="43.4"/>
<line x1="495.2" y1="60.8" x2="495.2" y2="43.4"/>
<line x1="510.8" y1="60.8" x2="510.8" y2="43.4"/>
<line x1="526.3" y1="60.8" x2="526.3" y2="28.7"/>
<line x1="541.9" y1="60.8" x2="541.9" y2="43.4"/>
<line x1="557.4" y1="60.8" x2="557.4" y2="43.4"/>
<line x1="573.0" y1="60.8" x2="573.0" y2="43.4"/>
<line x1="588.5" y1="60.8" x2="588.5" y2="43.4"/>
<line x1="604.1" y1="60.8" x2="604.1" y2="28.7"/>
<line x1="619.6" y1="60.8" x2="619.6" y2="43.4"/>
<line x1="635.2" y1="60.8" x2="635.2" y2="43.4"/>
<line x1="650.8" y1="60.8" x2="650.8" y2="43.4"/>
<line x1="666.3" y1="60.8" x2="666.3" y2="43.4"/>
<line x1="681.9" y1="60.8" x2="681.9" y2="28.7"/>
<line x1="697.4" y1="60.8" x2="697.4" y2="43.4"/>
<line x1="713.0" y1="60.8" x2="713.0" y2="43.4"/>
<line x1="728.5" y1="60.8" x2="728.5" y2="43.4"/>
<line x1="744.1" y1="60.8" x2="744.1" y2="43.4"/>
<line x1="759.6" y1="60.8" x2="759.6" y2="28.7"/>
<line x1="775.2" y1="60.8" x2="775.2" y2="43.4"/>
<line x1="790.8" y1="60.8" x2="790.8" y2="43.4"/>
<line x1="806.3" y1="60.8" x2="806.3" y2="43.4"/>
<line x1="821.9" y1="60.8" x2="821.9" y2="43.4"/>
<line x1="837.4" y1="60.8" x2="837.4" y2="28.7"/>
<line x1="853.0" y1="60.8" x2="853.0" y2="43.4"/>
<line x1="868.5" y1="60.8" x2="868.5" y2="43.4"/>
<line x1="884.1" y1="60.8" x2="884.1" y2="43.4"/>
<line x1="899.7" y1="60.8" x2="899.7" y2="43.4"/>
<line x1="915.2" y1="60.8" x2="915.2" y2="28.7"/>
<line x1="930.8" y1="60.8" x2="930.8" y2="43.4"/>
<line x1="946.3" y1="60.8" x2="946.3" y2="43.4"/>
<line x1="961.9" y1="60.8" x2="961.9" y2="43.4"/>
<line x1="977.4" y1="60.8" x2="977.4" y2="43.4"/>
<line x1="993.0" y1="60.8" x2="993.0" y2="28.7"/>
<line x1="1008.5" y1="60.8" x2="1008.5" y2="43.4"/>
<line x1="1024.1" y1="60.8" x2="1024.1" y2="43.4"/>
<line x1="1039.7" y1="60.8" x2="1039.7" y2="43.4"/>
<line x1="1055.2" y1="60.8" x2="1055.2" y2="43.4"/>
<line x1="1070.8" y1="60.8" x2="1070.8" y2="28.7"/>
<line x1="1086.3" y1="60.8" x2="1086.3" y2="43.4"/>
<line x1="1101.9" y1="60.8" x2="1101.9" y2="43.4"/>
<line x1="1117.4" y1="60.8" x2="1117.4" y2="43.4"/>
<line x1="1133.0" y1="60.8" x2="1133.0" y2="43.4"/>
<line x1="1148.6" y1="60.8" x2="1148.6" y2="28.7"/>
<line x1="1164.1" y1="60.8" x2="1164.1" y2="43.4"/>
<line x1="1179.7" y1="60.8" x2="1179.7" y2="43.4"/>
<line x1="1195.2" y1="60.8" x2="1195.2" y2="43.4"/>
<line x1="1210.8" y1="60.8" x2="1210.8" y2="43.4"/>
<line x1="1226.3" y1="60.8" x2="1226.3" y2="28.7"/>
<line x1="1241.9" y1="60.8" x2="1241.9" y2="43.4"/>
<line x1="1257.5" y1="60.8" x2="1257.5" y2="43.4"/>
<line x1="1273.0" y1="60.8" x2="1273.0" y2="43.4"/>
<line x1="1288.6" y1="60.8" x2="1288.6" y2="43.4"/>
<line x1="1304.1" y1="60.8" x2="1304.1" y2="28.7"/>
<line x1="1319.7" y1="60.8" x2="1319.7" y2="43.4"/>
<line x1="1335.2" y1="60.8" x2="1335.2" y2="43.4"/>
<line x1="1350.8" y1="60.8" x2="1350.8" y2="43.4"/>
<line x1="1366.3" y1="60.8" x2="1366.3" y2="43.4"/>
<line x1="1381.9" y1="60.8" x2="1381.9" y2="28.7"/>
<line x1="136.4" y1="1970.6" x2="1382.9" y2="1970.6"/>
<line x1="137.4" y1="1970.6" x2="137.4" y2="1994.3"/>
<line x1="153.0" y1="1970.6" x2="153.0" y2="1983.5"/>
<line x1="168.5" y1="1970.6" x2="168.5" y2="1983.5"/>
<line x1="184.1" y1="1970.6" x2="184.1" y2="1983.5"/>
<line x1="199.6" y1="1970.6" x2="199.6" y2="1983.5"/>
<line x1="215.2" y1="1970.6" x2="215.2" y2="1994.3"/>
<line x1="230.7" y1="1970.6" x2="230.7" y2="1983.5"/>
<line x1="246.3" y1="1970.6" x2="246.3" y2="1983.5"/>
<line x1="261.9" y1="1970.6" x2="261.9" y2="1983.5"/>
<line x1="277.4" y1="1970.6" x2="277.4" y2="1983.5"/>
<line x1="293.0" y1="1970.6" x2="293.0" y2="1994.3"/>
<line x1="308.5" y1="1970.6" x2="308.5" y2="1983.5"/>
<line x1="324.1" y1="1970.6" x2="324.1" y2="1983.5"/>
<line x1="339.6" y1="1970.6" x2="339.6" y2="1983.5"/>
<line x1="355.2" y1="1970.6" x2="355.2" y2="1983.5"/>
<line x1="370.7" y1="1970.6" x2="370.7" y2="1994.3"/>
<line x1="386.3" y1="1970.6" x2="386.3" y2="1983.5"/>
<line x1="401.9" y1="1970.6" x2="401.9" y2="1983.5"/>
<line x1="417.4" y1="1970.6" x2="417.4" y2="1983.5"/>
<line x1="433.0" y1="1970.6" x2="433.0" y2="1983.5"/>
<line x1="448.5" y1="1970.6" x2="448.5" y2="1994.3"/>
<line x1="464.1" y1="1970.6" x2="464.1" y2="1983.5"/>
<line x1="479.6" y1="1970.6" x2="479.6" y2="1983.5"/>
<line x1="495.2" y1="1970.6" x2="495.2" y2="1983.5"/>
<line x1="510.8" y1="1970.6" x2="510.8" y2="1983.5"/>
<line x1="526.3" y1="1970.6" x2="526.3" y2="1994.3"/>
<line x1="541.9" y1="1970.6" x2="541.9" y2="1983.5"/>
<line x1="557.4" y1="1970.6" x2="557.4" y2="1983.5"/>
<line x1="573.0" y1="1970.6" x2="573.0" y2="1983.5"/>
<line x1="588.5" y1="1970.6" x2="588.5" y2="1983.5"/>
<line x1="604.1" y1="1970.6" x2="604.1" y2="1994.3"/>
<line x1="619.6" y1="1970.6" x2="619.6" y2="1983.5"/>
<line x1="635.2" y1="1970.6" x2="635.2" y2="1983.5"/>
<line x1="650.8" y1="1970.6" x2="650.8" y2="1983.5"/>
<line x1="666.3" y1="1970.6" x2="666.3" y2="1983.5"/>
<line x1="681.9" y1="1970.6" x2="681.9" y2="1994.3"/>
<line x1="697.4" y1="1970.6" x2="697.4" y2="1983.5"/>
<line x1="713.0" y1="1970.6" x2="713.0" y2="1983.5"/>
<line x1="728.5" y1="1970.6" x2="728.5" y2="1983.5"/>
<line x1="744.1" y1="1970.6" x2="744.1" y2="1983.5"/>
<line x1="759.6" y1="1970.6" x2="759.6" y2="1994.3"/>
<line x1="775.2" y1="1970.6" x2="775.2" y2="1983.5"/>
<line x1="790.8" y1="1970.6" x2="790.8" y2="1983.5"/>
<line x1="806.3" y1="1970.6" x2="806.3" y2="1983.5"/>
<line x1="821.9" y1="1970.6" x2="821.9" y2="1983.5"/>
<line x1="837.4" y1="1970.6" x2="837.4" y2="1994.3"/>
<line x1="853.0" y1="1970.6" x2="853.0" y2="1983.5"/>
<line x1="868.5" y1="1970.6" x2="868.5" y2="1983.5"/>
<line x1="884.1" y1="1970.6" x2="884.1" y2="1983.5"/>
<line x1="899.7" y1="1970.6" x2="899.7" y2="1983.5"/>
<line x1="915.2" y1="1970.6" x2="915.2" y2="1994.3"/>
<line x1="930.8" y1="1970.6" x2="930.8" y2="1983.5"/>
<line x1="946.3" y1="1970.6" x2="946.3" y2="1983.5"/>
<line x1="961.9" y1="1970.6" x2="961.9" y2="1983.5"/>
<line x1="977.4" y1="1970.6" x2="977.4" y2="1983.5"/>
<line x1="993.0" y1="1970.6" x2="993.0" y2="1994.3"/>
<line x1="1008.5" y1="1970.6" x2="1008.5" y2="1983.5"/>
<line x1="1024.1" y1="1970.6" x2="1024.1" y2="1983.5"/>
<line x1="1039.7" y1="1970.6" x2="1039.7" y2="1983.5"/>
<line x1="1055.2" y1="1970.6" x2="1055.2" y2="1983.5"/>
<line x1="1070.8" y1="1970.6" x2="1070.8" y2="1994.3"/>
<line x1="1086.3" y1="1970.6" x2="1086.3" y2="1983.5"/>
<line x1="1101.9" y1="1970.6" x2="1101.9" y2="1983.5"/>
<line x1="1117.4" y1="1970.6" x2="1117.4" y2="1983.5"/>
<line x1="1133.0" y1="1970.6" x2="1133.0" y2="1983.5"/>
<line x1="1148.6" y1="1970.6" x2="1148.6" y2="1994.3"/>
<line x1="1164.1" y1="1970.6" x2="1164.1" y2="1983.5"/>
<line x1="1179.7" y1="1970.6" x2="1179.7" y2="1983.5"/>
<line x1="1195.2" y1="1970.6" x2="1195.2" y2="1983.5"/>
<line x1="1210.8" y1="1970.6" x2="1210.8" y2="1983.5"/>
<line x1="1226.3" y1="1970.6" x2="1226.3" y2="1994.3"/>
<line x1="1241.9" y1="1970.6" x2="1241.9" y2="1983.5"/>
<line x1="1257.5" y1="1970.6" x2="1257.5" y2="1983.5"/>
<line x1="1273.0" y1="1970.6" x2="1273.0" y2="1983.5"/>
<line x1="1288.6" y1="1970.6" x2="1288.6" y2="1983.5"/>
<line x1="1304.1" y1="1970.6" x2="1304.1" y2="1994.3"/>
<line x1="1319.7" y1="1970.6" x2="1319.7" y2="1983.5"/>
<line x1="1335.2" y1="1970.6" x2="1335.2" y2="1983.5"/>
<line x1="1350.8" y1="1970.6" x2="1350.8" y2="1983.5"/>
<line x1="1366.3" y1="1970.6" x2="1366.3" y2="1983.5"/>
<line x1="1381.9" y1="1970.6" x2="1381.9" y2="1994.3"/>
<line x1="137.4" y1="119" x2="1381.9" y2="119"/>
<line x1="137.4" y1="214.8" x2="1381.9" y2="214.8"/>
<line x1="137.4" y1="60.8" x2="137.4" y2="1970.6"/>
<line x1="1381.9" y1="60.8" x2="1381.9" y2="1970.6"/>
<line x1="113.1" y1="254.1" x2="137.4" y2="254.1"/>
<line x1="124.3" y1="271.4" x2="137.4" y2="271.4"/>
<line x1="124.3" y1="288.6" x2="137.4" y2="288.6"/>
<line x1="124.3" y1="305.9" x2="137.4" y2="305.9"/>
<line x1="124.3" y1="323.1" x2="137.4" y2="323.1"/>
<line x1="113.1" y1="340.4" x2="137.4" y2="340.4"/>
<line x1="124.3" y1="357.6" x2="137.4" y2="357.6"/>
<line x1="124.3" y1="374.9" x2="137.4" y2="374.9"/>
<line x1="124.3" y1="392.1" x2="137.4" y2="392.1"/>
<line x1="124.3" y1="409.4" x2="137.4" y2="409.4"/>
<line x1="113.1" y1="426.6" x2="137.4" y2="426.6"/>
<line x1="124.3" y1="443.9" x2="137.4" y2="443.9"/>
<line x1="124.3" y1="461.1" x2="137.4" y2="461.1"/>
<line x1="124.3" y1="478.4" x2="137.4" y2="478.4"/>
<line x1="124.3" y1="495.7" x2="137.4" y2="495.7"/>
<line x1="113.1" y1="512.9" x2="137.4" y2="512.9"/>
<line x1="124.3" y1="530.1" x2="137.4" y2="530.1"/>
<line x1="124.3" y1="547.4" x2="137.4" y2="547.4"/>
<line x1="124.3" y1="564.6" x2="137.4" y2="564.6"/>
<line x1="124.3" y1="581.9" x2="137.4" y2="581.9"/>
<line x1="113.1" y1="599.1" x2="137.4" y2="599.1"/>
<line x1="124.3" y1="616.4" x2="137.4" y2="616.4"/>
<line x1="124.3" y1="633.7" x2="137.4" y2="633.7"/>
<line x1="124.3" y1="650.9" x2="137.4" y2="650.9"/>
<line x1="124.3" y1="668.2" x2="137.4" y2="668.2"/>
<line x1="113.1" y1="685.4" x2="137.4" y2="685.4"/>
<line x1="124.3" y1="702.6" x2="137.4" y2="702.6"/>
<line x1="124.3" y1="719.9" x2="137.4" y2="719.9"/>
<line x1="124.3" y1="737.2" x2="137.4" y2="737.2"/>
<line x1="124.3" y1="754.4" x2="137.4" y2="754.4"/>
<line x1="113.1" y1="771.6" x2="137.4" y2="771.6"/>
<line x1="1381.9" y1="642.2" x2="1395.3" y2="642.2"/>
<line x1="1381.9" y1="679.3" x2="1406.3" y2="679.3"/>
<line x1="1381.9" y1="716.4" x2="1395.3" y2="716.4"/>
<line x1="1381.9" y1="753.4" x2="1406.3" y2="753.4"/>
<line x1="1381.9" y1="790.5" x2="1395.3" y2="790.5"/>
<line x1="1381.9" y1="827.5" x2="1406.3" y2="827.5"/>
<line x1="1381.9" y1="864.5" x2="1395.3" y2="864.5"/>
<line x1="1381.9" y1="901.6" x2="1406.3" y2="901.6"/>
<line x1="1381.9" y1="938.6" x2="1395.3" y2="938.6"/>
<line x1="1381.9" y1="975.7" x2="1406.3" y2="975.7"/>
<line x1="1381.9" y1="1012.8" x2="1395.3" y2="1012.8"/>
<line x1="1381.9" y1="1049.8" x2="1406.3" y2="1049.8"/>
<line x1="1381.9" y1="1086.8" x2="1395.3" y2="1086.8"/>
<line x1="1381.9" y1="1123.9" x2="1406.3" y2="1123.9"/>
<line x1="124.0" y1="1049.9" x2="137.4" y2="1049.9"/>
<line x1="113.3" y1="1101.9" x2="137.4" y2="1101.9"/>
<line x1="124.0" y1="1153.8" x2="137.4" y2="1153.8"/>
<line x1="113.3" y1="1205.8" x2="137.4" y2="1205.8"/>
<line x1="124.0" y1="1257.8" x2="137.4" y2="1257.8"/>
<line x1="113.3" y1="1309.7" x2="137.4" y2="1309.7"/>
<line x1="124.0" y1="1361.7" x2="137.4" y2="1361.7"/>
<line x1="113.3" y1="1413.6" x2="137.4" y2="1413.6"/>
<line x1="124.0" y1="1465.5" x2="137.4" y2="1465.5"/>
<line x1="1381.9" y1="1971.0" x2="1393.6" y2="1971.0"/>
<line x1="1381.9" y1="1936.2" x2="1393.6" y2="1936.2"/>
<line x1="1381.9" y1="1901.5" x2="1393.6" y2="1901.5"/>
<line x1="1381.9" y1="1866.7" x2="1404.6" y2="1866.7"/>
<line x1="1381.9" y1="1832.0" x2="1393.6" y2="1832.0"/>
<line x1="1381.9" y1="1797.2" x2="1393.6" y2="1797.2"/>
<line x1="1381.9" y1="1762.5" x2="1393.6" y2="1762.5"/>
<line x1="1381.9" y1="1727.7" x2="1393.6" y2="1727.7"/>
<line x1="1381.9" y1="1693.0" x2="1404.6" y2="1693.0"/>
<line x1="1381.9" y1="1658.2" x2="1393.6" y2="1658.2"/>
<line x1="1381.9" y1="1623.5" x2="1393.6" y2="1623.5"/>
<line x1="1381.9" y1="1588.7" x2="1393.6" y2="1588.7"/>
<line x1="1381.9" y1="1554.0" x2="1393.6" y2="1554.0"/>
<line x1="1381.9" y1="1519.2" x2="1404.6" y2="1519.2"/>
<line x1="1381.9" y1="1484.5" x2="1393.6" y2="1484.5"/>
<line x1="1381.9" y1="1449.7" x2="1393.6" y2="1449.7"/>
</g>
<g stroke="#333" stroke-width="1.8"><line x1="246.3" y1="139.5" x2="332.2" y2="139.5"/><line x1="246.3" y1="131.5" x2="246.3" y2="147.5"/><line x1="332.2" y1="131.5" x2="332.2" y2="147.5"/></g>
<g stroke="#333" stroke-width="1.8"><line x1="604.3" y1="141.8" x2="666" y2="141.8"/><line x1="763.2" y1="141.8" x2="837.0" y2="141.8"/><line x1="604.3" y1="133.8" x2="604.3" y2="149.8"/><line x1="837.0" y1="133.8" x2="837.0" y2="149.8"/></g>
<g stroke="#333" stroke-width="1.8"><line x1="961.9" y1="181.5" x2="1045.6" y2="181.5"/><line x1="1140.9" y1="181.5" x2="1225.6" y2="181.5"/><line x1="961.9" y1="173.5" x2="961.9" y2="189.5"/><line x1="1225.6" y1="173.5" x2="1225.6" y2="189.5"/></g>
<text x="128.2" y="23.7" font-size="33" fill="#111">0</text>
<text x="130.2" y="2025.3" font-size="26" fill="#111">0</text>
<path d="M763 0L583 0L583 1098C540 1058 483 1018 413 979C342 940 279 910 223 890L223 1057C324 1102 412 1156 487 1221C562 1285 615 1349 646 1409L763 1409Z" transform="translate(285.02,23.70) scale(0.01611,-0.01611)" fill="#111"/>
<path d="M763 0L583 0L583 1098C540 1058 483 1018 413 979C342 940 279 910 223 890L223 1057C324 1102 412 1156 487 1221C562 1285 615 1349 646 1409L763 1409Z" transform="translate(286.70,2025.30) scale(0.01270,-0.01270)" fill="#111"/>
<text x="439.3" y="23.7" font-size="33" fill="#111">2</text>
<text x="441.3" y="2025.3" font-size="26" fill="#111">2</text>
<text x="595.0" y="23.7" font-size="33" fill="#111">3</text>
<text x="596.9" y="2025.3" font-size="26" fill="#111">3</text>
<text x="750.6" y="23.7" font-size="33" fill="#111">4</text>
<text x="752.5" y="2025.3" font-size="26" fill="#111">4</text>
<text x="906.1" y="23.7" font-size="33" fill="#111">5</text>
<text x="908.0" y="2025.3" font-size="26" fill="#111">5</text>
<text x="1061.5" y="23.7" font-size="33" fill="#111">6</text>
<text x="1063.5" y="2025.3" font-size="26" fill="#111">6</text>
<text x="1217.1" y="23.7" font-size="33" fill="#111">7</text>
<text x="1219.1" y="2025.3" font-size="26" fill="#111">7</text>
<text x="1372.7" y="23.7" font-size="33" fill="#111">8</text>
<text x="1374.7" y="2025.3" font-size="26" fill="#111">8</text>
<text x="90.9" y="351.3" font-size="26" fill="#111">3</text>
<text x="90.5" y="523.8" font-size="26" fill="#111">4</text>
<text x="90.8" y="696.3" font-size="26" fill="#111">5</text>
<text x="1414.4" y="688.0" font-size="26" fill="#111">4</text>
<text x="1415.0" y="836.2" font-size="26" fill="#111">0</text>
<text x="1404.2" y="984.4" font-size="26" fill="#111">-4</text>
<text x="1404.0" y="1132.6" font-size="26" fill="#111">-8</text>
<text x="79.9" y="1228.1" font-size="33" fill="#111">0</text>
<text x="67.6" y="1435.8" font-size="33" fill="#111">-4</text>
<path d="M763 0L583 0L583 1098C540 1058 483 1018 413 979C342 940 279 910 223 890L223 1057C324 1102 412 1156 487 1221C562 1285 615 1349 646 1409L763 1409Z" transform="translate(1409.07,1528.10) scale(0.01270,-0.01270)" fill="#111"/>
<text x="1423.53" y="1528.1" font-size="26" fill="#111">5</text>
<path d="M763 0L583 0L583 1098C540 1058 483 1018 413 979C342 940 279 910 223 890L223 1057C324 1102 412 1156 487 1221C562 1285 615 1349 646 1409L763 1409Z" transform="translate(1409.07,1701.85) scale(0.01270,-0.01270)" fill="#111"/>
<text x="1423.53" y="1701.9" font-size="26" fill="#111">0</text>
<text x="1416.0" y="1874.7" font-size="26" fill="#111">5</text>
<text x="706.7" y="2059.6" font-size="25.85" fill="#111">age [Ma]</text>
<text x="272.0" y="103.0" font-size="25.85" fill="#111">Pleistocene</text>
<text x="700.0" y="102.8" font-size="25.85" fill="#111">Pliocene</text>
<text x="1120.7" y="101.1" font-size="25.85" fill="#111">Miocene</text>
<text x="260.4" y="171.6" font-size="25.85" fill="#1a1a1a">MPT</text>
<text x="682.6" y="156.9" font-size="25.85" fill="#f15c3f">PWP</text>
<text x="932.8" y="157.0" font-size="25.85" fill="#f15c3f">PTR</text>
<text x="522.7" y="187.6" font-size="34" fill="#0095d6">iNHG</text>
<text x="1063.6" y="190.7" font-size="25.85" fill="#0095d6">LMC</text>
<line x1="564" y1="119.5" x2="564" y2="140" stroke="#00a6ec" stroke-width="2.2"/><polygon points="564,155 559.2,139 564,139 568.8,139" fill="#00a6ec"/>
<text x="464.6" y="266.1" font-size="25.85" fill="#00aeef">NHG</text>
<text x="452.3" y="295.5" font-size="25.85" fill="#00aeef">cooling</text>
<text x="630.9" y="296.7" font-size="25.85" fill="#3c3c3c">global climate trend</text>
<text x="640.0" y="599.6" font-size="25.85" fill="#2c3e98">global mean surface</text>
<text x="686.1" y="631.2" font-size="25.85" fill="#2c3e98">temperature</text>
<text x="594.4" y="948.7" font-size="25.85" fill="#74479d">SH extratropical climate trend</text>
<text x="710.8" y="981.1" font-size="25.85" fill="#74479d">30°-45°S</text>
<text x="660.5" y="1394.9" font-size="25.85" fill="#c32026">ESP climate trend</text>
<text x="735.9" y="1426.1" font-size="25.85" fill="#c32026">54°S</text>
<text x="408.7" y="1499.5" font-size="25.85" fill="#f15c3f">Pliocene to Pleistocene</text>
<text x="494.1" y="1527.7" font-size="25.85" fill="#f15c3f">warming</text>
<text x="238.7" y="1579.0" font-size="25.85" fill="#00aeef">Pleistocene</text>
<text x="265.4" y="1607.2" font-size="25.85" fill="#00aeef">cooling</text>
<text x="748.6" y="1531.7" font-size="25.85" fill="#00aeef">Early Pliocene</text>
<text x="789.8" y="1560.4" font-size="25.85" fill="#00aeef">cooling</text>
<text x="653.6" y="1589.7" font-size="25.85" fill="#00aeef">mid-Pliocene</text>
<text x="643.4" y="1618.7" font-size="25.85" fill="#00aeef">3.7 Ma cooling</text>
<text x="946.0" y="1497.0" font-size="25.85" fill="#f15c3f">PTR</text>
<text x="925.0" y="1524.2" font-size="25.85" fill="#f15c3f">warming</text>
<text x="1154.4" y="1484.1" font-size="25.85" fill="#00aeef">LMC</text>
<text x="1141.6" y="1512.0" font-size="25.85" fill="#00aeef">cooling</text>
<text x="1245.4" y="1786.1" font-size="22" fill="#5a5a5a">modern SST</text>
<circle cx="23.9" cy="276.3" r="22.1" fill="none" stroke="#1a1a1a" stroke-width="1.5"/>
<text x="16.2" y="286.7" font-size="25.85" fill="#333">a</text>
<circle cx="22.9" cy="752.2" r="22.1" fill="none" stroke="#1a1a1a" stroke-width="1.5"/>
<text x="15.4" y="762.6" font-size="25.85" fill="#2c3e98">b</text>
<circle cx="23.0" cy="1063.4" r="22.1" fill="none" stroke="#1a1a1a" stroke-width="1.5"/>
<text x="16.3" y="1073.8" font-size="25.85" fill="#74479d">c</text>
<circle cx="28.1" cy="1565.7" r="22.1" fill="none" stroke="#1a1a1a" stroke-width="1.5"/>
<text x="21.2" y="1576.1" font-size="25.85" fill="#c32026">d</text>
<text transform="translate(71.8,631.8) rotate(-90)" font-size="25" fill="#444">global benthic δ<tspan font-size="14" dy="-9.5">18</tspan><tspan dy="9.5">O [‰]</tspan></text>
<text transform="translate(1479.3,975.3) rotate(-90)" font-size="25.7" fill="#2c3e98">GMST [°C]</text>
<text transform="translate(70.3,1388.6) rotate(-90)" font-size="25.6" fill="#74479d">SH extratropics T [°C]</text>
<text transform="translate(1484.3,1781.4) rotate(-90)" font-size="25.7" fill="#c32026">SST [°C]<tspan dx="13">U</tspan><tspan font-size="14" dy="-10">K'</tspan><tspan font-size="15" dy="22" dx="-3.5">37</tspan></text>
<line x1="139.4" y1="1797.6" x2="1380.9" y2="1797.6" stroke="#5f5f5f" stroke-width="2" stroke-dasharray="7.2 7.5"/>
<line x1="625.4" y1="270" x2="486.6" y2="336.8" stroke="#00aeef" stroke-width="4.0"/><polygon points="463.2,348.1 486.2,326.7 487.5,336.4 494.3,343.5" fill="#00aeef"/>
<line x1="616.7" y1="646.1" x2="478.8" y2="711.9" stroke="#00aeef" stroke-width="4.0"/><polygon points="455.3,723.1 478.4,701.8 479.7,711.5 486.4,718.6" fill="#00aeef"/>
<line x1="424" y1="1030" x2="227.1" y2="1171.8" stroke="#00aeef" stroke-width="4.0"/><polygon points="206,1187 224.9,1161.9 227.9,1171.2 235.8,1177" fill="#00aeef"/>
<line x1="465.3" y1="1563.9" x2="175.1" y2="1697.4" stroke="#00aeef" stroke-width="4.0"/><polygon points="151.5,1708.3 174.9,1687.3 176,1697 182.6,1704.2" fill="#00aeef"/>
<line x1="607" y1="1660" x2="515.5" y2="1567.1" stroke="#f15c3f" stroke-width="4.0"/><polygon points="497.3,1548.6 525,1563.5 516.2,1567.8 511.7,1576.5" fill="#f15c3f"/>
<line x1="716.8" y1="1630.8" x2="716.8" y2="1674.1" stroke="#00aeef" stroke-width="4.0"/><polygon points="716.8,1702.6 707.5,1671.6 716.8,1673.1 726.1,1671.6" fill="#00aeef"/>
<line x1="930.2" y1="1557.5" x2="744.9" y2="1709.6" stroke="#00aeef" stroke-width="4.0"/><polygon points="724.8,1726.1 742.1,1699.9 745.7,1709 753.9,1714.3" fill="#00aeef"/>
<line x1="1060.3" y1="1663" x2="965.3" y2="1566.2" stroke="#f15c3f" stroke-width="4.0"/><polygon points="947.1,1547.6 974.7,1562.5 966,1566.9 961.5,1575.5" fill="#f15c3f"/>
<line x1="1350.5" y1="1437" x2="1093.2" y2="1625.2" stroke="#00aeef" stroke-width="4.0"/><polygon points="1072.2,1640.6 1090.9,1615.4 1094,1624.7 1101.9,1630.4" fill="#00aeef"/>
<g stroke="#6a6a6a" stroke-width="1.4">
<line x1="541.9" y1="61.8" x2="541.9" y2="1969.6"/>
<line x1="961.9" y1="61.8" x2="961.9" y2="1969.6"/>
</g>
</svg>
</body></html>
